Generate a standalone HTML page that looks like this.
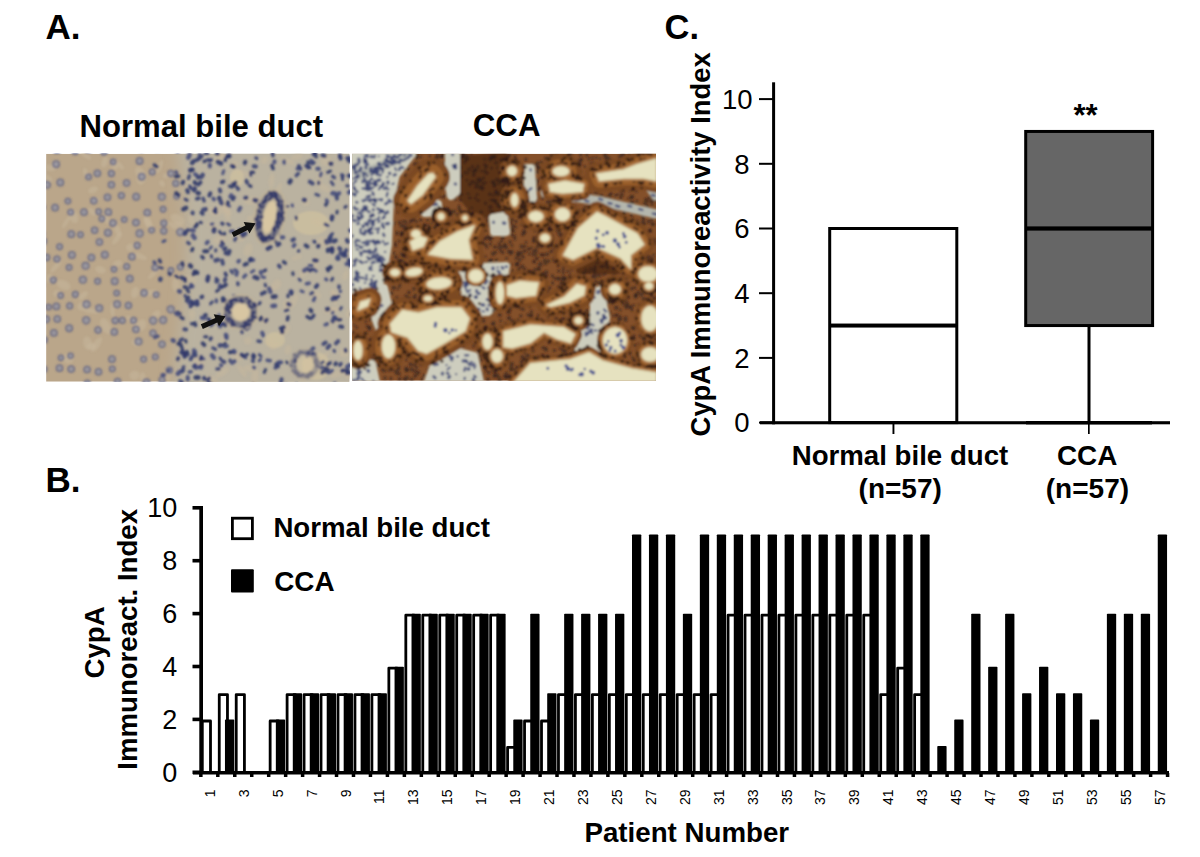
<!DOCTYPE html>
<html><head><meta charset="utf-8"><style>
html,body{margin:0;padding:0;background:#fff;}
body{width:1200px;height:857px;overflow:hidden;}
svg{display:block;}
text{font-family:"Liberation Sans",sans-serif;}
</style></head><body>
<svg width="1200" height="857" viewBox="0 0 1200 857">
<defs>
<filter id="blur2" x="-5%" y="-5%" width="110%" height="110%"><feGaussianBlur stdDeviation="1.2"/></filter>
<filter id="blur3" x="-5%" y="-5%" width="110%" height="110%"><feGaussianBlur stdDeviation="0.8"/></filter>
<filter id="blur6" x="-20%" y="-20%" width="140%" height="140%"><feGaussianBlur stdDeviation="7"/></filter>
<filter id="blur1" x="-5%" y="-5%" width="110%" height="110%"><feGaussianBlur stdDeviation="0.7"/></filter>
<linearGradient id="ngrad" x1="0" y1="0" x2="1" y2="0">
<stop offset="0" stop-color="#c8b090" stop-opacity="0.5"/>
<stop offset="0.5" stop-color="#c4ae8e" stop-opacity="0.3"/>
<stop offset="1" stop-color="#a8a8a8" stop-opacity="0.4"/>
</linearGradient>
</defs>
<text x="45.60" y="39.00" font-size="35" font-weight="bold" text-anchor="start" fill="#000">A.</text>
<text x="79.50" y="136.70" font-size="31.1" font-weight="bold" text-anchor="start" fill="#000">Normal bile duct</text>
<text x="472.75" y="136.00" font-size="31.25" font-weight="bold" text-anchor="start" fill="#000">CCA</text>
<clipPath id="cpn"><rect x="46.1" y="153.8" width="303.29999999999995" height="227.89999999999998"/></clipPath>
<g clip-path="url(#cpn)">
<rect x="46.1" y="153.8" width="303.29999999999995" height="227.89999999999998" fill="#baa68a"/>
<g filter="url(#blur6)">
<polygon points="173.8,120.0 175.0,130.0 176.3,140.0 177.6,150.0 178.9,160.0 180.2,170.0 181.5,180.0 182.6,190.0 183.6,200.0 184.5,210.0 185.2,220.0 185.7,230.0 185.9,240.0 186.0,250.0 185.8,260.0 185.4,270.0 184.8,280.0 184.1,290.0 183.1,300.0 182.0,310.0 180.8,320.0 179.5,330.0 178.2,340.0 176.9,350.0 175.6,360.0 174.3,370.0 173.2,380.0 172.2,390.0 171.4,400.0 170.7,410.0 380.0,420.0 380.0,120.0" fill="#bab2a0"/>
</g>
<g filter="url(#blur3)">
<ellipse cx="235.0" cy="322.9" rx="7.8" ry="4.8" transform="rotate(133 235.0 322.9)" fill="#c8b89e" opacity="0.5"/>
<ellipse cx="325.8" cy="160.4" rx="5.8" ry="4.8" transform="rotate(117 325.8 160.4)" fill="#c8b89e" opacity="0.5"/>
<ellipse cx="319.3" cy="179.6" rx="5.8" ry="2.7" transform="rotate(98 319.3 179.6)" fill="#c8b89e" opacity="0.5"/>
<ellipse cx="220.2" cy="156.8" rx="4.3" ry="2.8" transform="rotate(165 220.2 156.8)" fill="#c8b89e" opacity="0.5"/>
<ellipse cx="278.3" cy="190.2" rx="7.8" ry="2.4" transform="rotate(111 278.3 190.2)" fill="#c8b89e" opacity="0.5"/>
<ellipse cx="84.5" cy="154.2" rx="8.2" ry="2.6" transform="rotate(39 84.5 154.2)" fill="#c8b89e" opacity="0.5"/>
<ellipse cx="344.1" cy="352.6" rx="4.7" ry="4.9" transform="rotate(97 344.1 352.6)" fill="#c8b89e" opacity="0.5"/>
<ellipse cx="251.7" cy="200.5" rx="8.6" ry="4.1" transform="rotate(174 251.7 200.5)" fill="#c8b89e" opacity="0.5"/>
<ellipse cx="317.2" cy="221.9" rx="5.2" ry="2.5" transform="rotate(26 317.2 221.9)" fill="#c8b89e" opacity="0.5"/>
<ellipse cx="65.9" cy="222.5" rx="6.6" ry="2.0" transform="rotate(122 65.9 222.5)" fill="#c8b89e" opacity="0.5"/>
<ellipse cx="148.6" cy="224.4" rx="7.9" ry="3.4" transform="rotate(57 148.6 224.4)" fill="#c8b89e" opacity="0.5"/>
<ellipse cx="192.1" cy="314.4" rx="3.3" ry="4.9" transform="rotate(4 192.1 314.4)" fill="#c8b89e" opacity="0.5"/>
<ellipse cx="273.5" cy="346.3" rx="3.1" ry="4.4" transform="rotate(66 273.5 346.3)" fill="#c8b89e" opacity="0.5"/>
<ellipse cx="221.6" cy="155.9" rx="3.3" ry="2.5" transform="rotate(172 221.6 155.9)" fill="#c8b89e" opacity="0.5"/>
<ellipse cx="105.7" cy="326.0" rx="8.6" ry="4.8" transform="rotate(62 105.7 326.0)" fill="#c8b89e" opacity="0.5"/>
<ellipse cx="153.7" cy="273.4" rx="7.7" ry="2.3" transform="rotate(135 153.7 273.4)" fill="#c8b89e" opacity="0.5"/>
<ellipse cx="287.9" cy="349.7" rx="3.2" ry="4.8" transform="rotate(16 287.9 349.7)" fill="#c8b89e" opacity="0.5"/>
<ellipse cx="149.4" cy="293.0" rx="8.5" ry="3.0" transform="rotate(166 149.4 293.0)" fill="#c8b89e" opacity="0.5"/>
<ellipse cx="211.4" cy="225.0" rx="4.9" ry="2.5" transform="rotate(14 211.4 225.0)" fill="#c8b89e" opacity="0.5"/>
<ellipse cx="91.3" cy="310.9" rx="9.0" ry="2.5" transform="rotate(9 91.3 310.9)" fill="#c8b89e" opacity="0.5"/>
<ellipse cx="345.4" cy="275.4" rx="5.4" ry="2.7" transform="rotate(107 345.4 275.4)" fill="#c8b89e" opacity="0.5"/>
<ellipse cx="296.7" cy="257.6" rx="5.5" ry="2.2" transform="rotate(165 296.7 257.6)" fill="#c8b89e" opacity="0.5"/>
<ellipse cx="56.0" cy="266.3" rx="8.0" ry="2.4" transform="rotate(132 56.0 266.3)" fill="#c8b89e" opacity="0.5"/>
<ellipse cx="334.2" cy="297.5" rx="7.7" ry="2.3" transform="rotate(78 334.2 297.5)" fill="#c8b89e" opacity="0.5"/>
<ellipse cx="91.4" cy="346.3" rx="4.8" ry="3.4" transform="rotate(180 91.4 346.3)" fill="#c8b89e" opacity="0.5"/>
<ellipse cx="304.6" cy="376.2" rx="5.7" ry="3.5" transform="rotate(131 304.6 376.2)" fill="#c8b89e" opacity="0.5"/>
<ellipse cx="191.4" cy="220.1" rx="5.4" ry="2.4" transform="rotate(68 191.4 220.1)" fill="#c8b89e" opacity="0.5"/>
<ellipse cx="345.9" cy="372.5" rx="6.8" ry="3.5" transform="rotate(61 345.9 372.5)" fill="#c8b89e" opacity="0.5"/>
<ellipse cx="73.1" cy="215.9" rx="7.7" ry="4.6" transform="rotate(65 73.1 215.9)" fill="#c8b89e" opacity="0.5"/>
<ellipse cx="284.5" cy="330.4" rx="7.2" ry="4.0" transform="rotate(137 284.5 330.4)" fill="#c8b89e" opacity="0.5"/>
<ellipse cx="156.3" cy="314.3" rx="4.7" ry="3.5" transform="rotate(139 156.3 314.3)" fill="#c8b89e" opacity="0.5"/>
<ellipse cx="255.6" cy="220.8" rx="8.7" ry="3.9" transform="rotate(105 255.6 220.8)" fill="#c8b89e" opacity="0.5"/>
<ellipse cx="49.6" cy="278.5" rx="4.5" ry="4.0" transform="rotate(83 49.6 278.5)" fill="#c8b89e" opacity="0.5"/>
<ellipse cx="293.8" cy="301.4" rx="7.8" ry="3.0" transform="rotate(116 293.8 301.4)" fill="#c8b89e" opacity="0.5"/>
<ellipse cx="269.9" cy="342.5" rx="5.1" ry="4.5" transform="rotate(157 269.9 342.5)" fill="#c8b89e" opacity="0.5"/>
<ellipse cx="254.9" cy="376.3" rx="8.7" ry="3.6" transform="rotate(95 254.9 376.3)" fill="#c8b89e" opacity="0.5"/>
<ellipse cx="96.5" cy="344.5" rx="8.6" ry="3.4" transform="rotate(124 96.5 344.5)" fill="#c8b89e" opacity="0.5"/>
<ellipse cx="264.4" cy="320.2" rx="4.0" ry="4.3" transform="rotate(105 264.4 320.2)" fill="#c8b89e" opacity="0.5"/>
<ellipse cx="248.0" cy="249.7" rx="6.7" ry="4.3" transform="rotate(115 248.0 249.7)" fill="#c8b89e" opacity="0.5"/>
<ellipse cx="264.6" cy="160.1" rx="4.0" ry="3.3" transform="rotate(117 264.6 160.1)" fill="#c8b89e" opacity="0.5"/>
<ellipse cx="112.5" cy="310.1" rx="6.8" ry="2.1" transform="rotate(85 112.5 310.1)" fill="#c8b89e" opacity="0.5"/>
<ellipse cx="114.7" cy="166.1" rx="3.8" ry="3.0" transform="rotate(33 114.7 166.1)" fill="#c8b89e" opacity="0.5"/>
<ellipse cx="104.7" cy="161.9" rx="5.8" ry="3.1" transform="rotate(110 104.7 161.9)" fill="#c8b89e" opacity="0.5"/>
<ellipse cx="225.1" cy="208.0" rx="8.4" ry="2.0" transform="rotate(73 225.1 208.0)" fill="#c8b89e" opacity="0.5"/>
<ellipse cx="130.6" cy="247.2" rx="3.7" ry="4.5" transform="rotate(67 130.6 247.2)" fill="#c8b89e" opacity="0.5"/>
<ellipse cx="57.0" cy="293.6" rx="3.6" ry="3.6" transform="rotate(61 57.0 293.6)" fill="#c8b89e" opacity="0.5"/>
<ellipse cx="222.3" cy="372.2" rx="7.9" ry="3.3" transform="rotate(146 222.3 372.2)" fill="#c8b89e" opacity="0.5"/>
<ellipse cx="240.9" cy="238.0" rx="3.9" ry="3.8" transform="rotate(101 240.9 238.0)" fill="#c8b89e" opacity="0.5"/>
<ellipse cx="336.4" cy="374.4" rx="6.7" ry="3.1" transform="rotate(161 336.4 374.4)" fill="#c8b89e" opacity="0.5"/>
<ellipse cx="46.4" cy="178.4" rx="6.4" ry="3.8" transform="rotate(25 46.4 178.4)" fill="#c8b89e" opacity="0.5"/>
<ellipse cx="237.0" cy="356.9" rx="5.3" ry="3.3" transform="rotate(41 237.0 356.9)" fill="#c8b89e" opacity="0.5"/>
<ellipse cx="134.5" cy="375.4" rx="5.3" ry="4.9" transform="rotate(164 134.5 375.4)" fill="#c8b89e" opacity="0.5"/>
<ellipse cx="226.8" cy="213.0" rx="8.9" ry="3.5" transform="rotate(75 226.8 213.0)" fill="#c8b89e" opacity="0.5"/>
<ellipse cx="142.9" cy="378.1" rx="6.0" ry="2.9" transform="rotate(86 142.9 378.1)" fill="#c8b89e" opacity="0.5"/>
<ellipse cx="83.1" cy="295.5" rx="5.7" ry="2.9" transform="rotate(141 83.1 295.5)" fill="#c8b89e" opacity="0.5"/>
<ellipse cx="296.9" cy="156.8" rx="6.2" ry="2.8" transform="rotate(168 296.9 156.8)" fill="#c8b89e" opacity="0.5"/>
<ellipse cx="283.3" cy="209.8" rx="4.6" ry="2.5" transform="rotate(178 283.3 209.8)" fill="#c8b89e" opacity="0.5"/>
<ellipse cx="135.0" cy="292.4" rx="5.8" ry="3.9" transform="rotate(109 135.0 292.4)" fill="#c8b89e" opacity="0.5"/>
<ellipse cx="271.6" cy="180.7" rx="7.6" ry="2.9" transform="rotate(96 271.6 180.7)" fill="#c8b89e" opacity="0.5"/>
<ellipse cx="148.0" cy="221.4" rx="6.2" ry="3.4" transform="rotate(65 148.0 221.4)" fill="#c8b89e" opacity="0.5"/>
<ellipse cx="272.1" cy="288.4" rx="3.2" ry="2.8" transform="rotate(82 272.1 288.4)" fill="#c8b89e" opacity="0.5"/>
<ellipse cx="324.1" cy="356.2" rx="6.3" ry="2.0" transform="rotate(140 324.1 356.2)" fill="#c8b89e" opacity="0.5"/>
<ellipse cx="175.8" cy="285.0" rx="7.2" ry="3.9" transform="rotate(87 175.8 285.0)" fill="#c8b89e" opacity="0.5"/>
<ellipse cx="322.6" cy="241.6" rx="5.4" ry="4.6" transform="rotate(35 322.6 241.6)" fill="#c8b89e" opacity="0.5"/>
<ellipse cx="136.0" cy="343.0" rx="3.4" ry="4.5" transform="rotate(125 136.0 343.0)" fill="#c8b89e" opacity="0.5"/>
<ellipse cx="177.4" cy="219.1" rx="7.7" ry="4.7" transform="rotate(26 177.4 219.1)" fill="#c8b89e" opacity="0.5"/>
<ellipse cx="191.2" cy="278.9" rx="6.0" ry="3.0" transform="rotate(28 191.2 278.9)" fill="#c8b89e" opacity="0.5"/>
<ellipse cx="223.8" cy="338.8" rx="3.4" ry="2.7" transform="rotate(148 223.8 338.8)" fill="#c8b89e" opacity="0.5"/>
<ellipse cx="286.2" cy="305.0" rx="3.2" ry="4.2" transform="rotate(176 286.2 305.0)" fill="#c8b89e" opacity="0.5"/>
<ellipse cx="348.9" cy="313.6" rx="3.3" ry="4.5" transform="rotate(39 348.9 313.6)" fill="#c8b89e" opacity="0.5"/>
<ellipse cx="242.0" cy="370.8" rx="7.3" ry="2.4" transform="rotate(53 242.0 370.8)" fill="#c8b89e" opacity="0.5"/>
<ellipse cx="324.5" cy="187.9" rx="6.7" ry="3.2" transform="rotate(29 324.5 187.9)" fill="#c8b89e" opacity="0.5"/>
<ellipse cx="234.9" cy="163.7" rx="3.6" ry="3.1" transform="rotate(13 234.9 163.7)" fill="#c8b89e" opacity="0.5"/>
<ellipse cx="63.6" cy="284.9" rx="7.5" ry="4.6" transform="rotate(24 63.6 284.9)" fill="#c8b89e" opacity="0.5"/>
<ellipse cx="177.0" cy="225.5" rx="6.6" ry="3.5" transform="rotate(169 177.0 225.5)" fill="#c8b89e" opacity="0.5"/>
<ellipse cx="159.6" cy="166.5" rx="7.2" ry="2.5" transform="rotate(114 159.6 166.5)" fill="#c8b89e" opacity="0.5"/>
<ellipse cx="199.5" cy="361.3" rx="6.3" ry="3.9" transform="rotate(47 199.5 361.3)" fill="#c8b89e" opacity="0.5"/>
<ellipse cx="213.4" cy="211.7" rx="7.5" ry="3.6" transform="rotate(24 213.4 211.7)" fill="#c8b89e" opacity="0.5"/>
<ellipse cx="117.2" cy="238.4" rx="7.4" ry="2.5" transform="rotate(128 117.2 238.4)" fill="#c8b89e" opacity="0.5"/>
<ellipse cx="244.8" cy="173.2" rx="7.0" ry="2.3" transform="rotate(22 244.8 173.2)" fill="#c8b89e" opacity="0.5"/>
<ellipse cx="226.3" cy="208.2" rx="8.3" ry="3.4" transform="rotate(58 226.3 208.2)" fill="#c8b89e" opacity="0.5"/>
<ellipse cx="287.7" cy="160.5" rx="7.4" ry="2.2" transform="rotate(27 287.7 160.5)" fill="#c8b89e" opacity="0.5"/>
<ellipse cx="334.9" cy="309.0" rx="4.3" ry="2.3" transform="rotate(175 334.9 309.0)" fill="#c8b89e" opacity="0.5"/>
<ellipse cx="247.8" cy="340.8" rx="3.8" ry="3.9" transform="rotate(64 247.8 340.8)" fill="#c8b89e" opacity="0.5"/>
<ellipse cx="117.4" cy="229.8" rx="6.7" ry="3.0" transform="rotate(69 117.4 229.8)" fill="#c8b89e" opacity="0.5"/>
<ellipse cx="87.5" cy="343.2" rx="6.9" ry="4.4" transform="rotate(78 87.5 343.2)" fill="#c8b89e" opacity="0.5"/>
<ellipse cx="304.4" cy="271.7" rx="6.6" ry="3.7" transform="rotate(133 304.4 271.7)" fill="#c8b89e" opacity="0.5"/>
<ellipse cx="166.1" cy="175.9" rx="3.2" ry="2.6" transform="rotate(7 166.1 175.9)" fill="#c8b89e" opacity="0.5"/>
<ellipse cx="315.8" cy="263.4" rx="7.6" ry="2.0" transform="rotate(85 315.8 263.4)" fill="#c8b89e" opacity="0.5"/>
<ellipse cx="316.0" cy="295.0" rx="5.6" ry="3.4" transform="rotate(18 316.0 295.0)" fill="#c8b89e" opacity="0.5"/>
<ellipse cx="93.0" cy="190.0" rx="5.2" ry="3.2" transform="rotate(158 93.0 190.0)" fill="#c8b89e" opacity="0.5"/>
<ellipse cx="92.2" cy="211.7" rx="4.7" ry="2.5" transform="rotate(52 92.2 211.7)" fill="#c8b89e" opacity="0.5"/>
<ellipse cx="117.4" cy="263.7" rx="3.2" ry="4.8" transform="rotate(66 117.4 263.7)" fill="#c8b89e" opacity="0.5"/>
<ellipse cx="330.6" cy="310.5" rx="7.0" ry="3.4" transform="rotate(170 330.6 310.5)" fill="#c8b89e" opacity="0.5"/>
<ellipse cx="81.9" cy="306.2" rx="4.7" ry="4.0" transform="rotate(131 81.9 306.2)" fill="#c8b89e" opacity="0.5"/>
<ellipse cx="95.6" cy="199.6" rx="3.1" ry="2.7" transform="rotate(14 95.6 199.6)" fill="#c8b89e" opacity="0.5"/>
<ellipse cx="167.7" cy="375.7" rx="5.2" ry="2.9" transform="rotate(84 167.7 375.7)" fill="#c8b89e" opacity="0.5"/>
<ellipse cx="132.0" cy="320.7" rx="7.3" ry="2.5" transform="rotate(43 132.0 320.7)" fill="#c8b89e" opacity="0.5"/>
<ellipse cx="250.0" cy="368.1" rx="6.9" ry="3.3" transform="rotate(176 250.0 368.1)" fill="#c8b89e" opacity="0.5"/>
<ellipse cx="48.0" cy="167.7" rx="7.7" ry="3.2" transform="rotate(8 48.0 167.7)" fill="#c8b89e" opacity="0.5"/>
<ellipse cx="212.4" cy="379.3" rx="6.1" ry="3.1" transform="rotate(17 212.4 379.3)" fill="#c8b89e" opacity="0.5"/>
<ellipse cx="67.7" cy="358.6" rx="5.9" ry="4.8" transform="rotate(10 67.7 358.6)" fill="#c8b89e" opacity="0.5"/>
<ellipse cx="119.9" cy="165.3" rx="5.4" ry="2.2" transform="rotate(46 119.9 165.3)" fill="#c8b89e" opacity="0.5"/>
<ellipse cx="169.7" cy="223.5" rx="3.3" ry="2.1" transform="rotate(175 169.7 223.5)" fill="#c8b89e" opacity="0.5"/>
<ellipse cx="100.5" cy="269.7" rx="5.4" ry="3.6" transform="rotate(15 100.5 269.7)" fill="#c8b89e" opacity="0.5"/>
<ellipse cx="141.3" cy="178.4" rx="6.3" ry="4.8" transform="rotate(108 141.3 178.4)" fill="#c8b89e" opacity="0.5"/>
<ellipse cx="306.0" cy="202.7" rx="3.1" ry="3.6" transform="rotate(88 306.0 202.7)" fill="#c8b89e" opacity="0.5"/>
<ellipse cx="219.4" cy="239.6" rx="6.8" ry="4.2" transform="rotate(164 219.4 239.6)" fill="#c8b89e" opacity="0.5"/>
<ellipse cx="139.4" cy="256.1" rx="8.0" ry="2.7" transform="rotate(21 139.4 256.1)" fill="#c8b89e" opacity="0.5"/>
<ellipse cx="140.6" cy="173.8" rx="7.6" ry="4.5" transform="rotate(56 140.6 173.8)" fill="#c8b89e" opacity="0.5"/>
<ellipse cx="85.5" cy="172.5" rx="4.5" ry="2.3" transform="rotate(77 85.5 172.5)" fill="#c8b89e" opacity="0.5"/>
<ellipse cx="221.1" cy="209.7" rx="3.4" ry="4.1" transform="rotate(9 221.1 209.7)" fill="#c8b89e" opacity="0.5"/>
<ellipse cx="106.7" cy="219.0" rx="5.2" ry="2.3" transform="rotate(76 106.7 219.0)" fill="#c8b89e" opacity="0.5"/>
<ellipse cx="141.3" cy="325.3" rx="6.3" ry="4.7" transform="rotate(118 141.3 325.3)" fill="#c8b89e" opacity="0.5"/>
<ellipse cx="276.5" cy="284.8" rx="5.7" ry="4.5" transform="rotate(118 276.5 284.8)" fill="#c8b89e" opacity="0.5"/>
<ellipse cx="335.7" cy="319.7" rx="7.2" ry="2.8" transform="rotate(146 335.7 319.7)" fill="#c8b89e" opacity="0.5"/>
<ellipse cx="162.1" cy="183.5" rx="3.4" ry="2.5" transform="rotate(47 162.1 183.5)" fill="#c8b89e" opacity="0.5"/>
<ellipse cx="251.1" cy="218.9" rx="3.4" ry="4.3" transform="rotate(100 251.1 218.9)" fill="#c8b89e" opacity="0.5"/>
<ellipse cx="54.4" cy="165.3" rx="3.8" ry="3.1" transform="rotate(155 54.4 165.3)" fill="#c8b89e" opacity="0.5"/>
<ellipse cx="334.0" cy="293.3" rx="4.4" ry="3.3" transform="rotate(65 334.0 293.3)" fill="#c8b89e" opacity="0.5"/>
<ellipse cx="237" cy="178" rx="7" ry="9" fill="#cdbf9f" opacity="0.8"/>
<ellipse cx="311" cy="223" rx="18" ry="12" fill="#cdbf9f" opacity="0.8"/>
<ellipse cx="316" cy="366" rx="14" ry="14" fill="#cdbf9f" opacity="0.8"/>
<ellipse cx="275" cy="340" rx="10" ry="8" fill="#cdbf9f" opacity="0.8"/>
<circle cx="56.9" cy="150.0" r="3.2" fill="#8e92a6" stroke="#4c5482" stroke-width="1.5" opacity="0.7"/>
<circle cx="75.2" cy="151.6" r="2.9" fill="#8e92a6" stroke="#4c5482" stroke-width="1.5" opacity="0.7"/>
<circle cx="87.9" cy="149.4" r="3.2" fill="#8e92a6" stroke="#4c5482" stroke-width="1.5" opacity="0.7"/>
<circle cx="104.1" cy="152.6" r="2.7" fill="#8e92a6" stroke="#4c5482" stroke-width="1.5" opacity="0.7"/>
<circle cx="141.4" cy="148.5" r="3.0" fill="#8e92a6" stroke="#4c5482" stroke-width="1.5" opacity="0.7"/>
<circle cx="157.4" cy="148.2" r="2.8" fill="#8e92a6" stroke="#4c5482" stroke-width="1.5" opacity="0.7"/>
<circle cx="40.2" cy="160.8" r="3.2" fill="#8e92a6" stroke="#4c5482" stroke-width="1.5" opacity="0.7"/>
<circle cx="56.1" cy="164.2" r="3.2" fill="#8e92a6" stroke="#4c5482" stroke-width="1.5" opacity="0.7"/>
<circle cx="113.2" cy="161.9" r="2.6" fill="#8e92a6" stroke="#4c5482" stroke-width="1.5" opacity="0.7"/>
<circle cx="139.6" cy="161.0" r="3.2" fill="#8e92a6" stroke="#4c5482" stroke-width="1.5" opacity="0.7"/>
<circle cx="41.1" cy="172.0" r="2.7" fill="#8e92a6" stroke="#4c5482" stroke-width="1.5" opacity="0.7"/>
<circle cx="88.6" cy="176.9" r="2.7" fill="#8e92a6" stroke="#4c5482" stroke-width="1.5" opacity="0.7"/>
<circle cx="97.4" cy="173.3" r="3.1" fill="#8e92a6" stroke="#4c5482" stroke-width="1.5" opacity="0.7"/>
<circle cx="111.4" cy="173.5" r="2.9" fill="#8e92a6" stroke="#4c5482" stroke-width="1.5" opacity="0.7"/>
<circle cx="141.7" cy="176.8" r="3.2" fill="#8e92a6" stroke="#4c5482" stroke-width="1.5" opacity="0.7"/>
<circle cx="152.3" cy="171.8" r="2.9" fill="#8e92a6" stroke="#4c5482" stroke-width="1.5" opacity="0.7"/>
<circle cx="170.8" cy="173.4" r="3.0" fill="#8e92a6" stroke="#4c5482" stroke-width="1.5" opacity="0.7"/>
<circle cx="46.9" cy="184.8" r="3.3" fill="#8e92a6" stroke="#4c5482" stroke-width="1.5" opacity="0.7"/>
<circle cx="60.3" cy="182.5" r="3.2" fill="#8e92a6" stroke="#4c5482" stroke-width="1.5" opacity="0.7"/>
<circle cx="111.4" cy="184.8" r="3.0" fill="#8e92a6" stroke="#4c5482" stroke-width="1.5" opacity="0.7"/>
<circle cx="126.6" cy="183.0" r="3.0" fill="#8e92a6" stroke="#4c5482" stroke-width="1.5" opacity="0.7"/>
<circle cx="175.8" cy="183.4" r="2.8" fill="#8e92a6" stroke="#4c5482" stroke-width="1.5" opacity="0.7"/>
<circle cx="67.9" cy="201.1" r="2.7" fill="#8e92a6" stroke="#4c5482" stroke-width="1.5" opacity="0.7"/>
<circle cx="93.8" cy="200.8" r="3.0" fill="#8e92a6" stroke="#4c5482" stroke-width="1.5" opacity="0.7"/>
<circle cx="107.5" cy="197.3" r="3.1" fill="#8e92a6" stroke="#4c5482" stroke-width="1.5" opacity="0.7"/>
<circle cx="121.4" cy="195.6" r="2.9" fill="#8e92a6" stroke="#4c5482" stroke-width="1.5" opacity="0.7"/>
<circle cx="136.2" cy="196.8" r="3.2" fill="#8e92a6" stroke="#4c5482" stroke-width="1.5" opacity="0.7"/>
<circle cx="161.8" cy="196.7" r="3.3" fill="#8e92a6" stroke="#4c5482" stroke-width="1.5" opacity="0.7"/>
<circle cx="176.6" cy="196.3" r="2.6" fill="#8e92a6" stroke="#4c5482" stroke-width="1.5" opacity="0.7"/>
<circle cx="41.9" cy="207.3" r="3.1" fill="#8e92a6" stroke="#4c5482" stroke-width="1.5" opacity="0.7"/>
<circle cx="55.1" cy="207.7" r="3.1" fill="#8e92a6" stroke="#4c5482" stroke-width="1.5" opacity="0.7"/>
<circle cx="70.7" cy="212.3" r="2.8" fill="#8e92a6" stroke="#4c5482" stroke-width="1.5" opacity="0.7"/>
<circle cx="84.0" cy="212.2" r="3.1" fill="#8e92a6" stroke="#4c5482" stroke-width="1.5" opacity="0.7"/>
<circle cx="98.6" cy="211.8" r="2.7" fill="#8e92a6" stroke="#4c5482" stroke-width="1.5" opacity="0.7"/>
<circle cx="108.3" cy="212.2" r="3.1" fill="#8e92a6" stroke="#4c5482" stroke-width="1.5" opacity="0.7"/>
<circle cx="147.3" cy="212.7" r="3.1" fill="#8e92a6" stroke="#4c5482" stroke-width="1.5" opacity="0.7"/>
<circle cx="163.1" cy="209.3" r="2.7" fill="#8e92a6" stroke="#4c5482" stroke-width="1.5" opacity="0.7"/>
<circle cx="101.9" cy="218.8" r="2.7" fill="#8e92a6" stroke="#4c5482" stroke-width="1.5" opacity="0.7"/>
<circle cx="112.9" cy="223.1" r="3.2" fill="#8e92a6" stroke="#4c5482" stroke-width="1.5" opacity="0.7"/>
<circle cx="124.2" cy="219.5" r="2.6" fill="#8e92a6" stroke="#4c5482" stroke-width="1.5" opacity="0.7"/>
<circle cx="136.0" cy="222.6" r="3.1" fill="#8e92a6" stroke="#4c5482" stroke-width="1.5" opacity="0.7"/>
<circle cx="163.9" cy="223.2" r="2.9" fill="#8e92a6" stroke="#4c5482" stroke-width="1.5" opacity="0.7"/>
<circle cx="41.4" cy="233.6" r="3.2" fill="#8e92a6" stroke="#4c5482" stroke-width="1.5" opacity="0.7"/>
<circle cx="71.3" cy="234.2" r="3.1" fill="#8e92a6" stroke="#4c5482" stroke-width="1.5" opacity="0.7"/>
<circle cx="80.5" cy="234.7" r="2.6" fill="#8e92a6" stroke="#4c5482" stroke-width="1.5" opacity="0.7"/>
<circle cx="94.6" cy="230.3" r="3.0" fill="#8e92a6" stroke="#4c5482" stroke-width="1.5" opacity="0.7"/>
<circle cx="107.9" cy="232.8" r="3.2" fill="#8e92a6" stroke="#4c5482" stroke-width="1.5" opacity="0.7"/>
<circle cx="139.6" cy="233.4" r="3.3" fill="#8e92a6" stroke="#4c5482" stroke-width="1.5" opacity="0.7"/>
<circle cx="151.6" cy="230.1" r="2.7" fill="#8e92a6" stroke="#4c5482" stroke-width="1.5" opacity="0.7"/>
<circle cx="163.8" cy="231.0" r="2.9" fill="#8e92a6" stroke="#4c5482" stroke-width="1.5" opacity="0.7"/>
<circle cx="180.2" cy="232.0" r="3.4" fill="#8e92a6" stroke="#4c5482" stroke-width="1.5" opacity="0.7"/>
<circle cx="43.1" cy="241.2" r="3.4" fill="#8e92a6" stroke="#4c5482" stroke-width="1.5" opacity="0.7"/>
<circle cx="59.6" cy="246.7" r="2.7" fill="#8e92a6" stroke="#4c5482" stroke-width="1.5" opacity="0.7"/>
<circle cx="99.4" cy="242.1" r="3.0" fill="#8e92a6" stroke="#4c5482" stroke-width="1.5" opacity="0.7"/>
<circle cx="137.1" cy="245.5" r="2.9" fill="#8e92a6" stroke="#4c5482" stroke-width="1.5" opacity="0.7"/>
<circle cx="46.7" cy="257.5" r="2.9" fill="#8e92a6" stroke="#4c5482" stroke-width="1.5" opacity="0.7"/>
<circle cx="57.0" cy="259.1" r="2.9" fill="#8e92a6" stroke="#4c5482" stroke-width="1.5" opacity="0.7"/>
<circle cx="71.9" cy="254.9" r="3.2" fill="#8e92a6" stroke="#4c5482" stroke-width="1.5" opacity="0.7"/>
<circle cx="91.4" cy="257.6" r="3.1" fill="#8e92a6" stroke="#4c5482" stroke-width="1.5" opacity="0.7"/>
<circle cx="104.8" cy="254.8" r="3.2" fill="#8e92a6" stroke="#4c5482" stroke-width="1.5" opacity="0.7"/>
<circle cx="132.0" cy="256.7" r="3.1" fill="#8e92a6" stroke="#4c5482" stroke-width="1.5" opacity="0.7"/>
<circle cx="69.1" cy="267.4" r="2.7" fill="#8e92a6" stroke="#4c5482" stroke-width="1.5" opacity="0.7"/>
<circle cx="85.6" cy="265.8" r="3.3" fill="#8e92a6" stroke="#4c5482" stroke-width="1.5" opacity="0.7"/>
<circle cx="114.0" cy="269.2" r="2.6" fill="#8e92a6" stroke="#4c5482" stroke-width="1.5" opacity="0.7"/>
<circle cx="126.7" cy="266.5" r="2.8" fill="#8e92a6" stroke="#4c5482" stroke-width="1.5" opacity="0.7"/>
<circle cx="155.1" cy="267.7" r="2.9" fill="#8e92a6" stroke="#4c5482" stroke-width="1.5" opacity="0.7"/>
<circle cx="170.9" cy="270.5" r="2.7" fill="#8e92a6" stroke="#4c5482" stroke-width="1.5" opacity="0.7"/>
<circle cx="180.3" cy="267.1" r="2.8" fill="#8e92a6" stroke="#4c5482" stroke-width="1.5" opacity="0.7"/>
<circle cx="41.3" cy="284.0" r="3.0" fill="#8e92a6" stroke="#4c5482" stroke-width="1.5" opacity="0.7"/>
<circle cx="53.3" cy="280.1" r="2.9" fill="#8e92a6" stroke="#4c5482" stroke-width="1.5" opacity="0.7"/>
<circle cx="82.9" cy="279.8" r="3.3" fill="#8e92a6" stroke="#4c5482" stroke-width="1.5" opacity="0.7"/>
<circle cx="97.6" cy="281.3" r="2.7" fill="#8e92a6" stroke="#4c5482" stroke-width="1.5" opacity="0.7"/>
<circle cx="114.7" cy="281.3" r="3.2" fill="#8e92a6" stroke="#4c5482" stroke-width="1.5" opacity="0.7"/>
<circle cx="129.8" cy="278.7" r="3.1" fill="#8e92a6" stroke="#4c5482" stroke-width="1.5" opacity="0.7"/>
<circle cx="60.6" cy="295.4" r="2.6" fill="#8e92a6" stroke="#4c5482" stroke-width="1.5" opacity="0.7"/>
<circle cx="75.4" cy="294.4" r="2.8" fill="#8e92a6" stroke="#4c5482" stroke-width="1.5" opacity="0.7"/>
<circle cx="116.7" cy="293.0" r="2.6" fill="#8e92a6" stroke="#4c5482" stroke-width="1.5" opacity="0.7"/>
<circle cx="144.1" cy="292.9" r="3.1" fill="#8e92a6" stroke="#4c5482" stroke-width="1.5" opacity="0.7"/>
<circle cx="156.1" cy="294.6" r="2.7" fill="#8e92a6" stroke="#4c5482" stroke-width="1.5" opacity="0.7"/>
<circle cx="48.5" cy="307.1" r="2.7" fill="#8e92a6" stroke="#4c5482" stroke-width="1.5" opacity="0.7"/>
<circle cx="56.4" cy="306.4" r="3.1" fill="#8e92a6" stroke="#4c5482" stroke-width="1.5" opacity="0.7"/>
<circle cx="69.7" cy="305.9" r="2.8" fill="#8e92a6" stroke="#4c5482" stroke-width="1.5" opacity="0.7"/>
<circle cx="86.5" cy="304.4" r="3.3" fill="#8e92a6" stroke="#4c5482" stroke-width="1.5" opacity="0.7"/>
<circle cx="99.2" cy="308.3" r="3.3" fill="#8e92a6" stroke="#4c5482" stroke-width="1.5" opacity="0.7"/>
<circle cx="117.1" cy="304.3" r="3.3" fill="#8e92a6" stroke="#4c5482" stroke-width="1.5" opacity="0.7"/>
<circle cx="128.4" cy="305.4" r="3.0" fill="#8e92a6" stroke="#4c5482" stroke-width="1.5" opacity="0.7"/>
<circle cx="170.7" cy="309.3" r="3.4" fill="#8e92a6" stroke="#4c5482" stroke-width="1.5" opacity="0.7"/>
<circle cx="46.0" cy="319.2" r="3.3" fill="#8e92a6" stroke="#4c5482" stroke-width="1.5" opacity="0.7"/>
<circle cx="57.3" cy="319.0" r="3.1" fill="#8e92a6" stroke="#4c5482" stroke-width="1.5" opacity="0.7"/>
<circle cx="86.2" cy="320.3" r="3.4" fill="#8e92a6" stroke="#4c5482" stroke-width="1.5" opacity="0.7"/>
<circle cx="115.2" cy="320.5" r="2.9" fill="#8e92a6" stroke="#4c5482" stroke-width="1.5" opacity="0.7"/>
<circle cx="122.3" cy="320.4" r="2.8" fill="#8e92a6" stroke="#4c5482" stroke-width="1.5" opacity="0.7"/>
<circle cx="133.5" cy="320.3" r="2.9" fill="#8e92a6" stroke="#4c5482" stroke-width="1.5" opacity="0.7"/>
<circle cx="153.2" cy="320.5" r="3.4" fill="#8e92a6" stroke="#4c5482" stroke-width="1.5" opacity="0.7"/>
<circle cx="163.1" cy="320.1" r="3.3" fill="#8e92a6" stroke="#4c5482" stroke-width="1.5" opacity="0.7"/>
<circle cx="53.9" cy="332.9" r="3.1" fill="#8e92a6" stroke="#4c5482" stroke-width="1.5" opacity="0.7"/>
<circle cx="69.2" cy="328.3" r="3.2" fill="#8e92a6" stroke="#4c5482" stroke-width="1.5" opacity="0.7"/>
<circle cx="98.1" cy="330.1" r="3.0" fill="#8e92a6" stroke="#4c5482" stroke-width="1.5" opacity="0.7"/>
<circle cx="114.2" cy="331.9" r="3.1" fill="#8e92a6" stroke="#4c5482" stroke-width="1.5" opacity="0.7"/>
<circle cx="136.0" cy="329.3" r="3.1" fill="#8e92a6" stroke="#4c5482" stroke-width="1.5" opacity="0.7"/>
<circle cx="153.0" cy="333.2" r="2.9" fill="#8e92a6" stroke="#4c5482" stroke-width="1.5" opacity="0.7"/>
<circle cx="44.4" cy="339.9" r="2.8" fill="#8e92a6" stroke="#4c5482" stroke-width="1.5" opacity="0.7"/>
<circle cx="138.5" cy="341.5" r="3.3" fill="#8e92a6" stroke="#4c5482" stroke-width="1.5" opacity="0.7"/>
<circle cx="162.0" cy="344.3" r="3.0" fill="#8e92a6" stroke="#4c5482" stroke-width="1.5" opacity="0.7"/>
<circle cx="61.0" cy="357.8" r="2.6" fill="#8e92a6" stroke="#4c5482" stroke-width="1.5" opacity="0.7"/>
<circle cx="70.5" cy="355.8" r="2.6" fill="#8e92a6" stroke="#4c5482" stroke-width="1.5" opacity="0.7"/>
<circle cx="112.0" cy="359.2" r="3.1" fill="#8e92a6" stroke="#4c5482" stroke-width="1.5" opacity="0.7"/>
<circle cx="143.6" cy="359.3" r="2.7" fill="#8e92a6" stroke="#4c5482" stroke-width="1.5" opacity="0.7"/>
<circle cx="155.3" cy="356.9" r="2.7" fill="#8e92a6" stroke="#4c5482" stroke-width="1.5" opacity="0.7"/>
<circle cx="43.8" cy="369.2" r="3.0" fill="#8e92a6" stroke="#4c5482" stroke-width="1.5" opacity="0.7"/>
<circle cx="59.5" cy="368.2" r="3.1" fill="#8e92a6" stroke="#4c5482" stroke-width="1.5" opacity="0.7"/>
<circle cx="71.2" cy="369.1" r="3.1" fill="#8e92a6" stroke="#4c5482" stroke-width="1.5" opacity="0.7"/>
<circle cx="87.1" cy="369.5" r="3.1" fill="#8e92a6" stroke="#4c5482" stroke-width="1.5" opacity="0.7"/>
<circle cx="98.5" cy="371.8" r="3.1" fill="#8e92a6" stroke="#4c5482" stroke-width="1.5" opacity="0.7"/>
<circle cx="112.3" cy="368.9" r="2.7" fill="#8e92a6" stroke="#4c5482" stroke-width="1.5" opacity="0.7"/>
<circle cx="169.4" cy="370.2" r="3.0" fill="#8e92a6" stroke="#4c5482" stroke-width="1.5" opacity="0.7"/>
<circle cx="87.3" cy="383.1" r="2.8" fill="#8e92a6" stroke="#4c5482" stroke-width="1.5" opacity="0.7"/>
<circle cx="117.6" cy="381.5" r="3.0" fill="#8e92a6" stroke="#4c5482" stroke-width="1.5" opacity="0.7"/>
<circle cx="146.4" cy="382.3" r="3.2" fill="#8e92a6" stroke="#4c5482" stroke-width="1.5" opacity="0.7"/>
<circle cx="162.1" cy="380.0" r="2.9" fill="#8e92a6" stroke="#4c5482" stroke-width="1.5" opacity="0.7"/>
<path d="M298.3 173.6l-2.0 2.0M212.9 348.0l2.5 1.3M339.0 286.1l0.1 1.7M181.1 352.1l-0.0 1.0M258.0 341.1l2.4 0.3M312.7 292.8l-1.7 0.9M179.9 380.9l2.3 1.0M332.7 176.4l1.7 1.2M189.4 175.8l-0.9 2.6M325.3 224.3l2.2 1.2M214.1 210.8l1.9 1.6M341.8 174.8l1.3 0.9M223.3 323.5l-1.9 0.2M285.6 384.6l-1.4 1.4M236.1 238.1l-1.3 1.9M203.1 198.3l1.0 2.6M266.4 228.0l-2.1 0.9M187.8 242.7l1.4 1.0M278.3 366.4l-3.1 1.4M252.6 360.8l0.7 0.6M217.0 369.1l2.2 0.0M237.8 283.1l0.2 1.5M188.1 354.7l-2.9 0.2M243.0 355.4l2.6 2.1" stroke="#3a4272" stroke-width="3.5" stroke-linecap="round" fill="none" stroke-opacity="0.9"/>
<path d="M179.4 343.2l-1.0 0.6M318.8 245.5l-0.8 1.0M305.6 245.4l1.9 1.3M196.9 224.4l-1.6 2.0M330.1 163.5l1.2 0.3M202.7 343.4l1.7 1.6M205.8 315.0l-0.9 0.4M219.5 197.6l-0.6 0.6M352.0 314.2l1.5 0.0M204.2 251.2l3.1 0.1M194.6 182.2l0.8 1.1M246.8 263.9l-2.2 0.8M283.8 327.4l-3.0 1.0M227.9 202.4l-0.4 2.3M225.9 284.8l-2.2 1.3M335.9 363.4l-0.5 0.8M343.3 370.3l-1.1 0.7M323.4 371.3l-1.2 1.4M310.4 309.9l1.0 1.2M327.9 249.5l-0.1 1.6M232.9 352.0l-3.0 0.2M245.3 161.7l-0.5 1.4M176.2 193.2l2.1 1.8" stroke="#2e3666" stroke-width="4.0" stroke-linecap="round" fill="none" stroke-opacity="0.9"/>
<path d="M220.0 284.6l-1.1 2.4M314.0 353.3l-1.7 0.8M201.5 318.1l0.8 0.3M231.0 319.9l1.3 1.0M261.9 276.7l2.7 0.8M201.9 358.7l1.9 0.3M260.5 359.4l-1.3 1.4M292.1 204.9l0.4 1.1M169.5 370.1l-1.8 0.8M212.9 223.9l-1.8 0.3M340.7 291.3l-0.8 0.2M301.0 290.8l2.2 1.0M309.3 265.4l3.0 0.1M175.9 171.7l1.0 1.5M234.2 270.0l1.8 0.1M333.2 312.2l-1.0 0.8M228.2 205.4l1.4 1.0M207.3 280.1l0.3 1.4M253.9 270.5l-2.6 1.7M211.4 246.9l-1.3 1.6M321.2 173.2l-0.9 2.9M221.7 286.9l-1.0 0.3M219.4 314.9l-1.0 0.6M195.5 364.7l-1.3 1.1M165.1 240.6l-2.2 1.0M339.5 155.5l0.2 1.6M223.8 170.7l-1.1 3.1M190.6 186.7l-0.1 1.4" stroke="#464e7c" stroke-width="3.0" stroke-linecap="round" fill="none" stroke-opacity="0.9"/>
<path d="M186.9 289.7l1.9 2.2M265.6 369.5l-1.3 2.9M288.0 295.0l0.0 1.8M330.4 171.1l-2.7 1.2M327.0 268.8l1.2 2.1M185.6 340.2l0.5 1.9M230.1 156.3l-1.5 0.9M277.8 231.4l1.4 2.9M346.2 206.4l-1.3 1.0M218.8 289.8l-2.2 1.5M292.8 272.7l0.3 1.9M211.4 159.8l-2.5 0.8M225.1 344.8l-1.1 0.1M286.7 362.0l0.7 0.8M260.4 207.3l-2.4 1.8M247.5 354.2l-1.3 0.7M337.2 211.3l-0.3 1.8M225.0 343.0l0.1 1.1M204.7 336.8l2.0 0.0M252.4 172.0l1.2 0.5M224.6 233.2l-0.2 1.3M177.7 312.2l2.4 1.6M348.1 369.7l-2.4 1.2M200.3 222.3l1.0 0.4M296.6 384.2l0.4 2.2M292.1 292.3l-0.3 1.9M249.2 185.4l1.8 1.0M175.8 276.1l2.0 1.5" stroke="#2e3666" stroke-width="3.0" stroke-linecap="round" fill="none" stroke-opacity="0.9"/>
<path d="M190.0 265.5l1.0 0.9M275.5 296.5l-2.8 0.2M337.4 258.3l0.9 0.2M194.6 271.7l2.6 1.0M290.6 180.7l-1.0 1.6M195.7 377.5l2.7 0.0M331.9 248.6l0.2 3.1M282.1 331.0l0.0 0.9M223.1 298.4l-0.1 0.9M261.1 318.0l-0.6 1.2M225.6 323.9l-0.4 1.0M197.7 193.1l1.1 0.1M325.6 368.6l2.2 0.9M188.0 297.7l-0.9 2.8M328.2 309.1l-1.1 0.2M187.0 352.3l-2.5 1.4M343.2 254.5l0.4 1.0M231.2 312.2l0.2 2.0M186.0 207.9l-2.6 1.3M348.9 372.8l-1.8 0.1M330.4 267.4l-1.8 1.3M230.5 316.3l-0.2 2.2" stroke="#2e3666" stroke-width="4.5" stroke-linecap="round" fill="none" stroke-opacity="0.9"/>
<path d="M178.8 291.0l1.2 0.6M332.4 193.2l2.6 0.3M180.0 371.8l-2.2 1.9M172.7 340.3l1.0 0.5M239.9 230.1l0.7 2.3M334.3 317.4l1.3 0.4M269.2 288.7l1.3 3.1M192.8 235.3l1.8 2.7M189.6 154.8l-1.3 2.9M201.3 366.0l-0.4 1.5M350.1 191.5l-1.1 1.0M225.8 334.9l0.6 0.7M307.0 268.8l-2.9 1.8M212.0 355.3l1.8 2.4M180.8 384.7l-1.7 0.6M194.0 350.5l1.0 1.9M275.0 305.8l-2.6 0.1M233.9 351.0l0.6 1.2M337.9 256.6l0.3 1.7M349.3 365.4l-2.3 1.7" stroke="#464e7c" stroke-width="4.5" stroke-linecap="round" fill="none" stroke-opacity="0.9"/>
<path d="M272.5 153.1l0.5 2.6M330.8 249.0l1.9 0.3M213.2 323.1l-2.2 2.3M198.9 198.3l-2.2 0.5M190.2 169.5l2.8 0.1M294.9 359.6l-0.0 2.4M178.3 358.1l-0.7 1.2M345.3 349.8l0.5 1.4M225.4 158.7l-0.2 1.8M201.2 212.7l1.7 1.3M182.6 349.8l-0.2 1.7M209.4 378.4l-1.8 1.3M334.8 383.7l-0.8 0.6M222.0 223.3l0.9 0.7M169.2 273.3l0.9 1.1M188.4 230.1l-0.9 0.1M176.7 150.9l1.1 0.4M154.3 165.0l2.8 1.7M314.1 241.5l0.8 0.4M191.3 305.3l-0.8 1.4M254.2 356.2l-0.8 0.4M349.5 157.8l-2.4 0.2M221.8 241.9l1.4 2.2M313.9 315.3l-1.8 2.5M211.0 338.1l-0.7 1.3M225.3 273.4l0.9 1.8M265.5 270.2l-1.6 0.8M159.4 260.2l1.1 1.7" stroke="#323a6c" stroke-width="3.5" stroke-linecap="round" fill="none" stroke-opacity="0.9"/>
<path d="M209.4 319.8l0.2 2.2M201.9 256.6l1.3 1.4M340.5 319.6l-2.7 0.1M194.1 323.8l-2.3 0.0M185.3 232.8l0.3 0.8M283.6 261.9l1.7 1.3M271.9 165.6l1.2 3.1M192.7 248.7l-0.8 1.8M315.3 154.0l0.8 2.8M274.2 239.3l1.3 2.1M185.3 278.8l-0.1 2.1M181.0 317.3l2.0 1.3M182.2 262.9l0.6 2.0M197.3 304.4l-0.8 0.3M326.7 203.4l-0.9 1.5M184.3 287.1l1.8 0.1M229.3 155.2l-2.6 1.2M307.1 316.6l2.8 1.8M180.9 344.9l0.8 2.4M195.2 273.0l-2.1 1.7M205.2 161.1l-1.0 0.3M178.6 176.3l-2.8 0.3M229.8 186.3l2.5 0.4M194.8 323.1l0.8 2.2M308.0 162.1l0.4 1.1M288.0 317.0l-0.6 2.7" stroke="#2e3666" stroke-width="3.5" stroke-linecap="round" fill="none" stroke-opacity="0.9"/>
<path d="M193.6 161.4l-1.5 1.5M208.2 276.8l-0.7 3.1M349.0 175.8l2.5 0.2M192.2 169.8l-1.9 0.7M304.0 200.0l0.9 0.2M214.2 228.9l-0.3 2.3M184.0 353.6l0.7 2.9M270.4 247.0l-2.6 1.7M335.5 240.5l-1.5 0.7M254.6 200.1l2.4 0.8M279.1 243.9l-1.4 0.8M315.2 152.4l-1.3 1.8M245.2 233.6l-2.6 2.1M194.8 188.5l-0.8 1.7M218.0 161.8l2.9 1.7M314.5 260.2l1.9 0.4M279.0 362.7l-2.6 1.9M254.5 277.2l2.9 1.0M349.0 260.4l0.5 0.7M332.3 216.6l-0.6 2.6M229.3 251.2l-0.8 2.1M225.8 253.0l2.6 0.5" stroke="#323a6c" stroke-width="4.5" stroke-linecap="round" fill="none" stroke-opacity="0.9"/>
<path d="M314.1 269.4l2.0 1.6M245.7 275.0l-2.0 2.1M157.9 336.2l-3.1 1.3M314.9 297.5l-1.4 3.0M216.3 300.1l0.1 1.6M309.2 283.2l-2.8 0.5M332.2 370.7l-1.7 1.6M267.1 360.2l3.2 0.6M327.3 323.9l-2.2 0.9M154.0 262.1l1.0 0.6M191.2 371.8l-1.9 0.2M322.4 367.1l-1.6 0.9M325.8 279.2l0.9 0.5M298.7 168.5l-1.4 0.2M326.6 200.1l0.8 1.4M210.2 383.6l1.9 1.0M278.0 230.8l-0.6 0.7M220.6 365.0l1.0 0.6M234.9 312.1l-0.4 3.2M253.5 367.3l1.0 0.6M233.5 231.2l-2.8 0.1M201.7 317.5l2.9 0.9M281.5 362.3l-2.5 0.6M220.6 245.2l1.1 1.2M284.2 161.1l0.0 2.0M310.9 160.5l0.9 0.4" stroke="#464e7c" stroke-width="3.5" stroke-linecap="round" fill="none" stroke-opacity="0.9"/>
<path d="M189.0 300.3l0.3 3.1M283.3 237.3l-1.5 0.1M242.9 327.9l3.2 0.7M237.0 272.0l-0.6 2.7M339.2 193.2l-1.1 1.0M234.7 361.0l-2.6 1.8M317.2 168.7l1.6 0.1M187.7 377.1l0.0 2.5M195.0 174.2l1.6 1.2M260.7 271.9l0.3 1.3M240.3 207.8l-1.4 2.5M307.8 352.8l-0.8 3.3M197.2 301.2l-2.8 1.4M239.0 260.8l-0.7 0.8M262.2 332.7l1.1 2.8M199.2 366.8l-3.3 1.0M349.6 263.7l-3.1 0.2M252.3 320.8l-1.0 0.0M213.4 198.6l0.6 0.8M164.3 374.9l-1.9 0.2M233.8 296.1l1.2 0.3M226.9 346.1l-1.8 0.3M335.6 297.5l0.3 1.5M209.8 164.8l-0.0 1.7M207.8 241.9l-1.2 1.2M294.6 244.8l-1.0 1.2M249.2 326.9l-1.7 1.3M219.3 324.3l0.9 2.2M253.2 260.0l-2.8 0.1M313.4 348.4l-1.3 0.6M191.6 230.3l2.1 0.3M191.2 284.7l1.3 1.8M175.8 313.4l2.0 1.2M274.5 161.3l-0.2 1.2M231.3 195.1l-1.0 1.7M225.7 337.3l1.0 0.8" stroke="#464e7c" stroke-width="4.0" stroke-linecap="round" fill="none" stroke-opacity="0.9"/>
<path d="M189.6 186.1l1.6 2.4M219.9 358.0l1.1 1.5M331.2 181.9l2.0 2.7M341.3 307.6l-1.2 1.7M326.3 372.3l2.1 0.5M230.8 270.6l1.7 2.4M332.6 233.7l-1.3 0.9M227.7 223.7l1.8 1.4M323.3 361.8l-2.2 1.5M160.0 267.6l2.2 0.5M259.3 354.6l1.7 1.7M315.9 194.3l2.8 1.1M349.1 263.9l1.6 2.6M207.7 159.6l3.1 0.6M215.8 249.7l-0.1 1.4M299.1 279.0l1.3 1.4M211.2 255.6l0.6 1.6M241.4 330.1l0.8 2.6M212.3 301.9l-1.8 1.9M271.4 197.3l-1.9 0.3M230.2 359.9l-0.3 1.3M184.0 366.6l-0.8 0.4M253.0 384.1l-1.2 2.2M190.7 286.6l-1.4 1.2M185.0 295.4l0.4 1.3M230.8 308.1l-1.0 0.9M334.0 350.4l0.6 1.0M216.2 278.3l0.4 1.6" stroke="#3a4272" stroke-width="3.0" stroke-linecap="round" fill="none" stroke-opacity="0.9"/>
<path d="M336.5 196.3l0.5 2.3M237.1 187.2l1.1 1.9M222.1 260.5l0.8 3.2M325.7 342.6l-2.3 1.3M192.0 357.2l-1.4 2.0M294.0 239.4l-1.6 0.7M281.6 379.1l-0.7 3.0M219.8 189.5l0.5 1.9M346.3 250.1l-1.5 2.8M197.2 301.8l0.5 2.7M198.1 176.8l-0.1 0.9M182.3 339.3l-1.8 0.9M329.5 345.7l-2.0 2.2M222.8 361.3l1.5 0.7M194.7 365.9l-0.6 0.6M193.7 353.8l2.1 1.9M192.7 212.5l-0.1 1.1M199.5 155.4l2.1 1.0M278.9 265.6l0.9 1.2M340.8 363.9l-0.8 1.0M225.3 279.1l-0.6 1.8M246.1 180.8l1.0 1.8M253.7 166.3l2.2 0.3M309.8 181.7l2.9 1.8M184.4 329.2l1.7 0.2M313.7 162.8l-1.7 0.4M349.9 230.3l0.9 0.8M338.2 341.2l-2.2 2.2M326.0 241.0l0.5 1.8M298.8 166.0l1.5 2.7M208.8 382.6l0.7 0.5" stroke="#3a4272" stroke-width="4.0" stroke-linecap="round" fill="none" stroke-opacity="0.9"/>
<path d="M306.3 165.9l2.1 0.8M201.3 357.1l-0.7 2.1M246.5 197.7l-1.2 0.3M202.3 296.6l-0.8 0.6M339.9 155.6l0.8 3.0M288.1 304.1l1.6 0.5M223.4 181.6l-1.5 0.5M235.4 182.5l-1.2 2.5M276.1 211.4l0.7 0.8M266.5 319.8l-0.9 1.4M329.2 238.6l0.7 3.0M181.4 277.6l2.9 1.3M348.5 160.4l2.3 1.1M241.4 354.8l1.4 0.9M215.6 209.1l-0.8 2.3M232.1 165.8l1.4 0.6M191.7 301.8l1.4 2.2M216.9 153.7l1.0 0.2M250.8 258.9l-0.7 1.5M225.5 248.4l-1.2 0.6M340.1 326.5l2.2 0.4M346.9 240.1l0.9 1.6M253.3 355.0l0.2 2.8M233.9 197.4l-1.1 1.7M199.3 158.5l-2.6 1.4M329.8 362.8l-1.9 1.7M264.9 292.3l-3.0 1.5M187.1 190.2l0.9 1.9M204.0 377.9l0.5 0.8M225.0 300.9l1.2 0.7M183.2 181.9l-0.6 1.2M322.5 155.4l2.2 0.6M200.5 182.4l-2.2 2.1M236.4 299.2l3.2 0.7M317.3 285.2l-1.5 1.8M311.5 269.7l-1.8 0.7M210.3 193.3l-1.0 2.2" stroke="#323a6c" stroke-width="4.0" stroke-linecap="round" fill="none" stroke-opacity="0.9"/>
<path d="M232.5 166.9l1.7 0.4M263.9 242.4l-1.1 0.2M332.7 278.4l-1.1 1.8M346.9 185.8l1.3 0.1M268.7 235.5l0.2 1.0M225.7 300.2l-3.1 0.9M255.8 157.8l1.1 0.7M191.6 384.4l1.1 0.0M298.9 250.6l-0.5 0.6M185.1 199.2l2.1 1.1M309.9 167.8l-2.1 0.0M234.9 314.2l-1.3 1.1M250.5 172.4l0.2 2.8M296.3 216.9l-0.0 2.0M318.7 182.0l0.1 1.7M287.9 309.8l-2.6 0.8M285.6 206.3l1.8 0.3M247.3 326.1l-0.5 2.9M232.7 183.3l1.2 0.9M219.5 231.5l2.0 2.6M221.4 286.6l-0.2 1.1M342.2 177.1l0.5 2.5M260.2 302.6l-1.5 1.7M338.8 296.3l-2.8 0.9M221.6 324.5l-2.2 0.1M207.9 153.5l-2.9 0.0M344.7 253.2l1.4 2.9M265.1 284.4l0.5 1.5M207.8 318.5l2.2 2.1" stroke="#323a6c" stroke-width="3.0" stroke-linecap="round" fill="none" stroke-opacity="0.9"/>
<path d="M183.0 369.8l-0.5 1.2M217.8 259.8l-2.2 0.6M185.7 232.1l-1.2 1.4M217.3 280.4l-0.7 1.0M340.6 253.1l3.1 1.3M205.9 209.2l-2.7 0.7M160.5 278.8l-0.3 0.8M334.2 318.7l-1.5 2.5M220.4 200.6l1.3 2.8M202.7 174.9l-1.5 2.2M334.0 297.4l-1.2 1.7M339.4 248.4l0.8 0.7M291.0 291.5l-0.3 1.0M221.2 345.2l-1.5 0.2M330.6 236.6l-0.4 2.3" stroke="#3a4272" stroke-width="4.5" stroke-linecap="round" fill="none" stroke-opacity="0.9"/>
<ellipse cx="269.5" cy="217" rx="16.5" ry="29" transform="rotate(12 269.5 217)" fill="#bfb198" opacity="0.9"/>
<ellipse cx="269.5" cy="217" rx="10.5" ry="23" transform="rotate(12 269.5 217)" fill="none" stroke="#7c7a84" stroke-width="6.5"/>
<path d="M275.0 197.3h0M257.1 228.8h0M281.9 207.6h0M278.8 223.2h0M283.1 212.8h0M260.8 225.1h0M274.6 229.2h0M283.0 218.1h0M265.9 240.0h0M261.4 232.9h0M275.4 194.8h0M259.4 211.6h0M260.8 234.7h0M263.3 238.9h0M281.5 213.2h0M279.1 206.2h0M281.4 214.6h0M281.9 215.9h0M272.1 193.2h0M274.8 230.6h0M271.2 198.0h0M257.3 223.8h0M261.2 207.1h0M259.5 233.3h0M265.7 201.0h0M255.6 219.3h0M258.1 217.5h0M278.9 204.9h0M282.7 220.2h0M259.4 204.7h0M278.1 225.9h0M269.6 192.4h0M262.7 236.3h0M263.7 240.8h0M257.2 224.7h0M264.1 201.7h0M271.0 194.5h0M278.7 200.9h0M277.6 214.8h0" stroke="#343a68" stroke-width="3.5" stroke-linecap="round" fill="none" stroke-opacity="0.85"/>
<path d="M277.9 227.6h0M273.2 228.8h0M263.3 236.5h0M274.7 227.1h0M277.7 204.4h0M265.9 237.1h0M278.8 203.8h0M270.4 238.0h0M270.5 238.6h0M265.8 198.2h0M276.1 223.9h0M281.1 209.4h0M269.2 199.7h0M262.5 240.7h0M261.3 222.4h0M281.8 209.5h0M262.3 237.6h0M275.6 196.5h0M278.3 212.5h0M266.6 239.0h0M263.3 202.4h0M267.2 195.5h0M263.4 239.6h0M273.7 192.1h0M276.3 193.7h0M258.3 235.2h0M278.3 203.6h0M281.2 214.4h0M279.8 221.8h0M277.9 200.2h0M276.5 196.0h0M276.0 221.6h0M282.2 201.3h0M257.8 215.7h0M274.4 231.2h0M265.4 199.9h0M261.0 239.3h0M272.6 195.7h0M269.5 235.6h0M279.0 220.0h0M262.5 239.5h0M276.8 199.6h0M268.5 236.6h0M282.0 205.0h0M257.2 220.5h0" stroke="#343a68" stroke-width="3.0" stroke-linecap="round" fill="none" stroke-opacity="0.85"/>
<path d="M262.6 203.3h0M264.7 237.4h0M263.5 237.8h0M271.7 195.4h0M260.7 212.6h0M281.2 216.5h0M279.2 213.3h0M277.3 198.7h0M278.1 200.9h0M281.1 223.4h0M277.7 214.4h0M264.6 240.1h0M266.1 237.4h0M265.7 196.7h0M276.7 199.2h0M256.5 218.4h0M269.6 199.0h0M279.1 201.7h0M274.0 234.6h0M278.2 213.2h0M267.6 238.0h0M258.1 227.3h0M260.8 227.6h0M262.5 241.2h0M273.1 230.1h0M269.6 237.8h0M263.7 206.8h0M262.6 234.6h0M270.2 194.8h0M275.5 195.3h0M262.2 239.7h0M255.8 224.8h0M262.7 203.4h0M258.2 226.5h0M260.1 238.1h0M278.0 221.7h0M275.7 192.6h0M264.2 201.2h0M259.5 227.0h0M257.7 210.7h0M276.8 196.1h0" stroke="#343a68" stroke-width="2.5" stroke-linecap="round" fill="none" stroke-opacity="0.85"/>
<path d="M272.9 238.2h0M259.4 222.3h0M277.7 218.1h0M279.0 217.1h0M261.9 217.0h0" stroke="#343a68" stroke-width="4.0" stroke-linecap="round" fill="none" stroke-opacity="0.85"/>
<ellipse cx="269.5" cy="217" rx="6" ry="16" transform="rotate(12 269.5 217)" fill="#d8c6a2"/>
<ellipse cx="240.5" cy="312" rx="18.5" ry="18" transform="rotate(0 240.5 312)" fill="#bfb198" opacity="0.9"/>
<ellipse cx="240.5" cy="312" rx="13.5" ry="13" transform="rotate(0 240.5 312)" fill="none" stroke="#7c7a84" stroke-width="6"/>
<path d="M249.9 324.8h0M231.2 307.1h0M235.9 299.7h0M249.4 306.1h0M254.7 304.6h0M231.9 324.2h0M231.3 322.9h0M244.7 322.3h0M248.4 320.2h0M243.7 325.9h0M233.3 323.1h0M230.0 312.6h0M231.2 300.5h0M225.1 315.7h0M244.1 327.5h0M226.8 305.8h0M229.4 306.8h0M228.4 309.5h0M249.6 306.5h0M252.3 314.8h0M245.2 322.5h0M247.3 323.6h0M231.3 304.1h0M247.2 325.6h0M233.9 299.4h0M229.2 307.1h0M232.2 325.3h0M251.9 307.5h0M242.3 301.9h0" stroke="#343a68" stroke-width="3.5" stroke-linecap="round" fill="none" stroke-opacity="0.85"/>
<path d="M252.7 312.1h0M232.0 300.6h0M227.5 309.4h0M225.8 319.2h0M227.4 309.4h0M235.6 300.2h0M232.6 304.7h0M227.7 306.6h0M229.0 318.1h0M229.8 307.6h0M241.1 326.8h0M243.1 301.4h0M237.3 300.7h0M227.9 321.7h0M227.0 303.7h0M250.4 321.0h0M245.1 327.1h0M228.4 309.9h0" stroke="#343a68" stroke-width="2.5" stroke-linecap="round" fill="none" stroke-opacity="0.85"/>
<path d="M252.2 320.1h0M255.8 306.1h0M230.6 303.6h0M254.4 306.1h0M225.3 307.9h0M240.3 301.2h0M227.8 319.2h0M252.4 318.2h0M229.5 312.5h0M253.4 316.7h0M254.8 317.0h0M252.2 316.5h0M229.7 300.9h0M226.5 309.8h0M255.7 317.6h0M231.9 300.7h0M226.5 310.3h0M245.3 324.6h0M232.5 320.6h0M241.0 298.9h0M252.2 312.2h0M246.9 297.8h0M234.7 325.1h0M254.5 312.2h0M230.5 319.2h0M248.5 303.5h0M231.2 302.2h0" stroke="#343a68" stroke-width="3.0" stroke-linecap="round" fill="none" stroke-opacity="0.85"/>
<path d="M254.1 304.0h0M249.5 301.0h0" stroke="#343a68" stroke-width="4.0" stroke-linecap="round" fill="none" stroke-opacity="0.85"/>
<ellipse cx="240.5" cy="312" rx="8.5" ry="8.5" transform="rotate(0 240.5 312)" fill="#d8c6a2"/>
<g opacity="0.55">
<ellipse cx="305" cy="364" rx="16" ry="16" transform="rotate(0 305 364)" fill="#bfb198" opacity="0.9"/>
<ellipse cx="305" cy="364" rx="12" ry="12" transform="rotate(0 305 364)" fill="none" stroke="#7c7a84" stroke-width="5"/>
<path d="M292.0 362.3h0M313.2 373.1h0M295.9 357.3h0M300.6 352.6h0M308.2 374.9h0M315.7 363.7h0M318.6 366.2h0M308.5 376.9h0M295.0 354.1h0M312.1 373.2h0M314.7 362.7h0M302.9 353.1h0M316.6 359.2h0M297.0 355.2h0M309.3 374.0h0M298.5 376.4h0M305.5 376.8h0M313.5 353.6h0M296.0 373.5h0M291.4 361.0h0M316.9 363.6h0" stroke="#343a68" stroke-width="2.5" stroke-linecap="round" fill="none" stroke-opacity="0.85"/>
<path d="M308.2 353.6h0M310.9 353.0h0M297.8 372.8h0M311.5 375.3h0M304.2 353.1h0M298.0 375.6h0M303.3 374.4h0M297.8 357.2h0M315.5 354.1h0M311.9 353.5h0M299.0 354.1h0M295.2 366.3h0M312.0 351.4h0M307.3 376.8h0M295.7 361.0h0M291.2 365.9h0M294.1 355.0h0M313.2 353.9h0M294.6 372.7h0M301.6 352.1h0M318.7 366.1h0M317.1 366.5h0M301.3 375.7h0M307.6 374.8h0M307.9 377.2h0M310.6 372.8h0M295.8 370.1h0M296.6 372.9h0M296.4 374.1h0M315.7 360.1h0M295.9 371.3h0M310.1 354.2h0" stroke="#343a68" stroke-width="3.5" stroke-linecap="round" fill="none" stroke-opacity="0.85"/>
<path d="M300.3 376.3h0M300.2 351.0h0M309.5 350.5h0M310.4 354.8h0M316.6 365.6h0M298.4 373.8h0M290.6 364.7h0M315.3 355.9h0M309.5 353.2h0M318.1 361.7h0M310.2 374.3h0M312.1 354.0h0M299.2 351.7h0M314.7 360.9h0M292.5 370.7h0" stroke="#343a68" stroke-width="3.0" stroke-linecap="round" fill="none" stroke-opacity="0.85"/>
<ellipse cx="305" cy="364" rx="8" ry="8.5" transform="rotate(0 305 364)" fill="#d8c6a2"/>
</g>
</g>
<polygon points="233.8,236.9 247.7,229.9 249.5,233.5 255.5,223.2 243.6,221.9 245.4,225.5 231.6,232.5" fill="#111"/>
<polygon points="202.8,328.9 217.3,322.5 219.0,326.2 225.5,316.2 213.7,314.3 215.3,317.9 200.8,324.3" fill="#111"/>
</g>
<clipPath id="cpc"><rect x="352.1" y="153.7" width="303.9" height="227.10000000000002"/></clipPath>
<g clip-path="url(#cpc)">
<rect x="352.1" y="153.7" width="303.9" height="227.10000000000002" fill="#84502a"/>
<g filter="url(#blur2)">
<polygon points="461.0,160.0 504.0,156.0 504.0,210.0 488.0,214.0 470.0,206.0 462.0,196.0" fill="#5a3218" stroke="#5a3218" stroke-width="8" stroke-linejoin="round"/>
<polygon points="578.0,252.0 626.0,254.0 630.0,270.0 580.0,270.0" fill="#5a3218" stroke="#5a3218" stroke-width="8" stroke-linejoin="round"/>
<path d="M489.6 280.8h0M364.8 376.8h0M493.1 253.7h0M655.3 379.8h0M378.6 229.2h0M416.8 215.0h0M596.3 222.8h0M416.1 243.2h0M547.2 176.5h0M409.8 321.6h0M411.8 369.5h0M362.8 157.8h0M518.1 321.1h0M503.2 293.3h0M503.0 343.8h0M502.2 225.3h0M490.3 159.3h0M551.2 337.1h0M489.9 295.8h0M466.6 282.9h0M416.9 358.1h0M449.5 360.4h0M509.1 318.0h0M546.3 272.4h0M477.8 371.0h0M483.9 338.9h0M610.8 292.6h0M632.5 203.2h0M408.2 200.0h0M356.1 312.9h0M507.9 157.2h0M595.7 313.7h0M565.2 326.7h0M537.8 167.0h0M367.3 378.2h0M513.4 380.3h0M649.8 361.7h0M456.6 322.9h0M464.2 302.1h0M631.2 367.2h0M448.6 244.4h0M594.3 276.5h0M603.2 305.1h0M597.0 343.1h0M431.3 355.2h0M456.1 278.0h0M352.5 340.2h0M511.9 189.5h0M471.9 258.6h0M475.7 170.2h0M473.9 312.6h0M506.9 332.8h0M606.0 198.5h0M492.8 181.9h0M406.8 377.8h0M499.7 379.6h0M511.6 251.9h0M372.9 360.7h0M503.6 365.8h0M404.3 353.5h0M572.7 224.8h0M465.3 304.0h0M546.6 174.1h0M569.3 283.7h0M500.9 326.6h0M364.0 208.3h0M425.5 258.5h0M462.7 230.2h0M431.8 242.9h0M584.8 318.0h0M475.3 241.5h0M554.7 370.6h0M494.7 293.4h0M462.3 284.5h0M401.5 350.4h0M453.6 326.1h0M566.9 295.2h0M356.3 286.7h0M439.0 319.8h0M446.1 335.5h0M655.1 199.6h0M637.4 350.0h0M355.3 201.4h0M651.7 176.6h0M407.8 234.8h0M615.7 182.5h0M501.3 206.9h0M549.4 366.7h0M594.5 269.9h0M425.6 335.4h0M586.3 278.4h0M407.3 242.0h0M490.9 268.7h0M528.1 218.4h0M477.2 183.7h0M518.0 176.3h0M536.1 374.1h0M653.8 243.4h0M549.6 312.9h0M551.5 203.2h0M494.5 157.3h0M610.6 177.4h0M475.6 292.7h0M645.7 299.7h0M431.4 179.1h0M558.7 173.1h0M541.9 279.1h0M546.2 158.8h0M373.8 180.0h0M388.1 224.1h0M478.2 275.5h0M522.1 375.3h0M529.1 357.9h0M561.6 236.4h0M570.5 219.8h0M436.5 269.3h0M400.8 348.9h0M514.6 303.6h0M640.8 178.7h0M551.8 170.0h0M652.6 223.9h0M361.1 283.4h0M500.1 280.3h0M454.1 313.1h0M648.7 369.4h0M538.3 292.9h0M378.4 271.6h0M361.8 179.1h0M490.3 206.9h0M511.0 211.6h0M460.4 360.6h0M414.6 353.1h0M635.2 231.3h0M395.2 316.0h0M620.3 318.7h0M583.8 273.3h0M446.1 326.5h0M629.8 206.7h0M529.5 189.5h0M481.6 279.8h0M411.8 202.6h0M596.3 376.0h0M572.9 167.0h0M585.7 332.1h0M641.4 294.4h0M520.8 299.3h0M384.2 370.3h0M476.8 244.3h0M490.4 261.2h0M490.3 239.1h0M450.8 318.7h0M653.3 283.0h0M446.6 351.9h0M360.6 339.7h0M540.4 187.8h0M417.8 354.2h0M433.7 179.4h0M410.2 351.0h0M619.7 378.8h0M653.1 170.9h0M401.8 261.3h0M449.7 212.6h0M608.8 312.8h0M366.9 160.0h0M572.3 171.4h0M363.5 160.1h0M609.3 290.3h0M590.5 312.5h0M408.5 243.0h0M584.7 179.3h0M536.1 371.4h0M527.5 355.8h0M607.1 302.6h0M571.7 348.3h0M556.1 319.1h0M520.5 285.9h0M596.4 243.3h0M441.8 237.2h0M416.9 156.3h0M536.0 165.3h0M495.1 222.1h0M449.5 318.1h0M394.6 277.8h0M586.1 291.9h0M647.6 235.4h0M366.4 190.1h0M400.4 341.3h0M402.1 206.2h0M393.8 287.8h0M431.6 337.8h0M534.7 371.5h0M414.0 357.6h0M441.0 248.8h0M592.9 343.5h0M574.4 167.5h0M454.9 177.4h0M484.4 289.1h0M635.2 359.8h0M425.8 332.3h0M432.1 177.0h0M643.9 369.5h0M368.5 308.4h0M643.7 338.2h0M462.5 154.8h0M611.2 329.1h0M535.9 184.2h0M507.2 214.7h0M627.2 378.7h0M593.1 167.5h0M361.1 292.1h0M426.4 189.1h0M367.7 237.5h0M388.8 366.1h0M619.9 242.2h0M403.8 318.6h0M547.7 335.6h0M501.4 160.1h0M629.3 343.3h0M603.5 292.2h0M483.2 345.4h0M521.9 246.6h0M360.8 337.1h0M427.0 293.3h0M616.3 307.8h0M462.5 365.5h0M427.2 299.5h0M463.6 252.3h0M485.7 355.0h0M570.7 195.8h0M650.6 266.2h0M655.0 173.9h0M353.9 375.7h0M534.2 227.1h0M613.5 213.8h0M405.6 266.2h0M646.5 300.9h0M530.2 324.2h0M396.8 308.0h0M522.7 218.2h0M483.8 338.9h0M359.6 359.8h0M619.6 377.6h0M444.4 311.9h0M550.1 225.0h0M437.0 158.1h0M372.9 221.4h0M556.8 340.8h0M519.7 289.8h0M558.5 164.3h0M608.9 209.1h0M607.7 361.2h0M480.6 263.8h0M374.7 366.1h0M363.3 372.1h0M402.6 261.9h0M376.2 303.5h0M363.8 247.6h0M404.5 226.4h0M611.6 374.1h0M595.0 274.2h0M368.0 178.9h0M442.7 155.6h0M548.8 159.3h0M483.4 219.3h0M374.2 257.3h0M378.3 352.8h0M422.5 363.6h0M519.2 275.0h0M385.9 310.3h0M422.6 339.6h0M420.9 263.9h0M571.7 287.0h0M632.8 174.4h0M441.4 223.3h0M542.5 321.7h0M456.3 265.4h0M538.7 361.4h0M460.1 155.5h0M447.3 269.2h0M460.0 375.7h0M517.6 264.2h0M580.1 171.7h0M620.5 183.2h0M653.4 360.4h0M505.9 246.9h0M467.9 374.9h0M382.4 237.7h0M360.9 235.5h0M466.2 217.0h0M389.0 369.4h0M549.3 372.7h0M636.7 358.0h0M480.6 283.8h0M636.9 251.8h0M576.4 378.7h0M510.2 308.0h0M565.1 278.5h0M609.4 226.4h0M466.9 241.5h0M474.3 271.7h0M489.1 262.6h0M529.6 213.8h0M549.1 287.9h0M520.5 214.8h0M402.2 254.3h0M505.5 297.0h0M437.3 282.2h0M414.9 324.7h0M619.8 168.5h0M456.4 183.6h0M641.1 253.4h0M361.0 207.3h0M574.0 347.7h0M625.4 345.5h0M357.9 290.3h0M578.8 259.5h0M534.1 218.1h0M553.9 175.3h0M602.5 320.9h0M632.3 178.1h0M513.1 196.5h0M355.2 359.5h0M570.3 154.2h0M463.1 341.9h0M538.0 167.4h0M418.5 188.2h0M481.0 239.9h0M655.4 174.5h0M605.8 156.7h0M480.0 355.7h0M370.9 235.3h0M452.2 237.3h0M628.2 370.0h0M558.7 180.2h0M595.5 276.3h0M522.4 278.6h0M635.6 296.4h0M364.6 263.8h0M568.2 355.9h0M632.1 196.8h0M405.4 235.7h0M526.7 196.5h0M360.7 308.6h0M559.4 233.6h0M430.7 379.9h0M523.7 372.4h0M564.0 209.5h0M357.4 219.0h0M496.7 193.8h0M557.3 160.4h0M461.5 156.5h0M458.1 214.8h0M554.6 325.8h0M485.3 287.7h0M566.9 301.1h0M502.7 237.3h0M408.1 303.3h0M490.2 279.1h0M606.6 184.3h0M385.7 169.4h0M368.8 300.7h0M629.0 351.9h0M487.3 220.7h0M599.1 322.9h0M495.8 368.5h0M420.7 364.1h0M623.6 233.2h0M552.9 156.3h0M444.5 260.9h0M551.5 322.3h0M634.6 165.0h0M523.6 211.0h0M401.5 313.6h0M352.7 304.7h0M373.0 281.4h0M440.3 319.1h0M418.1 208.4h0M528.5 334.6h0M552.6 209.9h0M623.3 154.4h0M404.5 337.9h0M526.4 304.9h0M524.2 231.5h0M411.0 221.0h0M577.9 267.6h0M478.9 260.7h0M483.2 320.8h0M468.5 377.1h0M629.3 338.4h0M477.5 311.7h0M549.4 377.0h0M500.0 329.0h0M584.0 300.6h0M545.7 310.8h0M651.7 271.1h0M398.4 211.6h0M611.0 224.2h0M545.3 333.8h0M601.2 195.8h0M359.4 199.8h0M646.9 231.9h0M375.3 237.9h0M536.6 211.6h0M627.1 305.7h0M513.2 226.2h0M536.9 166.1h0M384.1 352.0h0M370.3 292.8h0M376.8 154.3h0M481.2 318.0h0M416.5 270.2h0M364.8 234.0h0M422.0 325.6h0M466.3 297.2h0M376.1 236.8h0M466.3 353.4h0M508.4 361.9h0M355.0 287.8h0M484.3 307.2h0M433.5 270.0h0M423.1 342.4h0M555.1 298.2h0M402.3 233.4h0M582.5 247.8h0M459.6 167.4h0M405.8 378.9h0M396.1 336.4h0M363.5 375.0h0M605.7 246.9h0M642.6 222.8h0M509.6 200.5h0M566.3 233.0h0M375.9 160.5h0M461.6 318.3h0M410.7 364.2h0M457.0 240.8h0M482.3 187.8h0M415.1 313.6h0M591.2 348.6h0M398.2 161.3h0M411.4 191.2h0M566.6 253.1h0M655.6 167.6h0M593.3 375.6h0M466.4 227.1h0M480.3 180.4h0M604.8 364.2h0M506.5 186.2h0M630.3 307.3h0M518.8 341.9h0M583.9 289.7h0M572.4 364.8h0M385.5 303.2h0M406.4 368.7h0M513.4 211.4h0M374.8 249.2h0M438.5 294.9h0M566.8 348.4h0M541.1 290.2h0M508.0 174.8h0" stroke="#2e1e1a" stroke-width="4.5" stroke-linecap="round" fill="none" stroke-opacity="0.6"/>
<path d="M493.6 269.0h0M408.2 270.0h0M379.7 337.6h0M439.9 169.6h0M382.8 167.3h0M416.9 212.4h0M566.2 212.1h0M522.1 347.3h0M622.9 376.4h0M545.4 263.2h0M576.1 313.5h0M630.2 233.6h0M542.0 240.5h0M537.1 171.9h0M654.0 353.5h0M470.1 320.6h0M580.1 160.5h0M498.3 206.0h0M623.1 228.0h0M412.4 251.6h0M417.2 247.7h0M543.3 255.1h0M550.0 200.2h0M600.8 299.4h0M649.1 275.6h0M512.2 219.6h0M422.8 321.9h0M605.0 249.5h0M390.4 245.2h0M357.5 199.3h0M508.7 251.4h0M407.2 256.8h0M543.4 245.6h0M505.4 376.9h0M430.6 360.7h0M624.6 353.5h0M470.5 380.8h0M359.0 293.5h0M654.5 298.6h0M375.3 289.4h0M480.0 273.3h0M463.2 218.6h0M522.5 218.1h0M365.1 189.3h0M470.6 357.5h0M511.1 366.6h0M494.4 376.0h0M535.5 179.8h0M529.0 249.0h0M623.4 331.8h0M461.3 215.4h0M523.8 288.1h0M557.6 278.7h0M374.7 180.9h0M481.1 212.3h0M451.0 278.3h0M560.4 221.6h0M375.2 202.1h0M376.9 222.7h0M523.1 193.8h0M645.8 301.6h0M371.6 277.9h0M377.6 172.2h0M625.3 172.9h0M395.8 323.1h0M426.7 203.8h0M454.8 373.6h0M502.1 275.7h0M479.9 186.9h0M387.0 300.9h0M423.6 316.6h0M594.2 315.7h0M514.6 187.9h0M494.5 370.7h0M612.6 222.6h0M445.0 259.8h0M639.3 281.5h0M394.9 175.1h0M481.9 269.9h0M592.1 303.6h0M537.9 189.7h0M504.2 185.9h0M652.0 270.9h0M426.4 284.6h0M628.4 379.0h0M534.9 181.6h0M552.2 223.6h0M576.3 240.4h0M547.1 162.3h0M396.1 371.6h0M494.9 247.1h0M561.6 325.8h0M449.6 166.1h0M625.7 319.9h0M580.6 222.9h0M596.8 204.1h0M423.7 304.6h0M505.8 345.7h0M589.0 191.2h0M423.6 253.7h0M500.7 203.9h0M503.7 161.7h0M531.0 173.8h0M562.0 342.4h0M396.0 257.1h0M654.8 327.0h0M563.2 350.0h0M608.3 240.3h0M488.0 379.3h0M414.3 217.4h0M543.7 282.2h0M648.6 221.4h0M631.4 202.8h0M496.5 191.6h0M480.4 187.9h0M565.2 279.3h0M586.6 296.2h0M424.8 265.8h0M569.7 311.6h0M464.4 218.6h0M594.1 242.8h0M647.0 184.1h0M438.3 242.7h0M563.0 277.7h0M524.1 186.3h0M499.3 247.8h0M486.8 343.0h0M355.5 273.4h0M596.2 341.7h0M628.5 159.0h0M578.0 277.8h0M619.7 226.6h0M547.8 201.9h0M621.9 348.2h0M508.7 161.0h0M487.9 288.5h0M371.8 351.3h0M652.3 200.7h0M455.3 225.3h0M436.7 290.7h0M407.0 182.8h0M411.7 379.6h0M476.2 186.9h0M439.2 347.8h0M601.5 346.8h0M493.4 225.5h0M402.8 301.1h0M577.6 211.2h0M398.8 339.6h0M452.0 264.8h0M503.3 270.9h0M601.1 332.7h0M576.0 248.7h0M589.6 253.7h0M388.0 226.4h0M561.7 241.8h0M401.9 233.1h0M608.1 235.1h0M569.8 252.0h0M609.6 161.7h0M398.2 369.6h0M597.0 175.9h0M537.4 181.1h0M537.3 277.2h0M636.7 236.1h0M560.3 347.9h0M503.7 198.6h0M500.9 287.8h0M528.4 325.7h0M352.3 169.1h0M586.2 213.3h0M512.0 229.9h0M452.3 318.7h0M469.8 184.5h0M589.8 230.5h0M467.4 218.9h0M577.4 261.8h0M410.7 184.5h0M524.8 220.6h0M647.7 258.1h0M401.6 193.0h0M595.0 267.1h0M438.4 175.7h0M486.6 172.9h0M423.4 342.0h0M560.3 334.8h0M456.4 333.5h0M629.0 365.5h0M408.6 311.4h0M525.1 368.0h0M359.1 190.3h0M421.6 302.1h0M435.0 196.2h0M512.2 369.2h0M483.7 309.4h0M519.6 215.6h0M573.0 226.2h0M373.7 214.9h0M549.5 308.4h0M430.3 333.4h0M489.8 225.4h0M477.0 222.7h0M572.1 369.4h0M555.3 252.5h0M649.9 231.3h0M357.2 248.2h0M629.5 167.3h0M531.5 315.4h0M652.1 184.7h0M502.6 191.6h0M443.4 310.8h0M378.1 334.0h0M432.5 264.8h0M416.3 313.5h0M599.0 283.1h0M603.6 361.6h0M404.2 234.4h0M570.5 164.4h0M459.4 377.3h0M435.0 305.2h0M357.0 224.2h0M621.7 324.9h0M559.9 310.8h0M637.6 252.6h0M493.1 358.2h0M454.4 284.9h0M357.5 203.7h0M417.2 170.2h0M599.6 318.2h0M369.5 161.5h0M408.1 297.9h0M504.1 267.2h0M608.6 294.4h0M496.2 162.7h0M438.6 220.2h0M560.4 188.2h0M645.9 199.8h0M513.6 182.8h0M370.0 183.6h0M559.4 378.7h0M473.5 171.7h0M454.0 186.4h0M385.3 162.1h0M495.0 358.2h0M414.9 164.0h0M632.8 369.2h0M448.6 192.0h0M603.2 266.4h0M565.6 289.5h0M646.8 246.1h0M609.4 335.3h0M608.5 241.4h0M399.6 379.0h0M624.7 370.9h0M548.3 261.1h0M477.8 270.8h0M561.5 283.1h0M523.6 217.2h0M452.9 345.7h0M585.7 287.9h0M492.6 212.1h0M406.2 325.4h0M459.2 208.5h0M490.4 309.3h0M409.5 225.3h0M460.0 260.8h0M486.5 344.3h0M580.6 293.6h0M523.2 186.5h0M575.0 353.3h0M435.7 172.1h0M379.7 201.3h0M434.5 273.0h0M607.7 346.4h0M524.3 170.6h0M557.4 304.7h0M625.6 318.0h0M563.4 361.1h0M358.4 350.7h0M455.2 169.9h0M555.1 291.4h0M491.8 157.0h0M546.1 349.7h0M541.9 377.5h0M472.1 181.9h0M599.9 328.6h0M532.9 350.5h0M368.9 183.3h0M607.4 378.4h0M400.1 282.5h0M469.0 169.6h0M536.6 226.3h0M632.1 211.2h0M512.0 363.9h0M387.5 317.4h0M452.2 328.9h0M352.5 372.5h0M401.7 164.9h0M560.9 342.9h0M597.6 213.3h0M426.3 243.0h0M569.3 369.0h0M377.5 336.2h0M496.9 179.7h0M393.7 184.1h0M615.4 373.7h0M539.5 168.1h0M376.4 248.5h0M486.1 166.2h0M607.2 286.5h0M398.8 157.2h0M579.1 217.3h0M457.2 370.4h0M386.5 162.7h0M425.6 176.4h0M605.7 376.3h0M636.3 295.1h0M518.3 271.3h0M490.1 194.2h0M511.2 192.8h0M561.4 202.6h0M530.0 375.1h0M465.3 251.9h0M357.4 288.0h0M577.6 290.9h0M379.6 307.0h0M495.4 279.2h0M615.7 164.2h0M534.9 215.1h0M496.0 334.4h0M453.9 211.5h0M485.4 244.8h0M531.6 360.4h0M413.0 265.3h0M561.1 205.3h0M565.7 344.1h0M473.5 181.9h0M507.7 187.1h0M533.7 251.5h0M576.6 189.1h0M463.9 156.6h0M553.5 164.0h0M372.6 206.6h0M545.4 281.8h0M427.3 177.0h0M482.5 297.3h0M585.4 337.4h0M626.5 374.6h0M467.2 266.3h0M430.1 167.0h0M494.1 200.4h0M626.3 291.9h0M559.7 194.2h0M473.7 174.9h0M648.3 353.4h0M462.8 228.2h0M544.3 187.2h0M425.9 275.2h0M571.8 266.2h0M465.8 160.0h0M656.0 277.3h0M547.2 254.3h0M537.8 246.6h0M368.8 208.8h0M537.4 320.4h0M434.6 280.1h0M613.8 268.8h0M539.0 342.3h0M364.6 300.3h0M490.8 364.3h0M493.7 323.3h0M445.8 169.5h0M578.3 193.5h0M606.4 345.1h0M362.9 190.2h0M524.1 173.0h0M549.5 342.5h0M487.7 298.4h0M360.8 290.2h0M643.8 280.5h0M582.9 192.0h0M449.5 166.3h0M581.2 343.6h0M360.8 291.4h0M536.6 212.4h0M414.1 288.7h0M405.9 175.2h0M469.8 363.0h0M375.9 173.3h0M458.5 185.6h0M465.1 290.2h0M515.6 202.0h0M563.2 350.9h0M534.5 293.6h0M377.8 166.8h0M396.6 373.1h0M479.5 179.5h0M428.6 266.7h0M533.9 360.1h0M562.6 321.9h0M631.3 288.7h0M446.8 315.9h0M352.7 201.1h0M380.0 293.6h0M599.2 305.3h0M440.6 293.2h0M617.4 329.6h0M370.7 172.4h0M548.2 370.3h0M631.4 182.5h0M463.0 346.1h0M522.4 204.6h0M369.4 329.1h0M488.9 277.4h0M606.3 253.2h0M454.9 198.7h0M407.1 343.2h0M654.3 315.9h0M415.3 371.4h0M636.8 221.4h0M352.8 373.7h0M466.7 280.1h0M517.7 193.0h0M643.5 234.5h0M447.2 339.0h0M623.7 331.0h0M453.2 253.2h0M380.5 317.8h0M492.8 370.1h0M440.9 266.9h0M648.6 320.3h0M454.4 369.0h0M369.0 206.2h0M573.8 234.3h0M383.1 170.6h0M620.1 328.9h0M544.1 302.5h0M574.0 289.8h0M440.6 205.3h0M652.9 331.1h0M608.7 225.8h0M583.7 332.4h0M418.2 303.1h0M439.2 244.8h0M513.3 321.6h0M399.2 303.1h0M607.1 265.8h0M613.1 208.2h0M460.7 327.7h0M491.7 279.8h0M619.3 372.8h0M641.6 267.6h0M524.8 251.0h0M488.8 372.8h0M502.1 246.8h0M583.3 372.7h0M486.1 237.8h0M628.8 347.8h0M520.5 376.6h0M578.4 249.4h0M506.9 217.1h0M546.9 300.5h0M470.9 250.9h0M420.2 183.3h0M457.4 194.4h0M539.5 330.3h0M636.5 177.7h0M407.7 271.4h0M386.5 257.9h0M481.2 268.2h0M509.6 155.3h0M363.5 288.6h0M525.7 274.7h0M445.9 358.5h0M524.3 360.9h0M443.4 376.0h0M435.6 276.3h0M475.4 373.8h0M513.4 330.3h0M467.0 155.7h0M432.3 301.5h0M549.7 233.0h0M535.7 323.3h0M551.2 251.5h0M391.8 307.9h0M654.0 211.2h0M579.7 163.7h0M615.2 246.4h0M563.5 267.6h0M458.8 236.2h0M570.3 311.8h0M474.5 362.2h0M519.8 259.8h0M621.9 194.7h0M446.1 329.7h0M492.7 367.0h0M409.3 298.2h0M572.1 268.9h0M453.2 369.1h0M609.7 195.0h0M628.5 378.3h0M499.6 193.9h0M489.5 339.2h0M422.3 293.4h0M524.4 222.4h0M504.7 266.8h0M644.3 337.7h0M522.9 309.0h0M477.9 179.6h0M431.9 177.8h0M542.5 217.3h0M518.1 183.4h0M522.4 266.4h0M652.5 259.2h0M401.8 235.4h0M430.8 264.8h0M510.5 193.7h0M401.3 225.5h0M373.2 343.6h0M416.6 194.7h0M358.3 202.4h0M643.6 179.9h0M447.4 238.7h0M541.2 187.6h0M587.4 301.1h0M648.8 342.0h0M371.6 163.5h0M504.2 225.3h0M418.8 336.0h0M562.7 235.0h0M475.9 343.4h0M473.7 280.4h0M591.2 163.7h0M400.8 351.0h0M415.2 376.0h0M651.1 156.6h0M532.5 198.6h0M502.5 218.0h0M408.6 343.7h0M517.6 254.4h0M463.8 225.7h0M562.9 319.4h0M655.4 267.2h0M537.9 375.8h0M434.6 205.5h0M646.9 179.2h0M519.2 323.5h0M450.1 285.8h0M650.8 281.0h0M439.2 278.1h0M632.5 327.7h0M574.0 277.9h0M399.5 260.6h0M378.7 320.4h0M622.5 373.2h0M535.0 230.4h0M567.6 343.6h0M375.6 261.2h0M625.5 300.2h0M440.1 176.8h0M466.9 212.3h0M478.4 292.0h0M418.7 199.9h0M556.6 323.2h0M409.0 292.6h0M419.7 322.7h0M356.7 275.8h0M621.8 374.6h0M367.9 164.9h0M606.5 160.6h0M505.1 266.6h0M646.5 160.2h0M386.1 266.7h0M376.0 285.1h0M545.6 276.6h0M576.5 161.2h0M414.4 216.8h0M631.0 259.7h0M374.3 358.8h0M356.9 179.4h0M488.1 270.1h0M583.3 215.5h0M409.3 276.9h0M560.9 309.6h0M648.3 259.7h0M524.7 167.7h0M379.7 305.3h0M357.1 172.7h0M492.4 266.3h0M647.3 206.3h0M461.9 229.1h0M612.3 162.9h0M591.9 334.1h0M384.6 307.4h0M620.1 281.7h0M388.5 210.9h0M555.4 334.4h0M457.9 329.7h0M602.2 249.5h0M531.6 373.4h0M407.6 200.2h0M496.2 260.5h0M562.0 187.6h0M416.3 222.1h0M391.1 215.6h0M403.5 154.3h0M642.9 216.6h0M588.7 224.7h0M495.7 282.3h0M414.7 255.3h0M495.6 275.0h0M437.3 194.0h0M537.7 229.4h0M403.6 325.4h0M618.3 244.9h0M499.7 314.9h0M550.5 334.1h0M589.0 315.0h0M397.0 233.3h0M494.6 184.7h0M377.5 326.9h0M474.1 251.2h0M560.5 364.8h0M452.4 193.8h0M401.5 348.9h0M484.7 171.3h0M359.8 336.6h0M568.5 318.9h0M415.0 365.1h0M354.6 294.0h0M388.6 361.4h0M398.4 260.8h0M441.0 156.6h0M391.3 293.3h0M521.1 252.7h0M461.4 249.2h0M569.0 332.4h0M522.3 356.9h0M533.6 240.7h0M646.9 261.4h0M465.3 323.5h0M559.1 332.5h0M406.8 370.4h0M423.2 166.0h0M483.5 218.1h0M394.6 165.4h0M610.9 164.9h0M461.0 176.0h0" stroke="#2e1e1a" stroke-width="4.0" stroke-linecap="round" fill="none" stroke-opacity="0.6"/>
<path d="M593.1 175.1h0M550.8 293.5h0M553.4 257.6h0M567.2 225.3h0M543.4 330.5h0M582.5 180.5h0M410.0 319.9h0M379.5 286.0h0M615.4 195.2h0M628.2 339.4h0M535.5 249.4h0M363.9 372.3h0M533.4 220.3h0M571.0 169.3h0M437.3 362.0h0M562.2 286.4h0M449.0 380.7h0M486.0 344.1h0M429.8 156.3h0M558.2 199.7h0M529.3 225.6h0M568.2 369.4h0M403.5 256.0h0M567.5 283.3h0M592.6 158.0h0M569.1 194.4h0M592.8 359.5h0M635.5 317.8h0M591.5 185.6h0M640.5 173.2h0M609.0 358.2h0M433.9 261.2h0M496.9 225.7h0M539.9 363.8h0M588.9 158.9h0M421.2 309.7h0M460.1 294.4h0M513.0 190.0h0M626.4 225.4h0M621.8 184.1h0M572.9 212.6h0M629.1 373.6h0M508.6 282.9h0M653.1 364.2h0M475.3 198.0h0M546.2 295.4h0M411.5 239.0h0M365.8 364.9h0M442.1 156.9h0M497.2 374.7h0M555.1 257.2h0M575.2 207.8h0M581.0 196.8h0M364.1 167.5h0M481.3 295.3h0M516.7 170.2h0M465.5 262.4h0M541.7 328.3h0M381.6 352.5h0M563.0 218.0h0M485.2 336.1h0M653.3 239.0h0M414.2 250.2h0M646.8 167.1h0M385.1 195.6h0M420.2 195.7h0M404.5 325.7h0M512.4 270.8h0M653.0 303.0h0M399.9 189.3h0M545.7 379.2h0M601.9 172.4h0M478.8 361.9h0M446.7 224.3h0M461.4 309.7h0M466.7 314.9h0M653.5 335.3h0M471.3 305.1h0M452.9 341.5h0M606.4 288.3h0M421.0 189.4h0M542.7 198.6h0M522.5 281.0h0M439.8 357.4h0M526.4 342.4h0M596.4 157.4h0M563.3 273.2h0M445.2 243.5h0M524.4 358.9h0M641.1 153.8h0M361.6 357.8h0M495.7 200.6h0M632.5 357.4h0M413.5 297.3h0M619.6 165.1h0M616.4 315.7h0M376.1 204.4h0M568.0 198.3h0M531.4 205.7h0M633.7 305.2h0M365.9 289.9h0M428.3 336.1h0M438.8 325.3h0M436.9 278.2h0M634.5 267.2h0M510.3 369.8h0M591.1 333.4h0M592.7 207.7h0M446.6 163.3h0M540.9 273.0h0M404.2 211.6h0M395.1 242.9h0M417.6 232.6h0M519.1 190.9h0M417.3 259.9h0M435.5 157.9h0M393.4 314.2h0M572.6 305.0h0M423.4 297.3h0M431.7 305.4h0M477.0 248.1h0M628.5 162.4h0M649.0 187.7h0M421.5 308.2h0M457.5 355.0h0M645.0 340.9h0M514.4 207.5h0M383.2 313.8h0M555.5 206.2h0M396.7 193.5h0M371.7 356.4h0M551.7 295.2h0M405.5 159.8h0M474.3 313.9h0M546.0 234.1h0M627.2 226.7h0M453.8 322.1h0M406.0 177.7h0M504.8 245.3h0M515.3 370.0h0M566.7 194.1h0M557.9 368.9h0M505.5 282.6h0M653.8 321.3h0M515.1 350.3h0M614.9 343.1h0M618.5 319.0h0M493.9 183.0h0M575.8 235.5h0M457.4 313.5h0M371.6 248.9h0M486.1 370.5h0M563.3 306.3h0M415.7 237.7h0M472.0 322.2h0M574.2 329.9h0M385.9 332.9h0M441.4 330.3h0M477.9 166.0h0M360.8 178.7h0M366.1 248.2h0M443.1 321.6h0M447.7 263.6h0M533.8 237.5h0M537.2 287.6h0M368.2 174.8h0M613.5 245.1h0M604.8 228.2h0M554.6 278.2h0M522.3 363.1h0M384.1 322.3h0M564.0 206.7h0M574.1 284.3h0M490.6 264.3h0M581.0 176.9h0M573.0 213.8h0M358.3 275.7h0M441.2 211.1h0M499.5 215.6h0M524.1 232.9h0M383.1 282.1h0M478.9 264.0h0M522.7 184.3h0M405.5 187.8h0M424.5 302.3h0M408.2 206.4h0M592.3 276.4h0M584.1 209.2h0M371.9 361.4h0M490.0 238.3h0M445.4 195.2h0M376.9 204.3h0M609.2 259.3h0M416.4 158.2h0M444.6 163.1h0M611.3 354.0h0M506.7 377.3h0M404.1 318.0h0M352.6 266.5h0M547.0 374.0h0M501.0 263.2h0M598.1 335.7h0M599.7 222.6h0M371.7 305.2h0M650.6 351.6h0M651.4 295.2h0M563.1 270.8h0M633.8 360.7h0M587.4 229.4h0M578.4 210.4h0M478.0 246.1h0M496.1 371.5h0M655.2 273.5h0M584.9 166.6h0M366.2 315.1h0M500.0 287.2h0M651.0 180.9h0M556.1 322.0h0M431.0 293.0h0M473.2 379.4h0M579.0 285.2h0M623.6 304.3h0M597.1 249.1h0M459.3 326.1h0M603.9 240.0h0M465.9 303.0h0M428.0 194.1h0M454.5 353.2h0M652.1 204.4h0M420.9 236.4h0M614.1 167.9h0M358.5 312.0h0M450.1 259.9h0M427.7 220.1h0M494.7 269.9h0M591.8 356.4h0M594.1 294.6h0M606.0 170.6h0M532.0 286.0h0M382.9 298.3h0M468.4 340.8h0M646.4 208.2h0M408.8 207.6h0M464.9 228.6h0M532.2 361.4h0M523.8 207.9h0M602.9 187.2h0M363.5 179.3h0M410.1 179.2h0M546.7 191.9h0M514.8 239.0h0M516.8 367.1h0M543.2 217.2h0M612.6 377.8h0M463.2 311.3h0M352.7 228.2h0M612.3 238.2h0M547.1 159.5h0M602.6 231.9h0M557.9 375.1h0M355.4 261.9h0M498.9 183.7h0M388.0 175.4h0M462.9 237.5h0M648.3 291.2h0M428.5 225.3h0M594.8 362.9h0M467.1 180.3h0M546.0 356.3h0M429.5 326.1h0M410.3 180.9h0M489.9 289.7h0M615.9 284.1h0M602.9 174.7h0M352.4 278.1h0M620.7 169.5h0M477.6 271.9h0M384.5 184.9h0M636.9 201.1h0M628.6 261.3h0M451.3 282.4h0M448.4 237.4h0M468.1 193.7h0M356.7 327.5h0M572.1 333.3h0M404.1 378.9h0M596.6 181.2h0M507.1 165.2h0M442.2 221.4h0M511.8 159.2h0M466.2 369.1h0M500.7 320.7h0M620.6 155.3h0M435.2 306.4h0M607.6 163.2h0M450.7 298.9h0M647.1 201.7h0M558.9 278.2h0M353.2 244.0h0M653.7 243.4h0M562.0 175.8h0M420.9 156.9h0M372.0 233.0h0M431.0 203.2h0M379.4 285.8h0M382.2 369.2h0M477.8 273.1h0M586.5 237.0h0M541.1 370.7h0M423.0 203.9h0M463.9 369.7h0M603.5 274.6h0M367.4 313.1h0M619.7 234.0h0M539.3 303.1h0M437.6 279.3h0M415.5 154.7h0M393.8 222.7h0M620.3 363.5h0M641.6 268.6h0M525.3 246.3h0M491.5 168.0h0M376.2 250.2h0M520.3 190.0h0M544.3 164.6h0M440.1 326.2h0M430.3 300.6h0M395.2 325.1h0M520.1 207.3h0M378.0 205.5h0M413.8 197.6h0M518.9 328.2h0M540.9 241.0h0M402.4 355.5h0M500.3 219.1h0M484.8 309.0h0M640.8 322.4h0M435.2 287.1h0M507.0 194.0h0M377.7 276.9h0M427.5 330.9h0M391.1 269.0h0M632.2 309.9h0M429.2 245.3h0M384.0 265.4h0M388.0 204.0h0M408.3 169.1h0M536.6 251.2h0M462.8 156.1h0M496.8 369.7h0M406.3 268.3h0M440.0 305.0h0M617.6 194.5h0M459.1 285.6h0M453.8 235.9h0M642.6 255.7h0M406.0 222.7h0M511.5 325.8h0M380.7 319.1h0M394.7 265.1h0M470.5 341.5h0M483.4 276.3h0M534.8 262.1h0M364.9 220.5h0M584.0 262.5h0M589.6 271.9h0M456.4 302.4h0M477.2 194.4h0M406.9 369.9h0M506.6 258.2h0M433.2 196.0h0M579.4 290.1h0M541.1 298.3h0M463.0 320.1h0M543.5 205.9h0M583.8 214.6h0M530.7 367.4h0M485.3 202.8h0M442.4 340.8h0M511.0 222.8h0M530.0 306.8h0M433.1 296.0h0M513.7 231.0h0M454.9 307.6h0M404.0 186.2h0M366.9 326.1h0M383.5 363.3h0M635.4 294.7h0M607.8 255.6h0M440.5 296.3h0M546.6 186.2h0M612.0 202.0h0M520.2 206.8h0M446.0 169.0h0M577.1 233.5h0M655.4 169.9h0M592.6 375.5h0M572.6 217.3h0M450.2 187.4h0M560.4 338.7h0M641.6 187.6h0M552.6 165.5h0M530.1 318.3h0M393.8 253.1h0M387.8 294.7h0M513.3 174.9h0M495.4 285.8h0M476.5 318.2h0M490.1 211.1h0M364.4 207.8h0M621.9 183.9h0M354.0 233.3h0M617.6 201.5h0M405.2 346.3h0M485.7 203.8h0M655.5 339.2h0M497.7 167.7h0M586.9 220.4h0M481.9 285.0h0M475.8 378.8h0M442.1 326.2h0M516.0 350.2h0M415.4 294.7h0M617.9 346.4h0M379.7 228.5h0M629.0 153.9h0M494.2 335.2h0M459.8 335.1h0M541.5 242.2h0M496.5 203.3h0M629.8 184.7h0M619.2 157.2h0M636.0 325.4h0M355.9 226.3h0M549.6 360.3h0M567.0 339.0h0M610.7 325.6h0M400.7 359.9h0M605.4 368.5h0M487.0 247.3h0M572.0 369.4h0M363.0 190.7h0M559.0 197.6h0M560.2 296.7h0M613.1 268.0h0M514.0 191.4h0M539.8 269.0h0M537.7 269.8h0M627.7 342.8h0M569.4 305.2h0M402.9 221.4h0M546.5 179.3h0M489.7 308.3h0M494.5 374.2h0M486.5 285.1h0M464.4 162.4h0M416.8 367.8h0M416.2 349.2h0M518.3 292.1h0M567.4 271.0h0M582.7 303.1h0M650.6 213.0h0M468.4 378.7h0M357.3 178.0h0M620.5 190.7h0M561.6 284.1h0M452.5 223.7h0M586.5 300.9h0M585.8 269.2h0M498.8 341.8h0M434.2 254.7h0M440.7 318.1h0M620.3 310.0h0M509.6 303.1h0M581.7 178.0h0M594.2 187.2h0M522.0 180.0h0M635.4 246.6h0M650.0 309.1h0M474.1 278.6h0M440.8 240.4h0M365.1 377.4h0M604.4 235.0h0M456.2 270.8h0M477.2 361.3h0M526.4 219.0h0M629.9 190.2h0M439.9 196.5h0M363.2 303.1h0M484.8 164.5h0M636.4 191.3h0M465.6 226.4h0M392.5 224.9h0M482.7 378.5h0M511.9 245.6h0M525.6 172.5h0M562.0 237.1h0M509.7 194.0h0M363.7 173.0h0M405.5 221.0h0M595.2 197.8h0M578.5 184.2h0M415.1 306.1h0M426.5 330.4h0M398.9 193.9h0M577.1 301.8h0M525.2 183.8h0M460.3 297.1h0M604.4 346.0h0M634.2 338.4h0M621.1 156.8h0M366.0 373.0h0M522.9 256.1h0M548.2 317.0h0M523.9 302.3h0M545.6 348.1h0M403.1 249.0h0M434.5 217.0h0M562.1 302.8h0M570.5 269.3h0M484.8 159.3h0M589.7 179.0h0M455.9 373.5h0M523.2 169.6h0M443.0 228.5h0M591.4 221.4h0M653.7 254.8h0M655.8 375.9h0M543.3 171.0h0M597.1 371.4h0M402.2 298.7h0M405.9 311.9h0M607.7 355.5h0M460.3 176.2h0M491.6 260.5h0M424.7 196.0h0M517.5 212.3h0M485.4 256.4h0M565.4 168.9h0M573.7 265.0h0M459.9 269.3h0M540.7 340.1h0M418.9 187.1h0M637.1 207.2h0M478.1 167.5h0M519.7 209.5h0M359.7 180.8h0M391.5 188.3h0M375.5 258.1h0M495.2 375.7h0M549.7 159.0h0M599.2 163.7h0M499.4 213.9h0M527.7 181.8h0M405.0 312.6h0M536.0 254.6h0M586.7 192.3h0M510.4 253.8h0M651.7 181.4h0M610.8 159.8h0M361.0 155.9h0M563.1 280.1h0M519.7 202.3h0M556.1 223.7h0M593.8 351.5h0M600.4 345.1h0M618.1 340.5h0M625.0 174.8h0M543.0 232.5h0M644.9 368.1h0M501.6 295.3h0M532.4 175.3h0M575.1 205.7h0M374.0 325.2h0M594.2 331.3h0M633.8 335.5h0M449.7 222.7h0M381.6 246.0h0M371.5 338.2h0M426.9 344.5h0M428.4 277.1h0M448.8 270.8h0M652.5 302.2h0M485.8 292.0h0M591.2 324.1h0M406.3 359.8h0M392.0 154.6h0M532.7 322.0h0M440.2 235.3h0M378.3 346.3h0M604.0 208.1h0M499.7 327.9h0M653.1 355.1h0M446.4 236.1h0M463.7 153.9h0M531.3 174.0h0M614.1 297.0h0M590.6 347.2h0M650.6 201.4h0M494.1 330.7h0M500.7 233.4h0M429.5 341.9h0M587.2 181.8h0M366.9 275.9h0M602.3 247.0h0M428.8 291.7h0M577.7 277.2h0M492.1 344.0h0M560.5 279.0h0M437.7 344.4h0M652.4 197.7h0M643.9 325.3h0M472.7 278.3h0M369.6 197.1h0M504.3 306.1h0M472.2 302.8h0M574.8 329.9h0M395.6 201.9h0M438.1 171.8h0M453.7 220.9h0M463.3 216.9h0M529.2 253.8h0M457.4 361.8h0M570.5 326.2h0M647.2 300.9h0M648.1 342.1h0M542.3 198.1h0M403.8 213.4h0M454.9 185.5h0M474.7 169.8h0M365.7 321.5h0M648.0 313.7h0M383.5 306.2h0M425.1 274.8h0M423.6 295.9h0M628.0 159.9h0M416.0 167.7h0M492.2 237.0h0M523.3 271.2h0M450.0 236.3h0M435.3 195.3h0M395.5 154.7h0M437.4 159.8h0M526.0 242.3h0M358.8 298.6h0M410.1 238.2h0M502.7 281.4h0M599.2 213.2h0M613.2 315.5h0M550.9 191.5h0M603.8 302.2h0M558.6 264.0h0M435.6 370.2h0M383.5 348.2h0" stroke="#2e1e1a" stroke-width="3.0" stroke-linecap="round" fill="none" stroke-opacity="0.6"/>
<path d="M356.7 273.7h0M409.9 208.6h0M643.2 346.1h0M650.0 244.0h0M452.1 221.0h0M565.1 372.3h0M650.5 256.5h0M361.7 351.9h0M424.2 185.7h0M360.7 337.5h0M505.0 291.1h0M560.5 196.6h0M430.1 244.9h0M490.6 200.0h0M619.8 217.6h0M529.6 360.2h0M498.8 203.9h0M604.3 302.2h0M523.5 257.7h0M452.8 247.3h0M518.6 171.0h0M504.9 243.8h0M443.0 227.5h0M460.4 286.7h0M624.7 378.0h0M406.8 188.2h0M432.0 335.0h0M417.8 374.1h0M481.1 171.1h0M586.3 271.6h0M471.8 207.8h0M397.9 288.9h0M417.7 162.9h0M482.1 242.8h0M371.2 245.5h0M451.0 211.2h0M390.4 168.1h0M635.8 378.3h0M568.9 180.6h0M388.6 228.7h0M388.7 227.2h0M463.3 212.7h0M458.6 251.5h0M437.1 299.9h0M539.6 358.5h0M555.2 251.5h0M625.0 369.4h0M639.1 357.1h0M645.0 247.6h0M367.2 343.5h0M579.9 264.4h0M475.7 373.1h0M369.3 327.1h0M580.9 285.4h0M651.0 361.9h0M587.7 212.7h0M370.8 305.0h0M613.0 366.0h0M643.0 159.2h0M454.1 232.4h0M435.1 366.9h0M408.3 232.6h0M639.0 375.8h0M583.9 244.7h0M493.4 195.2h0M510.9 264.5h0M642.2 355.5h0M368.7 261.3h0M461.0 275.7h0M529.3 175.3h0M358.9 222.1h0M394.8 199.5h0M630.9 306.9h0M570.1 265.8h0M583.4 317.8h0M467.9 173.3h0M410.9 230.0h0M566.9 360.0h0M392.1 331.0h0M455.3 153.9h0M653.4 298.5h0M557.1 373.5h0M361.2 190.4h0M460.7 380.7h0M622.7 323.8h0M415.5 299.8h0M436.6 319.3h0M592.8 290.6h0M514.0 285.8h0M638.5 343.9h0M532.9 339.8h0M421.2 168.0h0M523.8 219.8h0M466.9 215.0h0M361.1 262.9h0M601.0 348.6h0M653.5 224.6h0M606.1 344.0h0M463.8 298.9h0M570.1 273.4h0M360.6 312.7h0M650.5 287.5h0M372.5 220.8h0M563.0 248.3h0M531.7 212.6h0M414.9 200.2h0M571.0 204.8h0M652.3 157.2h0M600.8 216.3h0M358.1 191.2h0M548.2 177.1h0M429.0 180.6h0M477.6 288.3h0M354.4 325.0h0M557.1 174.7h0M439.3 179.7h0M471.4 154.1h0M593.6 270.8h0M415.0 324.2h0M356.5 256.2h0M446.8 313.3h0M535.7 208.1h0M514.6 337.8h0M453.4 192.4h0M605.7 349.0h0M545.3 205.3h0M651.3 292.8h0M577.1 304.0h0M566.6 203.1h0M482.8 189.5h0M537.9 259.0h0M357.4 271.8h0M565.3 351.2h0M604.9 189.4h0M362.6 355.5h0M531.7 247.7h0M600.2 159.0h0M518.1 374.6h0M423.6 330.1h0M523.3 367.8h0M566.2 353.2h0M375.5 236.6h0M632.0 163.2h0M574.5 302.0h0M364.0 202.4h0M537.7 234.5h0M463.5 247.5h0M364.2 341.4h0M620.8 268.6h0M608.2 252.6h0M487.5 267.5h0M405.5 176.0h0M612.6 275.6h0M546.2 158.9h0M478.6 274.6h0M459.2 205.8h0M652.0 314.3h0M517.2 295.9h0M393.5 200.2h0M410.3 331.5h0M384.9 182.9h0M432.0 223.2h0M388.3 239.9h0M604.5 163.8h0M613.9 222.7h0M567.6 209.2h0M642.3 311.2h0M359.8 305.6h0M418.2 279.6h0M605.6 273.8h0M429.7 377.2h0M569.3 289.6h0M620.1 315.7h0M628.6 198.4h0M516.3 226.9h0M415.1 233.7h0M474.8 355.0h0M379.4 298.9h0M485.9 167.4h0M363.4 360.0h0M477.4 285.8h0M580.1 344.7h0M444.0 267.8h0M406.2 278.6h0M592.4 365.2h0M422.7 361.8h0M436.4 224.8h0M377.2 185.0h0" stroke="#2e1e1a" stroke-width="2.5" stroke-linecap="round" fill="none" stroke-opacity="0.6"/>
<path d="M509.9 299.1h0M473.8 346.0h0M415.8 360.4h0M406.1 280.7h0M547.7 180.2h0M534.8 238.1h0M643.6 263.6h0M357.1 214.8h0M370.5 193.7h0M526.0 183.6h0M625.9 351.5h0M592.3 349.8h0M627.3 303.6h0M629.9 353.6h0M560.1 199.0h0M406.4 156.1h0M457.2 312.1h0M538.8 325.4h0M594.2 368.1h0M458.0 172.5h0M519.3 328.2h0M595.2 193.0h0M561.6 368.5h0M522.3 224.5h0M610.6 373.6h0M526.2 199.3h0M646.7 270.9h0M595.5 281.5h0M562.1 168.7h0M574.2 181.6h0M428.2 198.6h0M484.8 239.0h0M544.0 298.7h0M505.8 325.9h0M384.4 162.2h0M370.9 369.8h0M584.5 227.9h0M588.5 338.7h0M585.3 327.5h0M571.7 169.7h0M494.6 156.1h0M639.2 305.0h0M552.6 283.1h0M428.3 359.4h0M506.4 373.3h0M495.5 192.1h0M374.4 359.4h0M512.6 181.9h0M631.9 250.8h0M377.3 281.8h0M460.8 318.6h0M387.8 314.8h0M624.0 210.1h0M463.2 236.2h0M469.9 198.0h0M508.8 277.3h0M510.6 327.4h0M567.3 361.5h0M643.2 299.1h0M567.9 335.9h0M406.6 167.9h0M518.7 339.3h0M640.1 335.7h0M355.4 261.0h0M430.9 351.1h0M569.9 175.8h0M603.2 201.0h0M539.3 219.6h0M516.1 221.4h0M412.9 319.8h0M567.3 194.5h0M585.1 340.2h0M357.7 228.9h0M549.9 177.8h0M626.5 278.2h0M452.1 364.7h0M393.3 359.0h0M494.3 186.2h0M525.2 193.1h0M432.2 282.7h0M611.9 246.6h0M524.1 359.3h0M373.3 182.0h0M554.4 350.5h0M592.9 181.8h0M624.1 338.9h0M606.7 234.1h0M563.6 366.7h0M485.9 273.7h0M492.4 324.2h0M521.1 300.2h0M552.1 331.5h0M502.9 252.4h0M627.8 282.9h0M370.7 247.0h0M422.0 211.2h0M537.8 162.7h0M549.6 167.0h0M621.5 258.8h0M614.3 200.2h0M374.2 310.7h0M569.4 214.7h0M398.8 366.4h0M358.3 226.8h0M377.4 354.1h0M447.0 250.0h0M420.8 220.0h0M468.6 228.2h0M437.1 189.7h0M425.0 174.8h0M359.1 242.6h0M502.7 286.8h0M457.6 356.2h0M604.2 353.5h0M506.2 223.8h0M352.4 277.2h0M518.7 295.5h0M604.7 373.7h0M541.0 265.1h0M450.9 194.1h0M489.3 329.0h0M368.3 211.4h0M428.6 316.2h0M603.9 282.6h0M595.6 182.1h0M479.5 297.1h0M517.0 263.4h0M584.7 376.5h0M635.8 210.8h0M435.4 205.4h0M375.9 195.1h0M472.4 166.8h0M388.2 170.7h0M581.1 224.1h0M592.9 320.7h0M421.2 241.9h0M551.8 337.8h0M385.0 378.0h0M644.7 203.6h0M397.1 297.8h0M606.6 310.4h0M554.3 248.9h0M422.0 290.1h0M635.2 188.2h0M576.0 378.4h0M428.3 337.0h0M520.8 332.5h0M594.2 188.2h0M382.6 162.1h0M638.1 292.2h0M481.2 340.0h0M490.4 365.7h0M578.0 290.2h0M428.6 249.2h0M379.0 236.3h0M571.8 305.7h0M544.5 260.3h0M372.3 258.7h0M458.8 275.4h0M506.3 182.0h0M391.5 173.8h0M489.4 280.4h0M399.2 374.1h0M568.7 189.3h0M621.6 368.6h0M504.3 359.0h0M463.9 251.2h0M461.0 251.5h0M512.5 278.0h0M419.8 176.2h0M532.4 371.9h0M434.2 334.4h0M466.9 255.4h0M389.6 352.1h0M361.6 251.8h0M557.0 364.5h0M530.1 199.6h0M510.1 241.9h0M498.1 376.4h0M371.6 341.0h0M524.7 278.9h0M418.5 199.0h0M423.0 256.5h0M573.7 368.0h0M510.5 171.2h0M408.2 273.3h0M604.3 310.1h0M648.5 343.0h0M497.7 331.7h0M478.0 378.5h0M356.3 267.0h0M512.2 276.4h0M505.2 190.1h0M540.1 237.6h0M541.7 225.7h0M620.7 285.6h0M516.2 258.2h0M457.6 280.7h0M632.5 270.5h0M526.6 297.2h0M379.4 266.7h0M429.5 358.7h0M607.7 267.9h0M631.5 158.9h0M501.6 241.0h0M560.7 367.7h0M614.2 275.3h0M528.6 208.5h0M373.4 165.5h0M626.4 210.7h0M548.9 314.0h0M483.5 177.9h0M485.1 182.7h0M526.3 322.7h0M374.2 242.5h0M419.2 350.3h0M488.4 236.8h0M648.8 332.1h0M420.8 328.7h0M601.7 343.9h0M566.4 281.2h0M435.5 282.5h0M536.2 258.2h0M496.1 224.9h0M455.8 253.6h0M371.1 344.7h0M522.7 234.5h0M552.5 310.9h0M477.7 242.3h0M494.5 273.8h0M490.3 244.0h0M647.2 277.1h0M446.3 349.5h0M356.2 187.4h0M546.4 178.8h0M418.0 255.2h0M453.6 371.2h0M636.3 163.6h0M569.4 195.8h0M555.6 296.3h0M501.6 240.9h0M362.3 196.7h0M524.8 269.1h0M621.9 287.2h0M468.6 314.5h0M577.1 350.3h0M395.8 245.4h0M536.5 197.2h0M610.1 198.8h0M569.7 206.5h0M480.0 225.9h0M447.1 322.1h0M401.4 161.7h0M407.8 319.6h0M382.0 161.8h0M602.7 309.0h0M587.4 297.4h0M534.9 269.4h0M440.3 257.2h0M499.2 244.1h0M397.9 187.6h0M535.1 327.1h0M557.3 202.3h0M593.7 163.0h0M615.0 210.2h0M582.9 230.2h0M563.8 318.9h0M465.9 246.9h0M548.8 233.8h0M618.8 233.8h0M413.4 219.7h0M546.2 336.0h0M362.7 249.3h0M597.6 174.2h0M381.7 174.7h0M555.5 189.6h0M446.2 253.4h0M652.1 343.4h0M570.9 330.0h0M490.9 260.0h0M365.8 241.6h0M362.0 171.8h0M576.0 222.5h0M426.7 319.8h0M477.4 277.8h0M557.0 229.9h0M619.2 235.5h0M590.8 280.1h0M456.6 324.3h0M572.7 306.7h0M514.2 285.2h0M628.1 165.0h0M512.5 161.3h0M636.1 181.9h0M453.5 246.9h0M421.5 209.2h0M547.6 291.4h0M647.3 316.4h0M579.1 328.0h0M370.7 319.6h0M623.7 378.7h0M492.6 200.3h0M421.0 204.0h0M574.5 293.1h0M492.6 357.5h0M355.5 227.7h0M480.6 335.8h0M649.1 198.1h0M624.2 219.9h0M511.3 214.1h0M600.9 266.4h0M439.4 355.6h0M360.8 265.8h0M630.4 363.4h0M460.3 200.0h0M514.5 166.4h0M353.2 279.5h0M420.0 198.9h0M559.3 337.3h0M597.0 202.8h0M369.2 327.3h0M651.9 219.5h0M525.1 168.6h0M576.8 347.5h0M450.5 239.8h0M520.2 307.7h0M441.2 284.2h0M534.5 295.6h0M538.2 220.8h0M539.3 331.5h0M518.7 305.2h0M482.1 374.0h0M402.7 269.8h0M568.6 192.3h0M488.4 298.5h0M401.9 234.5h0M616.4 179.6h0M534.1 215.3h0M422.5 253.1h0M424.2 375.5h0M511.0 278.1h0M368.4 225.3h0M425.0 238.3h0M385.5 363.6h0M425.5 196.3h0M453.4 380.0h0M432.1 327.9h0M541.1 254.8h0M489.6 328.2h0M511.7 234.7h0M586.9 155.2h0M481.3 331.7h0M442.6 369.0h0M585.3 206.9h0M595.3 290.8h0M511.5 289.1h0M477.0 344.9h0M586.8 310.4h0M427.5 292.8h0M449.0 225.0h0M647.4 255.6h0M479.1 280.2h0M530.3 315.6h0M636.8 317.8h0M543.0 347.8h0M429.8 260.5h0M511.7 321.2h0M439.1 357.8h0M399.4 241.2h0M459.6 315.4h0M423.5 293.8h0M446.3 371.2h0M637.9 171.8h0M590.7 268.7h0M517.5 367.4h0M559.2 177.5h0M500.9 250.9h0M646.4 241.7h0M581.5 159.5h0M539.1 265.0h0M428.6 369.8h0M504.9 375.5h0M624.5 353.2h0M462.3 320.6h0M371.3 217.6h0M516.9 169.7h0M399.5 263.4h0M651.8 333.7h0M467.6 329.6h0M646.4 172.0h0M638.4 361.7h0M379.8 330.2h0M589.9 297.7h0M532.9 286.5h0M375.2 249.8h0M491.4 157.0h0M373.3 185.0h0M629.3 203.9h0M408.9 194.2h0M353.8 240.7h0M357.4 255.5h0M503.9 335.8h0M580.9 330.3h0M443.3 196.9h0M472.5 308.1h0M538.3 268.5h0M652.8 351.7h0M404.7 212.5h0M508.2 376.3h0M491.9 332.9h0M379.6 225.1h0M390.5 214.7h0M633.8 229.8h0M415.7 321.2h0M416.5 197.4h0M360.4 230.2h0M516.1 264.6h0M631.3 343.3h0M611.2 193.5h0M449.6 164.4h0M571.0 282.4h0M639.4 169.2h0M620.7 197.8h0M379.7 246.2h0M384.1 358.4h0M426.1 172.3h0M561.2 292.7h0M447.9 229.0h0M520.9 315.9h0M383.2 225.8h0M546.8 296.8h0M531.4 311.8h0M378.8 180.3h0M577.5 200.6h0M387.2 181.1h0M525.9 159.5h0M616.8 314.7h0M373.4 260.4h0M434.6 369.7h0M464.2 322.9h0M587.4 200.6h0M430.0 372.1h0M465.2 172.7h0M558.7 270.9h0M532.2 164.7h0M428.1 286.0h0M574.1 198.4h0M493.2 227.0h0M420.7 170.7h0M517.3 287.9h0M626.1 307.5h0M622.7 262.8h0M515.1 275.6h0M566.6 341.6h0M643.7 219.4h0M428.6 297.7h0M372.1 274.4h0M462.3 273.5h0M444.7 261.4h0M526.4 321.8h0M444.4 248.4h0M483.1 183.8h0M465.8 368.1h0M616.3 168.9h0M563.8 343.9h0M613.0 326.3h0M504.0 222.4h0M468.5 278.6h0M412.4 207.7h0M576.3 321.6h0M519.3 268.6h0M373.7 271.9h0M621.8 277.8h0M484.2 367.7h0M514.5 236.2h0M448.4 215.4h0M547.5 235.5h0M609.3 211.9h0M524.5 352.2h0M614.8 363.7h0M514.9 156.7h0M574.2 181.8h0M406.2 277.9h0M389.4 361.0h0M553.6 260.2h0M481.1 360.0h0M599.2 275.0h0M571.0 302.0h0M571.2 314.9h0M499.3 181.0h0M581.0 191.0h0M608.5 158.2h0M420.5 168.4h0M637.3 351.1h0M403.0 321.6h0M580.8 155.0h0M494.8 369.7h0M641.1 225.8h0M452.1 173.4h0M392.2 369.8h0M422.9 255.7h0M599.7 275.7h0M610.6 235.3h0M590.5 194.7h0M433.1 334.0h0M447.7 216.4h0M604.9 154.8h0M415.6 201.4h0M595.1 296.4h0M586.8 349.1h0M366.0 195.1h0M384.2 193.2h0M542.8 173.8h0M422.2 379.1h0M450.1 380.1h0M609.8 373.8h0M357.9 190.3h0M563.9 190.9h0M433.2 361.1h0M570.9 242.4h0M405.9 295.9h0M359.4 155.7h0M365.3 219.2h0M490.5 313.6h0M435.5 263.0h0M425.7 363.2h0M508.7 159.4h0M387.2 262.4h0M463.7 276.0h0M626.0 347.6h0M554.3 294.7h0M556.2 155.1h0M409.2 203.1h0M615.5 365.2h0M461.4 194.4h0M614.8 275.0h0M596.9 263.1h0M599.0 332.3h0M445.0 243.4h0M521.4 361.8h0M549.3 228.5h0M467.7 159.1h0M478.1 200.5h0M374.2 367.4h0M470.4 337.5h0M560.7 304.5h0M533.7 261.5h0M518.2 252.5h0M388.8 172.8h0M486.0 352.0h0M549.2 206.4h0M443.7 329.7h0M378.2 355.7h0M512.8 207.4h0M370.7 265.1h0M440.5 191.9h0M568.1 365.3h0M634.2 328.6h0M491.3 313.2h0M597.0 193.0h0M591.9 342.3h0M526.1 273.2h0M400.9 348.8h0M399.5 285.9h0M546.2 276.7h0M533.1 254.7h0M616.4 375.3h0M534.7 241.2h0M463.0 266.0h0M457.9 276.1h0M606.3 325.4h0M633.1 171.9h0M358.6 187.7h0M366.1 259.7h0M636.6 212.3h0M498.8 218.7h0M429.7 196.5h0M580.5 319.9h0M546.6 336.2h0M528.0 315.0h0M535.2 188.6h0M437.4 155.0h0M541.5 162.2h0M609.9 286.2h0M390.9 378.4h0M591.5 201.5h0M410.6 348.9h0M377.3 339.1h0M654.6 240.8h0M480.3 272.9h0M533.5 357.5h0M519.2 255.3h0M646.6 300.5h0M495.4 201.7h0M419.3 204.7h0M383.0 345.9h0M416.6 329.2h0M637.0 265.9h0M614.2 219.8h0M508.4 281.3h0M429.4 234.3h0M519.0 345.5h0M523.3 327.8h0M441.1 289.6h0M418.5 372.2h0M642.6 167.1h0M431.7 185.1h0M505.2 360.0h0M631.3 197.7h0M436.0 186.3h0M365.2 305.7h0M355.2 180.6h0M495.6 252.2h0M647.0 243.8h0M455.2 286.1h0M399.3 222.6h0M505.7 323.8h0M651.2 295.0h0M446.5 225.8h0M357.1 236.2h0M509.8 376.0h0M535.1 224.7h0M552.4 275.9h0M414.0 192.3h0M416.5 176.9h0M605.5 250.4h0M459.0 301.9h0M534.1 215.1h0M518.6 254.9h0M535.9 200.2h0M415.9 197.1h0M427.8 229.3h0M634.8 287.8h0M540.5 263.3h0M553.9 322.7h0M593.7 215.9h0M414.9 297.2h0M531.3 318.5h0M615.1 227.1h0M637.9 168.4h0M540.7 369.5h0M603.8 313.7h0M518.8 321.0h0M427.2 212.6h0M576.9 363.1h0M648.1 304.6h0M389.8 264.4h0M412.7 323.9h0M586.0 197.5h0M387.5 193.0h0" stroke="#2e1e1a" stroke-width="3.5" stroke-linecap="round" fill="none" stroke-opacity="0.6"/>
<polygon points="352.0,154.0 412.0,154.0 396.0,175.0 390.0,200.0 388.0,245.0 384.0,268.0 378.0,288.0 352.0,290.0" fill="#cdcdbe" stroke="#cdcdbe" stroke-width="8" stroke-linejoin="round"/>
<polygon points="449.0,154.0 456.0,154.0 456.0,192.0 451.0,196.0 449.0,186.0" fill="#cdcdbe" stroke="#cdcdbe" stroke-width="8" stroke-linejoin="round"/>
<polygon points="425.0,204.0 438.0,204.0 438.0,212.0 425.0,213.0" fill="#cdcdbe" stroke="#cdcdbe" stroke-width="8" stroke-linejoin="round"/>
<polygon points="493.0,218.0 504.0,216.0 506.0,232.0 494.0,232.0" fill="#cdcdbe" stroke="#cdcdbe" stroke-width="8" stroke-linejoin="round"/>
<polygon points="462.0,268.0 506.0,266.0 500.0,300.0 488.0,312.0 468.0,312.0" fill="#cdcdbe" stroke="#cdcdbe" stroke-width="8" stroke-linejoin="round"/>
<polygon points="428.0,382.0 436.0,360.0 458.0,352.0 474.0,356.0 480.0,382.0" fill="#cdcdbe" stroke="#cdcdbe" stroke-width="8" stroke-linejoin="round"/>
<polygon points="352.0,362.0 372.0,364.0 376.0,382.0 352.0,382.0" fill="#cdcdbe" stroke="#cdcdbe" stroke-width="8" stroke-linejoin="round"/>
<polygon points="372.0,290.0 384.0,288.0 392.0,322.0 380.0,330.0 376.0,320.0" fill="#cdcdbe" stroke="#cdcdbe" stroke-width="8" stroke-linejoin="round"/>
<polygon points="594.0,292.0 600.0,290.0 606.0,318.0 600.0,342.0 594.0,338.0" fill="#cdcdbe" stroke="#cdcdbe" stroke-width="8" stroke-linejoin="round"/>
<polygon points="527.0,168.0 531.0,168.0 533.0,198.0 529.0,198.0" fill="#cdcdbe" stroke="#cdcdbe" stroke-width="8" stroke-linejoin="round"/>
<polygon points="582.0,318.0 600.0,330.0 598.0,360.0 578.0,356.0" fill="#cdcdbe" stroke="#cdcdbe" stroke-width="8" stroke-linejoin="round"/>
<polyline points="545.0,193.0 600.0,201.0 656.0,214.0" fill="none" stroke="#b4b6ac" stroke-width="9" stroke-linecap="round"/>
<polyline points="360.0,175.0 405.0,156.0" fill="none" stroke="#b4b6ac" stroke-width="9" stroke-linecap="round"/>
<polyline points="640.0,174.0 656.0,196.0" fill="none" stroke="#b4b6ac" stroke-width="9" stroke-linecap="round"/>
<path d="M356.3 244.9l-0.1 0.9M355.8 278.1l-1.5 1.5M400.1 167.9l-0.9 1.8M373.3 209.5l-0.0 0.4M379.8 256.7l1.1 0.3M362.4 216.3l0.2 0.4M378.2 171.1l-0.1 0.7M377.8 241.0l0.0 0.0M381.8 199.3l-0.3 0.8M374.9 169.7l-1.3 2.1M355.3 209.1l2.2 0.1M377.7 208.7l2.2 1.2M366.2 189.1l2.1 0.8M368.7 187.8l-0.0 1.3M355.3 220.4l-0.1 0.4M382.1 186.3l-1.6 0.4M364.6 206.9l0.3 1.0M376.2 281.4l-0.7 0.2M368.9 252.5l1.5 0.6M356.4 272.9l1.9 0.3M369.3 211.8l-0.4 0.1M369.7 250.3l-2.9 1.2M387.7 202.7l-2.1 1.2M356.8 280.0l1.3 0.9M364.2 206.4l-0.5 2.2M353.9 187.2l1.2 2.5M368.3 231.1l1.8 2.5M359.9 261.2l2.3 1.5M398.2 162.2l-0.8 0.0M364.9 160.8l-0.2 1.9M394.8 160.9l-2.5 0.8M383.4 234.0l0.7 1.6M360.8 214.4l1.0 0.2M375.9 250.6l-2.4 1.2M365.9 162.7l1.9 1.8M376.2 169.5l-0.0 0.9M388.9 200.0l1.9 1.6M358.5 219.3l0.2 0.8M378.5 163.2l0.1 0.9M399.6 161.6l0.1 1.3M367.1 155.8l0.6 0.9M356.6 176.6l-0.1 0.1M356.5 202.2l0.6 0.2M358.5 223.6l-0.8 0.1M372.8 214.4l-2.4 1.8M383.5 211.3l-0.6 0.3M383.3 183.2l-0.9 2.4M388.1 161.7l2.3 0.8M387.8 212.3l-0.9 0.4M378.0 167.5l-1.6 0.2M387.5 211.7l-2.2 2.3M375.8 248.5l-0.5 1.5M365.7 166.2l0.3 1.7M354.5 207.3l-0.4 0.6M373.4 222.4l0.3 0.2M371.0 199.8l-2.6 0.1M356.8 171.8l-0.8 0.8M363.6 226.2l0.0 0.0M365.4 159.9l-1.2 0.7M382.7 270.0l-2.4 0.8M395.5 174.5l-1.4 0.6M368.5 229.5l0.0 0.0M353.3 166.2l-1.2 0.9M372.7 192.7l0.8 2.0M382.1 257.5l1.9 2.4M369.3 220.0l-1.1 2.6M374.3 262.0l-2.3 0.9M378.4 259.4l2.4 0.9M358.4 175.5l-0.3 1.2M372.2 232.9l-0.3 0.0M371.6 279.4l0.0 0.4M369.7 196.0l-2.7 1.0M373.1 172.8l0.3 0.3M409.8 154.7l1.5 0.7M373.2 183.4l2.1 2.3M352.5 235.8l-0.1 0.5M387.2 155.5l-0.2 0.4M455.4 164.9l0.4 3.1M452.6 154.4l0.1 0.4M455.2 183.9l0.4 0.2M493.6 221.9l0.0 0.5M487.1 308.8l0.3 1.1M476.6 290.6l0.3 1.7M495.8 283.4l-1.6 2.3M478.4 308.8l0.7 0.8M487.0 281.1l-1.8 2.2M467.0 298.2l-1.2 0.6M479.3 293.5l-0.8 0.1M468.1 307.9l0.0 1.9M494.9 275.8l0.8 1.6M488.8 287.7l-0.3 0.1M502.1 267.3l0.8 1.1M451.3 357.0l1.3 0.7M469.1 364.0l0.4 0.7M447.3 373.1l0.7 0.3M449.7 356.4l1.7 0.8M433.8 376.6l1.4 1.4M437.3 364.3l-2.8 0.4M466.7 361.2l0.1 0.7M382.2 315.1l-0.6 1.7M381.9 305.5l-1.2 0.2M605.3 317.9l0.5 0.1M588.2 327.3l-1.2 0.9M588.0 333.5l-2.0 1.6M599.4 331.1l2.0 2.2" stroke="#303a6e" stroke-width="3.0" stroke-linecap="round" fill="none" stroke-opacity="0.75"/>
<path d="M394.5 162.9l-2.7 0.8M379.6 242.2l-1.2 0.5M365.0 200.0l0.2 0.0M373.8 255.1l-1.7 2.7M387.9 182.1l-0.0 0.9M365.3 231.1l-0.6 2.7M364.0 251.3l0.5 0.1M388.4 223.5l-1.9 0.3M360.9 168.0l-1.2 2.7M368.0 181.9l0.3 0.1M370.0 182.9l-0.0 0.8M381.6 262.3l1.2 2.4M381.6 210.5l-0.4 1.2M371.5 228.6l-2.2 2.2M365.6 209.3l-1.0 0.1M379.7 180.0l-2.1 0.5M394.3 155.7l0.0 0.1M371.4 156.4l-0.0 0.4M365.6 223.7l1.9 1.3M366.1 160.9l0.0 0.0M352.5 284.6l0.2 0.1M372.4 221.2l0.9 0.0M357.1 275.4l2.0 2.0M389.6 173.3l0.0 0.1M386.0 159.7l0.6 1.4M355.0 193.9l0.0 0.8M387.3 165.5l-0.4 0.7M394.3 160.6l-0.5 2.1M376.6 173.4l0.9 1.1M374.3 199.6l0.3 1.0M358.5 217.7l2.4 0.2M364.7 179.6l-1.8 2.0M380.8 168.0l-0.0 0.6M366.7 185.5l0.4 2.7M358.8 159.2l0.4 3.0M373.2 241.2l3.1 0.7M352.6 215.8l-0.1 0.1M371.4 285.7l1.5 1.8M392.2 157.3l-0.5 1.4M375.2 285.7l0.2 0.1M357.5 164.3l-2.6 1.2M371.8 282.8l0.2 0.3M356.6 276.7l-0.3 0.1M375.0 282.7l0.1 0.3M379.0 258.4l-1.0 3.0M356.4 272.1l0.2 1.8M354.2 167.8l0.2 1.9M356.3 259.7l-2.0 1.2M377.3 254.7l-1.7 1.9M370.9 168.7l-0.1 2.9M436.4 204.3l-3.2 0.2M503.6 223.1l1.0 0.2M493.0 267.9l-0.0 1.2M465.9 284.6l0.3 0.5M470.1 294.9l0.2 0.3M476.4 297.0l-0.8 0.0M472.7 280.8l2.6 1.0M482.1 304.8l1.5 0.2M442.5 373.2l-0.1 0.7M473.4 379.3l0.4 3.1M449.4 376.5l-0.7 1.0M468.8 368.8l-0.7 0.3M465.4 360.7l-2.2 0.2M368.2 370.6l0.3 0.6M359.5 373.1l-1.6 0.5M358.8 376.6l-1.3 2.8M375.3 305.5l-3.2 0.4M374.2 297.7l0.0 0.1M598.4 291.4l-0.4 1.3M601.2 320.2l0.5 1.8M597.9 312.8l-0.1 0.1M603.6 315.4l0.5 2.4M591.5 330.0l-0.2 1.1M593.6 353.8l0.1 0.1M590.3 330.6l-1.0 1.2" stroke="#303a6e" stroke-width="3.5" stroke-linecap="round" fill="none" stroke-opacity="0.75"/>
<path d="M359.7 212.7l-2.1 0.6M363.3 233.8l0.4 0.8M376.5 183.3l0.7 1.8M362.2 225.4l0.9 2.0M374.1 215.3l-1.4 0.8M356.5 249.3l1.5 0.2M367.2 175.6l0.2 1.0M379.7 221.2l-1.4 1.1M373.7 180.3l2.1 1.6M365.4 282.6l-0.6 0.3M383.7 184.6l-1.1 1.3M385.3 251.8l-0.5 0.2M353.3 265.4l-0.6 0.5M364.8 279.3l2.6 0.1M387.8 176.9l-0.6 0.3M375.4 219.4l-0.0 0.3M365.1 155.0l-0.8 2.9M359.9 287.9l0.5 1.3M390.6 157.9l0.2 0.3M355.7 177.0l-2.4 1.8M375.2 258.2l1.3 1.0M364.3 160.7l-0.1 0.7M367.3 261.6l-2.4 0.6M405.2 155.0l-1.0 0.4M395.1 167.9l0.9 2.4M360.2 211.5l-0.6 1.6M376.5 200.0l-0.9 2.7M383.0 240.8l0.7 1.5M362.7 246.6l-0.6 0.5M383.9 225.9l0.0 2.4M368.6 258.5l-0.2 0.4M374.6 182.9l0.5 2.4M372.8 276.0l0.9 0.0M352.2 219.0l1.3 2.3M383.5 216.6l-1.1 2.4M361.9 247.1l-0.0 0.4M378.7 156.3l-0.0 0.0M389.6 155.6l-2.1 2.1M370.5 219.8l0.6 0.0M355.5 172.5l-1.2 0.7M393.8 183.5l-1.5 0.7M366.7 277.2l-0.4 0.1M362.3 200.3l0.9 1.3M366.6 274.9l-0.4 1.1M364.3 158.8l0.3 0.3M367.5 154.4l-0.1 0.2M376.7 228.5l-1.5 0.6M372.0 174.9l-0.7 0.3M370.8 227.8l-1.0 1.7M455.1 166.7l-1.5 1.4M453.9 166.2l1.3 0.7M497.8 299.0l0.1 2.8M497.6 267.3l-0.1 0.6M482.5 311.3l1.5 0.2M446.4 365.1l0.2 0.1M475.4 365.6l-1.0 2.7M456.0 374.1l0.2 0.1M449.8 367.4l-2.4 2.0M373.2 380.7l0.5 1.1M388.3 307.9l-0.1 0.0M372.9 292.9l-1.1 0.1M592.3 333.3l-0.4 0.0M580.4 335.3l-0.4 1.4M597.7 356.6l-1.3 0.8M589.2 351.4l3.0 0.3" stroke="#303a6e" stroke-width="2.0" stroke-linecap="round" fill="none" stroke-opacity="0.75"/>
<path d="M363.5 174.3l0.4 2.2M382.0 164.8l-0.8 0.1M370.2 201.4l-0.2 0.0M360.8 233.2l1.3 0.5M371.1 251.7l-0.0 0.0M377.6 219.3l0.9 0.3M370.8 283.6l-1.0 0.9M365.0 242.2l-2.4 0.5M375.1 286.7l0.5 1.0M369.4 269.3l2.2 0.4M385.3 164.0l-1.0 0.2M382.8 265.6l-2.7 0.7M372.8 240.7l0.4 1.4M372.8 204.1l1.8 1.3M409.2 157.2l-1.3 0.3M374.8 155.7l-0.7 1.7M360.2 252.3l0.6 2.5M380.8 174.9l-0.9 0.7M357.1 191.2l0.4 0.8M379.1 217.1l-0.2 0.2M386.5 186.8l-0.5 2.1M379.9 163.5l-0.7 1.2M384.0 162.5l0.0 0.5M362.7 211.7l-0.2 0.1M366.6 184.3l2.1 1.1M352.4 193.5l2.3 1.7M375.8 182.4l-0.3 0.3M371.7 178.4l-1.4 1.9M401.1 154.3l-2.5 1.4M401.8 166.9l1.4 1.0M374.8 284.5l-0.5 0.1M383.0 169.2l-0.3 3.0M379.3 212.8l-0.4 0.4M371.6 266.5l-2.0 1.0M372.3 216.0l-1.6 0.3M356.4 279.8l0.2 0.2M356.2 180.7l-1.4 1.3M366.5 243.5l2.4 0.4M380.1 260.0l-1.6 0.6M361.8 253.1l-0.7 2.2M354.3 188.6l-0.1 0.5M384.4 216.8l0.2 0.6M359.1 245.7l1.7 2.2M356.1 240.2l-0.8 2.3M382.7 223.4l-0.8 2.3M357.4 216.4l-0.2 0.0M368.0 241.9l0.1 0.1M407.6 157.5l0.0 0.7M367.5 257.1l2.2 2.3M369.7 240.9l0.5 0.2M387.4 192.9l-0.6 3.1M361.9 209.7l0.3 0.5M360.8 229.0l-0.3 2.9M375.8 199.6l-2.9 0.4M355.1 262.3l-0.3 3.0M365.7 244.9l2.3 0.1M367.0 207.5l-0.4 3.0M376.7 242.6l-0.0 0.2M382.2 225.2l1.5 2.4M367.0 240.8l-0.9 1.2M357.0 239.9l2.5 1.1M374.7 244.2l0.9 0.2M362.6 188.5l1.8 0.1M387.8 243.4l-2.9 1.0M379.6 188.6l-0.6 0.6M353.3 183.9l0.0 0.1M372.7 287.4l2.2 0.4M372.7 188.1l0.2 0.0M377.7 232.1l0.3 0.8M380.0 269.4l0.7 0.1M363.0 277.7l-1.1 0.3M356.8 177.5l0.3 0.2M379.0 228.2l-0.9 2.0M373.8 224.9l-0.1 0.4M353.3 289.6l1.0 0.0M371.5 223.0l0.8 2.4M355.2 167.9l0.2 0.2M365.9 242.6l0.9 1.1M365.6 181.5l0.4 1.0M405.2 159.0l0.1 0.5M384.7 188.0l-0.9 0.8M370.5 187.3l-0.0 2.4M366.0 206.4l0.4 0.2M379.1 199.6l-0.1 0.0M386.1 188.5l2.3 0.6M453.6 165.4l1.4 2.6M455.8 164.9l-2.9 0.6M487.2 299.1l-0.2 0.7M482.7 287.3l1.6 1.1M488.6 305.1l0.8 0.3M468.3 284.1l-2.0 1.8M493.2 274.7l0.1 0.4M475.0 297.0l1.3 0.6M469.7 278.7l1.2 1.3M498.7 287.4l2.8 0.8M466.2 289.5l0.0 0.2M464.5 285.7l0.7 1.6M469.9 290.3l-2.6 1.7M493.8 276.4l1.8 1.2M499.0 273.9l2.7 1.0M464.1 282.4l0.4 0.9M505.8 266.7l1.1 0.1M467.1 282.2l-1.9 0.2M498.6 290.9l2.9 0.8M497.5 271.1l2.0 0.7M471.7 365.1l1.1 0.4M457.6 356.2l0.0 0.2M474.1 363.8l0.0 0.1M471.8 362.2l-1.1 0.3M474.3 375.9l1.3 1.1M468.1 355.2l-2.9 0.0M450.9 359.3l1.1 0.9M465.2 367.8l-0.9 2.9M464.8 378.0l-0.2 1.0M352.9 380.5l1.3 0.6M353.4 363.4l0.1 0.0M361.8 378.8l0.9 0.8M361.0 371.8l-2.4 0.1M353.8 379.9l1.0 0.3M357.6 369.7l1.2 0.9M364.6 381.6l0.3 0.1M383.9 320.7l-1.3 1.2M383.4 315.0l-0.9 0.1M604.2 309.6l1.8 1.9M594.7 297.5l-0.8 0.1M604.2 316.6l-1.0 2.9M595.7 330.4l-0.4 0.2M530.6 169.4l0.1 1.0M531.3 188.3l-1.8 1.6M585.6 332.6l0.1 0.1M594.4 359.2l-2.5 1.2M591.3 324.3l2.1 0.8M573.4 199.6l3.0 0.8M547.5 190.8l3.0 0.8M575.8 199.1l3.0 0.8M585.4 200.7l3.0 0.8M568.5 194.0l3.0 0.8M569.3 193.5l3.0 0.8M563.4 194.4l3.0 0.8M599.2 198.9l3.0 0.8M616.2 205.6l3.0 0.8M616.0 205.9l3.0 0.8M639.3 209.1l3.0 0.8M653.0 213.6l3.0 0.8M654.7 213.7l3.0 0.8M600.1 204.0l3.0 0.8M628.2 205.7l3.0 0.8M608.5 203.0l3.0 0.8M387.2 160.9l3.0 0.8M374.3 168.4l3.0 0.8M400.2 159.8l3.0 0.8M372.6 171.2l3.0 0.8M394.8 156.8l3.0 0.8M363.0 172.8l3.0 0.8M385.4 166.1l3.0 0.8M379.7 167.9l3.0 0.8M644.6 184.7l3.0 0.8M651.8 195.0l3.0 0.8M646.1 185.0l3.0 0.8M641.7 176.4l3.0 0.8M646.0 182.7l3.0 0.8M639.6 172.8l3.0 0.8M647.6 186.8l3.0 0.8M644.3 184.3l3.0 0.8" stroke="#303a6e" stroke-width="2.5" stroke-linecap="round" fill="none" stroke-opacity="0.75"/>
<polygon points="432.6,173.7 434.8,176.8 422.0,194.7 411.0,203.2 408.4,200.6 417.8,186.2 428.8,174.3" fill="#7c4a22" stroke="#7c4a22" stroke-width="30.6" stroke-linejoin="round"/>
<polygon points="444.0,216.5 443.8,217.4 443.4,218.2 442.7,218.9 441.9,219.3 441.0,219.5 440.1,219.3 439.3,218.9 438.6,218.2 438.2,217.4 438.0,216.5 438.2,215.6 438.6,214.8 439.3,214.1 440.1,213.7 441.0,213.5 441.9,213.7 442.7,214.1 443.4,214.8 443.8,215.6" fill="#7c4a22" stroke="#7c4a22" stroke-width="13.0" stroke-linejoin="round"/>
<polygon points="420.2,234.0 420.0,235.1 419.4,236.0 418.5,236.8 417.3,237.2 416.0,237.4 414.7,237.2 413.5,236.8 412.6,236.0 412.0,235.1 411.8,234.0 412.0,232.9 412.6,232.0 413.5,231.2 414.7,230.8 416.0,230.6 417.3,230.8 418.5,231.2 419.4,232.0 420.0,232.9" fill="#7c4a22" stroke="#7c4a22" stroke-width="15.200000000000001" stroke-linejoin="round"/>
<polygon points="410.4,242.1 419.8,236.1 426.6,238.7 423.2,246.3 413.0,249.7" fill="#7c4a22" stroke="#7c4a22" stroke-width="19.6" stroke-linejoin="round"/>
<polygon points="474.0,226.0 468.0,240.0 471.7,259.0 450.0,258.0 429.0,254.0 440.0,242.0 458.0,232.0" fill="#7c4a22" stroke="#7c4a22" stroke-width="26.200000000000003" stroke-linejoin="round"/>
<polygon points="467.1,218.0 467.0,218.7 466.7,219.2 466.2,219.7 465.7,220.0 465.0,220.1 464.3,220.0 463.8,219.7 463.3,219.2 463.0,218.7 462.9,218.0 463.0,217.3 463.3,216.8 463.8,216.3 464.3,216.0 465.0,215.9 465.7,216.0 466.2,216.3 466.7,216.8 467.0,217.3" fill="#7c4a22" stroke="#7c4a22" stroke-width="10.8" stroke-linejoin="round"/>
<polygon points="517.6,200.0 517.4,201.8 517.0,203.5 516.3,204.8 515.5,205.7 514.6,205.9 513.7,205.7 512.9,204.8 512.2,203.5 511.8,201.8 511.6,200.0 511.8,198.2 512.2,196.5 512.9,195.2 513.7,194.3 514.6,194.1 515.5,194.3 516.3,195.2 517.0,196.5 517.4,198.2" fill="#7c4a22" stroke="#7c4a22" stroke-width="24.0" stroke-linejoin="round"/>
<polygon points="516.2,171.0 516.0,172.3 515.4,173.5 514.5,174.4 513.3,175.0 512.0,175.2 510.7,175.0 509.5,174.4 508.6,173.5 508.0,172.3 507.8,171.0 508.0,169.7 508.6,168.5 509.5,167.6 510.7,167.0 512.0,166.8 513.3,167.0 514.5,167.6 515.4,168.5 516.0,169.7" fill="#7c4a22" stroke="#7c4a22" stroke-width="17.400000000000002" stroke-linejoin="round"/>
<polygon points="568.6,171.3 568.3,172.6 567.2,173.8 565.5,174.7 563.4,175.3 561.0,175.6 558.6,175.3 556.5,174.7 554.8,173.8 553.7,172.6 553.4,171.3 553.7,170.0 554.8,168.8 556.5,167.9 558.6,167.3 561.0,167.1 563.4,167.3 565.5,167.9 567.2,168.8 568.3,170.0" fill="#7c4a22" stroke="#7c4a22" stroke-width="26.200000000000003" stroke-linejoin="round"/>
<polygon points="549.3,184.6 565.1,181.2 583.3,184.6 582.1,191.3 562.5,193.1 550.6,191.3" fill="#7c4a22" stroke="#7c4a22" stroke-width="17.400000000000002" stroke-linejoin="round"/>
<polygon points="597.0,174.0 623.7,170.0 637.0,164.6 656.0,159.3 656.0,180.6 643.6,178.0 623.7,178.0 599.7,180.6" fill="#7c4a22" stroke="#7c4a22" stroke-width="24.0" stroke-linejoin="round"/>
<polygon points="542.8,216.5 542.5,217.9 541.5,219.2 540.0,220.3 538.1,220.9 536.0,221.2 533.9,220.9 532.0,220.3 530.5,219.2 529.5,217.9 529.2,216.5 529.5,215.1 530.5,213.8 532.0,212.7 533.9,212.1 536.0,211.8 538.1,212.1 540.0,212.7 541.5,213.8 542.5,215.1" fill="#7c4a22" stroke="#7c4a22" stroke-width="19.6" stroke-linejoin="round"/>
<polygon points="569.3,214.5 569.0,216.3 568.0,218.0 566.5,219.3 564.6,220.2 562.5,220.4 560.4,220.2 558.5,219.3 557.0,218.0 556.0,216.3 555.7,214.5 556.0,212.7 557.0,211.0 558.5,209.7 560.4,208.8 562.5,208.6 564.6,208.8 566.5,209.7 568.0,211.0 569.0,212.7" fill="#7c4a22" stroke="#7c4a22" stroke-width="19.6" stroke-linejoin="round"/>
<polygon points="563.8,255.0 578.5,228.5 597.0,212.5 605.0,216.5 637.0,233.8 643.6,244.4 630.3,255.0 630.3,268.0 621.0,257.7 597.0,247.0 573.0,259.0" fill="#7c4a22" stroke="#7c4a22" stroke-width="21.8" stroke-linejoin="round"/>
<polygon points="549.2,238.0 549.0,239.1 548.4,240.0 547.5,240.8 546.3,241.2 545.0,241.4 543.7,241.2 542.5,240.8 541.6,240.0 541.0,239.1 540.8,238.0 541.0,236.9 541.6,236.0 542.5,235.2 543.7,234.8 545.0,234.6 546.3,234.8 547.5,235.2 548.4,236.0 549.0,236.9" fill="#7c4a22" stroke="#7c4a22" stroke-width="10.8" stroke-linejoin="round"/>
<polygon points="358.3,309.7 360.6,302.3 369.6,299.5 367.4,305.7" fill="#7c4a22" stroke="#7c4a22" stroke-width="24.0" stroke-linejoin="round"/>
<polygon points="399.2,272.5 399.0,273.4 398.4,274.2 397.5,274.9 396.3,275.3 395.0,275.5 393.7,275.3 392.5,274.9 391.6,274.2 391.0,273.4 390.8,272.5 391.0,271.6 391.6,270.8 392.5,270.1 393.7,269.7 395.0,269.5 396.3,269.7 397.5,270.1 398.4,270.8 399.0,271.6" fill="#7c4a22" stroke="#7c4a22" stroke-width="17.400000000000002" stroke-linejoin="round"/>
<polygon points="421.5,270.7 421.3,271.8 420.4,272.9 418.9,273.9 416.9,274.8 414.6,275.3 412.2,275.6 410.0,275.5 408.3,275.0 407.0,274.3 406.5,273.3 406.7,272.2 407.6,271.1 409.1,270.1 411.1,269.2 413.4,268.7 415.8,268.4 418.0,268.5 419.7,269.0 421.0,269.7" fill="#7c4a22" stroke="#7c4a22" stroke-width="17.400000000000002" stroke-linejoin="round"/>
<polygon points="450.9,282.3 450.4,283.9 448.9,285.4 446.3,286.8 443.1,287.8 439.4,288.4 435.8,288.5 432.4,288.0 429.7,287.1 427.9,285.9 427.1,284.3 427.6,282.7 429.1,281.2 431.7,279.8 434.9,278.8 438.6,278.2 442.2,278.1 445.6,278.6 448.3,279.5 450.1,280.7" fill="#7c4a22" stroke="#7c4a22" stroke-width="24.0" stroke-linejoin="round"/>
<polygon points="431.4,298.5 431.2,299.2 430.8,299.7 430.0,300.2 429.1,300.5 428.0,300.6 426.9,300.5 426.0,300.2 425.2,299.7 424.8,299.2 424.6,298.5 424.8,297.8 425.2,297.3 426.0,296.8 426.9,296.5 428.0,296.4 429.1,296.5 430.0,296.8 430.8,297.3 431.2,297.8" fill="#7c4a22" stroke="#7c4a22" stroke-width="10.8" stroke-linejoin="round"/>
<polygon points="390.6,323.9 402.5,310.6 418.5,313.2 437.0,308.0 461.0,308.0 469.0,318.5 465.0,330.5 445.0,342.5 426.5,353.0 418.5,350.4 407.8,337.0 392.0,331.8" fill="#7c4a22" stroke="#7c4a22" stroke-width="26.200000000000003" stroke-linejoin="round"/>
<polygon points="394.4,346.5 394.2,349.9 393.3,353.0 392.0,355.4 390.3,357.0 388.5,357.6 386.7,357.0 385.0,355.4 383.7,353.0 382.8,349.9 382.6,346.5 382.8,343.1 383.7,340.0 385.0,337.6 386.7,336.0 388.5,335.4 390.3,336.0 392.0,337.6 393.3,340.0 394.2,343.1" fill="#7c4a22" stroke="#7c4a22" stroke-width="24.0" stroke-linejoin="round"/>
<polygon points="361.8,350.4 361.6,353.2 361.1,355.6 360.2,357.6 359.2,358.9 358.0,359.3 356.8,358.9 355.8,357.6 354.9,355.6 354.4,353.2 354.2,350.4 354.4,347.6 354.9,345.2 355.8,343.2 356.8,341.9 358.0,341.5 359.2,341.9 360.2,343.2 361.1,345.2 361.6,347.6" fill="#7c4a22" stroke="#7c4a22" stroke-width="19.6" stroke-linejoin="round"/>
<polygon points="491.8,341.7 491.5,343.9 490.9,345.9 490.0,347.5 488.8,348.6 487.5,348.9 486.2,348.6 485.0,347.5 484.1,345.9 483.5,343.9 483.2,341.7 483.5,339.5 484.1,337.5 485.0,335.9 486.2,334.8 487.5,334.5 488.8,334.8 490.0,335.9 490.9,337.5 491.5,339.5" fill="#7c4a22" stroke="#7c4a22" stroke-width="17.400000000000002" stroke-linejoin="round"/>
<polygon points="502.1,356.0 501.9,357.8 501.1,359.5 500.0,360.8 498.6,361.7 497.0,361.9 495.4,361.7 494.0,360.8 492.9,359.5 492.1,357.8 491.9,356.0 492.1,354.2 492.9,352.5 494.0,351.2 495.4,350.3 497.0,350.1 498.6,350.3 500.0,351.2 501.1,352.5 501.9,354.2" fill="#7c4a22" stroke="#7c4a22" stroke-width="17.400000000000002" stroke-linejoin="round"/>
<polygon points="503.4,293.0 503.2,296.2 502.8,299.0 502.0,301.3 501.1,302.7 500.0,303.2 498.9,302.7 498.0,301.3 497.2,299.0 496.8,296.2 496.6,293.0 496.8,289.8 497.2,287.0 498.0,284.7 498.9,283.3 500.0,282.8 501.1,283.3 502.0,284.7 502.8,287.0 503.2,289.8" fill="#7c4a22" stroke="#7c4a22" stroke-width="17.400000000000002" stroke-linejoin="round"/>
<polygon points="507.6,285.7 520.1,281.4 538.1,283.1 535.4,295.0 515.9,297.2 507.6,295.0" fill="#7c4a22" stroke="#7c4a22" stroke-width="21.8" stroke-linejoin="round"/>
<polygon points="547.6,305.1 564.5,297.2 577.0,284.7 584.9,287.0 583.7,294.9 570.2,301.7 551.0,306.2" fill="#7c4a22" stroke="#7c4a22" stroke-width="21.8" stroke-linejoin="round"/>
<polygon points="620.1,289.3 619.9,290.7 619.1,291.9 618.0,292.9 616.6,293.6 615.0,293.8 613.4,293.6 612.0,292.9 610.9,291.9 610.1,290.7 609.9,289.3 610.1,287.9 610.9,286.7 612.0,285.7 613.4,285.0 615.0,284.8 616.6,285.0 618.0,285.7 619.1,286.7 619.9,287.9" fill="#7c4a22" stroke="#7c4a22" stroke-width="19.6" stroke-linejoin="round"/>
<polygon points="581.9,320.5 581.7,321.4 581.3,322.2 580.5,322.9 579.6,323.3 578.5,323.5 577.4,323.3 576.5,322.9 575.7,322.2 575.3,321.4 575.1,320.5 575.3,319.6 575.7,318.8 576.5,318.1 577.4,317.7 578.5,317.5 579.6,317.7 580.5,318.1 581.3,318.8 581.7,319.6" fill="#7c4a22" stroke="#7c4a22" stroke-width="15.200000000000001" stroke-linejoin="round"/>
<polygon points="504.0,331.8 530.6,325.2 563.8,327.8 574.5,334.5 570.5,342.5 557.2,338.5 543.9,331.8 530.6,342.5 512.0,347.8 504.0,346.5" fill="#7c4a22" stroke="#7c4a22" stroke-width="15.200000000000001" stroke-linejoin="round"/>
<polygon points="514.6,382.0 530.6,363.7 570.5,359.8 589.0,353.0 602.4,361.0 631.7,369.0 656.0,373.0 656.0,382.0" fill="#7c4a22" stroke="#7c4a22" stroke-width="13.0" stroke-linejoin="round"/>
<polygon points="626.5,340.5 625.9,344.4 624.3,348.0 621.7,350.8 618.5,352.6 615.0,353.2 611.5,352.6 608.3,350.8 605.7,348.0 604.1,344.4 603.5,340.5 604.1,336.6 605.7,333.0 608.3,330.2 611.5,328.4 615.0,327.8 618.5,328.4 621.7,330.2 624.3,333.0 625.9,336.6" fill="#7c4a22" stroke="#7c4a22" stroke-width="13.0" stroke-linejoin="round"/>
<polygon points="658.0,318.5 657.6,322.2 656.5,325.6 654.7,328.2 652.5,329.9 650.0,330.5 647.5,329.9 645.3,328.2 643.5,325.6 642.4,322.2 642.0,318.5 642.4,314.8 643.5,311.4 645.3,308.8 647.5,307.1 650.0,306.5 652.5,307.1 654.7,308.8 656.5,311.4 657.6,314.8" fill="#7c4a22" stroke="#7c4a22" stroke-width="15.200000000000001" stroke-linejoin="round"/>
<polygon points="658.0,354.5 657.6,356.5 656.5,358.3 654.7,359.8 652.5,360.7 650.0,361.0 647.5,360.7 645.3,359.8 643.5,358.3 642.4,356.5 642.0,354.5 642.4,352.5 643.5,350.7 645.3,349.2 647.5,348.3 650.0,348.0 652.5,348.3 654.7,349.2 656.5,350.7 657.6,352.5" fill="#7c4a22" stroke="#7c4a22" stroke-width="15.200000000000001" stroke-linejoin="round"/>
<polygon points="657.0,274.0 656.6,276.2 655.3,278.1 653.3,279.7 650.8,280.7 648.0,281.0 645.2,280.7 642.7,279.7 640.7,278.1 639.4,276.2 639.0,274.0 639.4,271.8 640.7,269.9 642.7,268.3 645.2,267.3 648.0,267.0 650.8,267.3 653.3,268.3 655.3,269.9 656.6,271.8" fill="#7c4a22" stroke="#7c4a22" stroke-width="15.200000000000001" stroke-linejoin="round"/>
<polygon points="652.4,286.0 652.2,286.9 651.8,287.7 651.0,288.4 650.1,288.8 649.0,289.0 647.9,288.8 647.0,288.4 646.2,287.7 645.8,286.9 645.6,286.0 645.8,285.1 646.2,284.3 647.0,283.6 647.9,283.2 649.0,283.0 650.1,283.2 651.0,283.6 651.8,284.3 652.2,285.1" fill="#7c4a22" stroke="#7c4a22" stroke-width="10.8" stroke-linejoin="round"/>
<polygon points="482.8,276.0 482.5,277.8 481.5,279.5 480.0,280.8 478.1,281.7 476.0,281.9 473.9,281.7 472.0,280.8 470.5,279.5 469.5,277.8 469.2,276.0 469.5,274.2 470.5,272.5 472.0,271.2 473.9,270.3 476.0,270.1 478.1,270.3 480.0,271.2 481.5,272.5 482.5,274.2" fill="#7c4a22" stroke="#7c4a22" stroke-width="8.600000000000001" stroke-linejoin="round"/>
<polygon points="432.6,173.7 434.8,176.8 422.0,194.7 411.0,203.2 408.4,200.6 417.8,186.2 428.8,174.3" fill="#9a5e2a" stroke="#9a5e2a" stroke-width="18.4" stroke-linejoin="round"/>
<polygon points="444.0,216.5 443.8,217.4 443.4,218.2 442.7,218.9 441.9,219.3 441.0,219.5 440.1,219.3 439.3,218.9 438.6,218.2 438.2,217.4 438.0,216.5 438.2,215.6 438.6,214.8 439.3,214.1 440.1,213.7 441.0,213.5 441.9,213.7 442.7,214.1 443.4,214.8 443.8,215.6" fill="#9a5e2a" stroke="#9a5e2a" stroke-width="7.8" stroke-linejoin="round"/>
<polygon points="420.2,234.0 420.0,235.1 419.4,236.0 418.5,236.8 417.3,237.2 416.0,237.4 414.7,237.2 413.5,236.8 412.6,236.0 412.0,235.1 411.8,234.0 412.0,232.9 412.6,232.0 413.5,231.2 414.7,230.8 416.0,230.6 417.3,230.8 418.5,231.2 419.4,232.0 420.0,232.9" fill="#9a5e2a" stroke="#9a5e2a" stroke-width="9.1" stroke-linejoin="round"/>
<polygon points="410.4,242.1 419.8,236.1 426.6,238.7 423.2,246.3 413.0,249.7" fill="#9a5e2a" stroke="#9a5e2a" stroke-width="11.8" stroke-linejoin="round"/>
<polygon points="474.0,226.0 468.0,240.0 471.7,259.0 450.0,258.0 429.0,254.0 440.0,242.0 458.0,232.0" fill="#9a5e2a" stroke="#9a5e2a" stroke-width="15.7" stroke-linejoin="round"/>
<polygon points="467.1,218.0 467.0,218.7 466.7,219.2 466.2,219.7 465.7,220.0 465.0,220.1 464.3,220.0 463.8,219.7 463.3,219.2 463.0,218.7 462.9,218.0 463.0,217.3 463.3,216.8 463.8,216.3 464.3,216.0 465.0,215.9 465.7,216.0 466.2,216.3 466.7,216.8 467.0,217.3" fill="#9a5e2a" stroke="#9a5e2a" stroke-width="6.5" stroke-linejoin="round"/>
<polygon points="517.6,200.0 517.4,201.8 517.0,203.5 516.3,204.8 515.5,205.7 514.6,205.9 513.7,205.7 512.9,204.8 512.2,203.5 511.8,201.8 511.6,200.0 511.8,198.2 512.2,196.5 512.9,195.2 513.7,194.3 514.6,194.1 515.5,194.3 516.3,195.2 517.0,196.5 517.4,198.2" fill="#9a5e2a" stroke="#9a5e2a" stroke-width="14.4" stroke-linejoin="round"/>
<polygon points="516.2,171.0 516.0,172.3 515.4,173.5 514.5,174.4 513.3,175.0 512.0,175.2 510.7,175.0 509.5,174.4 508.6,173.5 508.0,172.3 507.8,171.0 508.0,169.7 508.6,168.5 509.5,167.6 510.7,167.0 512.0,166.8 513.3,167.0 514.5,167.6 515.4,168.5 516.0,169.7" fill="#9a5e2a" stroke="#9a5e2a" stroke-width="10.4" stroke-linejoin="round"/>
<polygon points="568.6,171.3 568.3,172.6 567.2,173.8 565.5,174.7 563.4,175.3 561.0,175.6 558.6,175.3 556.5,174.7 554.8,173.8 553.7,172.6 553.4,171.3 553.7,170.0 554.8,168.8 556.5,167.9 558.6,167.3 561.0,167.1 563.4,167.3 565.5,167.9 567.2,168.8 568.3,170.0" fill="#9a5e2a" stroke="#9a5e2a" stroke-width="15.7" stroke-linejoin="round"/>
<polygon points="549.3,184.6 565.1,181.2 583.3,184.6 582.1,191.3 562.5,193.1 550.6,191.3" fill="#9a5e2a" stroke="#9a5e2a" stroke-width="10.4" stroke-linejoin="round"/>
<polygon points="597.0,174.0 623.7,170.0 637.0,164.6 656.0,159.3 656.0,180.6 643.6,178.0 623.7,178.0 599.7,180.6" fill="#9a5e2a" stroke="#9a5e2a" stroke-width="14.4" stroke-linejoin="round"/>
<polygon points="542.8,216.5 542.5,217.9 541.5,219.2 540.0,220.3 538.1,220.9 536.0,221.2 533.9,220.9 532.0,220.3 530.5,219.2 529.5,217.9 529.2,216.5 529.5,215.1 530.5,213.8 532.0,212.7 533.9,212.1 536.0,211.8 538.1,212.1 540.0,212.7 541.5,213.8 542.5,215.1" fill="#9a5e2a" stroke="#9a5e2a" stroke-width="11.8" stroke-linejoin="round"/>
<polygon points="569.3,214.5 569.0,216.3 568.0,218.0 566.5,219.3 564.6,220.2 562.5,220.4 560.4,220.2 558.5,219.3 557.0,218.0 556.0,216.3 555.7,214.5 556.0,212.7 557.0,211.0 558.5,209.7 560.4,208.8 562.5,208.6 564.6,208.8 566.5,209.7 568.0,211.0 569.0,212.7" fill="#9a5e2a" stroke="#9a5e2a" stroke-width="11.8" stroke-linejoin="round"/>
<polygon points="563.8,255.0 578.5,228.5 597.0,212.5 605.0,216.5 637.0,233.8 643.6,244.4 630.3,255.0 630.3,268.0 621.0,257.7 597.0,247.0 573.0,259.0" fill="#9a5e2a" stroke="#9a5e2a" stroke-width="13.1" stroke-linejoin="round"/>
<polygon points="549.2,238.0 549.0,239.1 548.4,240.0 547.5,240.8 546.3,241.2 545.0,241.4 543.7,241.2 542.5,240.8 541.6,240.0 541.0,239.1 540.8,238.0 541.0,236.9 541.6,236.0 542.5,235.2 543.7,234.8 545.0,234.6 546.3,234.8 547.5,235.2 548.4,236.0 549.0,236.9" fill="#9a5e2a" stroke="#9a5e2a" stroke-width="6.5" stroke-linejoin="round"/>
<polygon points="358.3,309.7 360.6,302.3 369.6,299.5 367.4,305.7" fill="#9a5e2a" stroke="#9a5e2a" stroke-width="14.4" stroke-linejoin="round"/>
<polygon points="399.2,272.5 399.0,273.4 398.4,274.2 397.5,274.9 396.3,275.3 395.0,275.5 393.7,275.3 392.5,274.9 391.6,274.2 391.0,273.4 390.8,272.5 391.0,271.6 391.6,270.8 392.5,270.1 393.7,269.7 395.0,269.5 396.3,269.7 397.5,270.1 398.4,270.8 399.0,271.6" fill="#9a5e2a" stroke="#9a5e2a" stroke-width="10.4" stroke-linejoin="round"/>
<polygon points="421.5,270.7 421.3,271.8 420.4,272.9 418.9,273.9 416.9,274.8 414.6,275.3 412.2,275.6 410.0,275.5 408.3,275.0 407.0,274.3 406.5,273.3 406.7,272.2 407.6,271.1 409.1,270.1 411.1,269.2 413.4,268.7 415.8,268.4 418.0,268.5 419.7,269.0 421.0,269.7" fill="#9a5e2a" stroke="#9a5e2a" stroke-width="10.4" stroke-linejoin="round"/>
<polygon points="450.9,282.3 450.4,283.9 448.9,285.4 446.3,286.8 443.1,287.8 439.4,288.4 435.8,288.5 432.4,288.0 429.7,287.1 427.9,285.9 427.1,284.3 427.6,282.7 429.1,281.2 431.7,279.8 434.9,278.8 438.6,278.2 442.2,278.1 445.6,278.6 448.3,279.5 450.1,280.7" fill="#9a5e2a" stroke="#9a5e2a" stroke-width="14.4" stroke-linejoin="round"/>
<polygon points="431.4,298.5 431.2,299.2 430.8,299.7 430.0,300.2 429.1,300.5 428.0,300.6 426.9,300.5 426.0,300.2 425.2,299.7 424.8,299.2 424.6,298.5 424.8,297.8 425.2,297.3 426.0,296.8 426.9,296.5 428.0,296.4 429.1,296.5 430.0,296.8 430.8,297.3 431.2,297.8" fill="#9a5e2a" stroke="#9a5e2a" stroke-width="6.5" stroke-linejoin="round"/>
<polygon points="390.6,323.9 402.5,310.6 418.5,313.2 437.0,308.0 461.0,308.0 469.0,318.5 465.0,330.5 445.0,342.5 426.5,353.0 418.5,350.4 407.8,337.0 392.0,331.8" fill="#9a5e2a" stroke="#9a5e2a" stroke-width="15.7" stroke-linejoin="round"/>
<polygon points="394.4,346.5 394.2,349.9 393.3,353.0 392.0,355.4 390.3,357.0 388.5,357.6 386.7,357.0 385.0,355.4 383.7,353.0 382.8,349.9 382.6,346.5 382.8,343.1 383.7,340.0 385.0,337.6 386.7,336.0 388.5,335.4 390.3,336.0 392.0,337.6 393.3,340.0 394.2,343.1" fill="#9a5e2a" stroke="#9a5e2a" stroke-width="14.4" stroke-linejoin="round"/>
<polygon points="361.8,350.4 361.6,353.2 361.1,355.6 360.2,357.6 359.2,358.9 358.0,359.3 356.8,358.9 355.8,357.6 354.9,355.6 354.4,353.2 354.2,350.4 354.4,347.6 354.9,345.2 355.8,343.2 356.8,341.9 358.0,341.5 359.2,341.9 360.2,343.2 361.1,345.2 361.6,347.6" fill="#9a5e2a" stroke="#9a5e2a" stroke-width="11.8" stroke-linejoin="round"/>
<polygon points="491.8,341.7 491.5,343.9 490.9,345.9 490.0,347.5 488.8,348.6 487.5,348.9 486.2,348.6 485.0,347.5 484.1,345.9 483.5,343.9 483.2,341.7 483.5,339.5 484.1,337.5 485.0,335.9 486.2,334.8 487.5,334.5 488.8,334.8 490.0,335.9 490.9,337.5 491.5,339.5" fill="#9a5e2a" stroke="#9a5e2a" stroke-width="10.4" stroke-linejoin="round"/>
<polygon points="502.1,356.0 501.9,357.8 501.1,359.5 500.0,360.8 498.6,361.7 497.0,361.9 495.4,361.7 494.0,360.8 492.9,359.5 492.1,357.8 491.9,356.0 492.1,354.2 492.9,352.5 494.0,351.2 495.4,350.3 497.0,350.1 498.6,350.3 500.0,351.2 501.1,352.5 501.9,354.2" fill="#9a5e2a" stroke="#9a5e2a" stroke-width="10.4" stroke-linejoin="round"/>
<polygon points="503.4,293.0 503.2,296.2 502.8,299.0 502.0,301.3 501.1,302.7 500.0,303.2 498.9,302.7 498.0,301.3 497.2,299.0 496.8,296.2 496.6,293.0 496.8,289.8 497.2,287.0 498.0,284.7 498.9,283.3 500.0,282.8 501.1,283.3 502.0,284.7 502.8,287.0 503.2,289.8" fill="#9a5e2a" stroke="#9a5e2a" stroke-width="10.4" stroke-linejoin="round"/>
<polygon points="507.6,285.7 520.1,281.4 538.1,283.1 535.4,295.0 515.9,297.2 507.6,295.0" fill="#9a5e2a" stroke="#9a5e2a" stroke-width="13.1" stroke-linejoin="round"/>
<polygon points="547.6,305.1 564.5,297.2 577.0,284.7 584.9,287.0 583.7,294.9 570.2,301.7 551.0,306.2" fill="#9a5e2a" stroke="#9a5e2a" stroke-width="13.1" stroke-linejoin="round"/>
<polygon points="620.1,289.3 619.9,290.7 619.1,291.9 618.0,292.9 616.6,293.6 615.0,293.8 613.4,293.6 612.0,292.9 610.9,291.9 610.1,290.7 609.9,289.3 610.1,287.9 610.9,286.7 612.0,285.7 613.4,285.0 615.0,284.8 616.6,285.0 618.0,285.7 619.1,286.7 619.9,287.9" fill="#9a5e2a" stroke="#9a5e2a" stroke-width="11.8" stroke-linejoin="round"/>
<polygon points="581.9,320.5 581.7,321.4 581.3,322.2 580.5,322.9 579.6,323.3 578.5,323.5 577.4,323.3 576.5,322.9 575.7,322.2 575.3,321.4 575.1,320.5 575.3,319.6 575.7,318.8 576.5,318.1 577.4,317.7 578.5,317.5 579.6,317.7 580.5,318.1 581.3,318.8 581.7,319.6" fill="#9a5e2a" stroke="#9a5e2a" stroke-width="9.1" stroke-linejoin="round"/>
<polygon points="504.0,331.8 530.6,325.2 563.8,327.8 574.5,334.5 570.5,342.5 557.2,338.5 543.9,331.8 530.6,342.5 512.0,347.8 504.0,346.5" fill="#9a5e2a" stroke="#9a5e2a" stroke-width="9.1" stroke-linejoin="round"/>
<polygon points="514.6,382.0 530.6,363.7 570.5,359.8 589.0,353.0 602.4,361.0 631.7,369.0 656.0,373.0 656.0,382.0" fill="#9a5e2a" stroke="#9a5e2a" stroke-width="7.8" stroke-linejoin="round"/>
<polygon points="626.5,340.5 625.9,344.4 624.3,348.0 621.7,350.8 618.5,352.6 615.0,353.2 611.5,352.6 608.3,350.8 605.7,348.0 604.1,344.4 603.5,340.5 604.1,336.6 605.7,333.0 608.3,330.2 611.5,328.4 615.0,327.8 618.5,328.4 621.7,330.2 624.3,333.0 625.9,336.6" fill="#9a5e2a" stroke="#9a5e2a" stroke-width="7.8" stroke-linejoin="round"/>
<polygon points="658.0,318.5 657.6,322.2 656.5,325.6 654.7,328.2 652.5,329.9 650.0,330.5 647.5,329.9 645.3,328.2 643.5,325.6 642.4,322.2 642.0,318.5 642.4,314.8 643.5,311.4 645.3,308.8 647.5,307.1 650.0,306.5 652.5,307.1 654.7,308.8 656.5,311.4 657.6,314.8" fill="#9a5e2a" stroke="#9a5e2a" stroke-width="9.1" stroke-linejoin="round"/>
<polygon points="658.0,354.5 657.6,356.5 656.5,358.3 654.7,359.8 652.5,360.7 650.0,361.0 647.5,360.7 645.3,359.8 643.5,358.3 642.4,356.5 642.0,354.5 642.4,352.5 643.5,350.7 645.3,349.2 647.5,348.3 650.0,348.0 652.5,348.3 654.7,349.2 656.5,350.7 657.6,352.5" fill="#9a5e2a" stroke="#9a5e2a" stroke-width="9.1" stroke-linejoin="round"/>
<polygon points="657.0,274.0 656.6,276.2 655.3,278.1 653.3,279.7 650.8,280.7 648.0,281.0 645.2,280.7 642.7,279.7 640.7,278.1 639.4,276.2 639.0,274.0 639.4,271.8 640.7,269.9 642.7,268.3 645.2,267.3 648.0,267.0 650.8,267.3 653.3,268.3 655.3,269.9 656.6,271.8" fill="#9a5e2a" stroke="#9a5e2a" stroke-width="9.1" stroke-linejoin="round"/>
<polygon points="652.4,286.0 652.2,286.9 651.8,287.7 651.0,288.4 650.1,288.8 649.0,289.0 647.9,288.8 647.0,288.4 646.2,287.7 645.8,286.9 645.6,286.0 645.8,285.1 646.2,284.3 647.0,283.6 647.9,283.2 649.0,283.0 650.1,283.2 651.0,283.6 651.8,284.3 652.2,285.1" fill="#9a5e2a" stroke="#9a5e2a" stroke-width="6.5" stroke-linejoin="round"/>
<polygon points="482.8,276.0 482.5,277.8 481.5,279.5 480.0,280.8 478.1,281.7 476.0,281.9 473.9,281.7 472.0,280.8 470.5,279.5 469.5,277.8 469.2,276.0 469.5,274.2 470.5,272.5 472.0,271.2 473.9,270.3 476.0,270.1 478.1,270.3 480.0,271.2 481.5,272.5 482.5,274.2" fill="#9a5e2a" stroke="#9a5e2a" stroke-width="5.2" stroke-linejoin="round"/>
<path d="M425.7 170.5h0M427.5 169.6h0M430.1 182.7h0M412.6 201.0h0M411.9 194.9h0M405.8 195.8h0M421.1 212.4h0M401.0 192.1h0M405.0 211.0h0M406.5 208.2h0M435.5 174.3h0M440.4 212.4h0M438.7 224.4h0M448.5 223.7h0M437.4 217.7h0M435.5 216.0h0M445.5 212.9h0M438.9 215.5h0M441.4 209.9h0M434.3 211.9h0M442.1 213.6h0M434.2 219.3h0M444.7 213.1h0M433.7 217.9h0M438.3 212.2h0M444.1 209.0h0M442.9 210.6h0M441.5 215.5h0M414.5 234.9h0M418.2 237.5h0M424.1 230.3h0M412.5 244.2h0M416.8 236.4h0M408.8 243.0h0M415.8 241.8h0M418.0 232.0h0M405.4 229.6h0M412.8 237.4h0M411.9 228.4h0M411.6 233.2h0M416.7 230.6h0M422.9 236.5h0M417.9 227.4h0M424.4 225.7h0M421.2 235.3h0M422.6 228.9h0M425.8 232.3h0M405.6 247.1h0M404.2 249.1h0M409.6 234.0h0M423.6 246.8h0M426.1 235.6h0M416.2 235.5h0M433.7 241.4h0M428.9 229.3h0M426.6 239.4h0M427.2 248.1h0M411.7 249.4h0M408.6 239.6h0M471.3 232.2h0M472.3 213.3h0M476.5 252.4h0M471.5 250.0h0M469.5 256.4h0M464.9 268.2h0M463.8 270.2h0M464.4 267.8h0M476.3 252.8h0M447.1 261.2h0M445.9 269.4h0M456.1 251.9h0M449.3 267.4h0M434.2 253.8h0M444.8 256.3h0M433.4 254.6h0M422.5 258.4h0M447.7 247.4h0M428.6 232.7h0M446.6 231.0h0M463.0 242.1h0M441.7 233.5h0M453.8 230.1h0M467.7 218.7h0M457.3 238.3h0M474.6 238.5h0M469.5 214.5h0M468.6 217.4h0M465.0 216.7h0M468.6 224.8h0M465.9 217.6h0M468.6 221.7h0M466.2 216.7h0M461.5 224.7h0M467.5 223.0h0M466.5 222.5h0M459.4 223.0h0M464.9 217.6h0M466.5 213.8h0M466.6 219.5h0M467.0 219.3h0M466.8 213.6h0M464.5 213.2h0M522.7 203.0h0M522.8 201.0h0M510.0 209.2h0M513.2 212.3h0M517.0 202.9h0M523.4 214.2h0M507.6 209.0h0M508.4 195.1h0M508.5 191.7h0M502.1 199.9h0M512.5 198.1h0M505.8 191.9h0M518.5 182.9h0M519.6 187.4h0M513.5 202.9h0M506.3 197.5h0M524.5 206.5h0M520.3 205.6h0M509.2 168.1h0M509.2 164.3h0M513.5 171.1h0M514.9 166.9h0M503.4 167.6h0M510.4 173.1h0M508.1 181.8h0M507.2 178.7h0M503.3 179.0h0M499.9 172.6h0M506.9 160.3h0M517.2 168.7h0M515.6 167.1h0M504.8 159.2h0M515.0 165.2h0M573.6 183.4h0M578.1 164.1h0M552.9 176.1h0M572.3 186.7h0M561.7 170.5h0M547.4 183.9h0M550.4 167.6h0M549.2 167.3h0M548.7 159.2h0M560.9 164.5h0M554.1 169.6h0M572.5 163.8h0M562.3 160.6h0M573.2 175.2h0M562.7 165.8h0M548.4 188.2h0M544.8 175.6h0M559.6 178.6h0M557.4 186.1h0M567.8 183.0h0M580.8 179.2h0M582.2 190.6h0M572.0 192.4h0M584.4 187.4h0M575.1 183.4h0M576.7 184.2h0M575.0 194.4h0M555.5 195.4h0M554.1 200.8h0M558.7 199.4h0M605.7 183.7h0M600.7 166.5h0M605.2 175.5h0M595.3 169.8h0M601.2 175.0h0M609.0 165.5h0M623.8 164.3h0M630.1 179.2h0M634.1 180.7h0M629.2 160.2h0M642.5 172.9h0M642.1 167.8h0M641.5 163.5h0M638.6 154.9h0M651.4 163.1h0M652.8 163.9h0M663.9 157.4h0M649.6 164.9h0M667.6 170.6h0M645.7 172.1h0M651.0 182.9h0M664.6 186.4h0M649.6 175.8h0M640.4 180.4h0M648.9 167.5h0M643.4 180.4h0M633.3 188.6h0M636.6 171.2h0M628.3 174.2h0M621.0 170.6h0M600.7 167.8h0M607.0 172.3h0M591.8 169.5h0M544.9 225.6h0M540.5 230.0h0M537.6 218.0h0M535.8 215.4h0M524.7 211.4h0M525.3 213.1h0M537.5 225.3h0M535.3 216.8h0M525.2 226.4h0M531.3 224.5h0M533.0 209.1h0M537.5 218.2h0M525.0 208.5h0M541.9 209.1h0M527.2 211.2h0M544.5 208.4h0M542.4 219.7h0M550.0 220.7h0M539.7 217.8h0M551.2 217.7h0M560.0 209.0h0M571.7 222.1h0M568.3 227.7h0M557.5 226.5h0M558.2 211.2h0M552.2 221.9h0M570.1 214.5h0M549.1 228.9h0M566.0 213.2h0M565.4 227.6h0M565.0 215.1h0M564.3 218.0h0M562.7 208.3h0M567.2 217.5h0M568.7 209.7h0M562.0 205.9h0M571.6 207.9h0M556.8 260.9h0M573.9 247.7h0M556.6 246.0h0M575.2 253.0h0M571.8 240.3h0M574.9 221.3h0M572.7 222.7h0M583.5 221.7h0M573.2 230.3h0M583.3 230.1h0M588.7 214.7h0M583.9 210.7h0M602.5 218.7h0M602.1 211.0h0M605.7 222.4h0M601.5 220.1h0M619.1 223.3h0M611.3 219.0h0M642.2 232.9h0M649.9 230.6h0M636.1 235.5h0M640.4 247.3h0M620.8 261.5h0M635.1 268.7h0M623.6 267.1h0M631.0 255.7h0M624.4 260.6h0M618.3 249.0h0M598.4 251.6h0M596.3 239.7h0M587.5 250.7h0M588.7 257.0h0M577.6 252.9h0M546.1 239.2h0M545.0 238.5h0M551.4 241.2h0M549.6 236.0h0M545.4 241.0h0M538.4 241.2h0M544.5 235.6h0M544.4 235.0h0M539.1 243.3h0M538.6 237.5h0M539.2 236.5h0M546.0 234.6h0M542.4 238.8h0M551.1 238.9h0M547.8 236.4h0M550.9 240.7h0M355.4 295.1h0M368.7 296.7h0M369.5 298.9h0M355.2 290.1h0M372.5 309.7h0M368.4 300.1h0M399.2 271.0h0M396.3 267.8h0M397.3 279.5h0M394.6 269.5h0M404.8 276.1h0M401.8 278.8h0M388.3 279.6h0M384.3 280.0h0M389.9 276.6h0M384.6 265.9h0M387.3 271.6h0M394.0 267.2h0M393.5 273.3h0M391.1 266.9h0M399.2 270.1h0M399.3 262.3h0M387.0 276.1h0M404.0 270.5h0M401.5 268.6h0M393.3 262.8h0M405.6 264.0h0M418.9 277.5h0M430.0 279.0h0M418.4 269.5h0M413.9 276.0h0M411.6 267.9h0M423.9 272.1h0M420.0 279.2h0M402.9 269.1h0M411.4 278.5h0M413.1 265.0h0M403.1 270.3h0M404.5 277.5h0M401.3 266.7h0M409.6 269.6h0M411.5 265.8h0M423.1 263.4h0M423.4 274.1h0M420.9 271.4h0M412.4 268.3h0M414.7 267.5h0M452.7 281.7h0M451.2 278.7h0M446.2 289.5h0M437.8 288.1h0M435.4 283.4h0M454.6 277.7h0M437.1 290.7h0M445.3 296.3h0M441.8 294.3h0M446.6 291.3h0M433.1 287.3h0M439.7 299.2h0M422.1 280.6h0M430.2 279.0h0M419.9 291.2h0M430.3 275.8h0M420.2 289.4h0M421.4 288.1h0M426.1 279.0h0M427.2 283.1h0M426.6 289.1h0M443.3 289.8h0M448.2 286.9h0M435.4 302.3h0M433.2 303.7h0M428.5 303.0h0M431.2 302.8h0M427.2 297.5h0M425.3 300.3h0M425.3 299.3h0M427.9 302.3h0M425.6 292.0h0M426.8 302.3h0M421.5 292.6h0M429.6 294.9h0M429.2 301.5h0M433.4 295.4h0M386.9 327.8h0M389.6 325.7h0M393.3 309.7h0M403.0 306.9h0M419.1 316.7h0M419.6 323.3h0M414.9 315.4h0M423.6 298.2h0M439.8 305.2h0M436.6 303.4h0M463.4 300.0h0M463.7 317.0h0M455.6 336.1h0M444.8 346.7h0M453.4 339.3h0M448.4 327.5h0M448.2 343.3h0M444.6 351.9h0M436.2 350.8h0M448.6 333.6h0M432.5 362.9h0M416.1 353.5h0M433.8 361.9h0M408.1 355.6h0M416.5 360.9h0M410.6 335.2h0M405.0 352.1h0M403.4 325.4h0M389.3 342.2h0M392.1 338.1h0M400.3 342.9h0M399.0 342.4h0M400.1 338.9h0M399.6 345.6h0M382.3 362.1h0M403.0 348.2h0M386.5 356.9h0M383.5 352.5h0M381.1 358.1h0M385.8 364.6h0M379.2 339.0h0M384.2 342.1h0M396.6 326.7h0M390.7 325.4h0M398.3 329.4h0M383.0 338.2h0M389.4 340.7h0M382.7 337.1h0M394.3 333.5h0M391.5 333.5h0M389.1 353.8h0M358.4 349.6h0M362.2 349.6h0M356.1 364.0h0M362.1 346.0h0M367.2 365.3h0M357.8 366.2h0M350.1 357.3h0M346.1 362.7h0M354.3 364.0h0M354.8 360.3h0M360.3 359.4h0M355.1 352.4h0M355.8 338.1h0M365.4 333.5h0M356.3 352.9h0M363.9 337.4h0M359.5 343.4h0M359.1 337.8h0M495.5 339.3h0M483.4 343.4h0M498.3 349.9h0M489.5 340.1h0M492.4 344.7h0M484.8 345.7h0M489.9 353.2h0M481.7 348.1h0M490.0 342.0h0M489.0 336.1h0M496.4 330.8h0M485.4 340.8h0M499.5 334.2h0M495.4 342.8h0M506.3 359.1h0M499.9 368.4h0M491.6 363.0h0M490.8 359.3h0M488.1 361.6h0M493.0 367.0h0M499.1 354.1h0M489.9 351.9h0M486.8 352.2h0M486.5 345.0h0M506.1 343.4h0M500.6 360.1h0M500.1 346.9h0M502.8 357.2h0M504.8 290.6h0M507.0 284.6h0M499.7 304.7h0M496.1 302.4h0M502.8 297.2h0M490.9 293.5h0M493.6 288.7h0M504.0 290.7h0M500.6 285.0h0M498.3 283.2h0M492.8 285.0h0M503.3 280.0h0M493.4 274.7h0M491.8 275.9h0M502.7 293.6h0M510.5 285.6h0M510.2 293.2h0M514.0 277.8h0M524.5 274.2h0M529.0 271.6h0M520.7 278.3h0M533.9 273.2h0M532.1 272.4h0M525.1 291.5h0M541.0 275.5h0M530.6 290.0h0M543.1 274.2h0M541.2 292.4h0M531.3 288.2h0M527.7 292.5h0M528.7 295.0h0M525.4 297.8h0M522.8 298.5h0M524.2 298.8h0M517.9 285.6h0M520.2 292.8h0M521.8 296.4h0M527.5 294.1h0M514.4 305.4h0M518.1 306.2h0M521.7 302.0h0M514.3 295.6h0M515.3 303.6h0M512.4 290.9h0M512.2 294.8h0M542.6 303.1h0M562.8 291.5h0M562.5 302.7h0M561.5 303.2h0M556.8 295.1h0M562.1 304.2h0M561.8 288.8h0M557.9 305.5h0M564.6 290.7h0M565.5 290.2h0M564.5 284.7h0M579.0 277.7h0M586.5 280.9h0M589.8 291.9h0M576.3 294.6h0M580.3 310.7h0M566.4 297.0h0M571.7 313.4h0M557.0 307.7h0M553.4 299.5h0M543.1 304.8h0M615.0 292.5h0M617.0 298.1h0M613.8 300.7h0M622.0 301.5h0M618.3 298.7h0M614.0 284.5h0M618.2 292.6h0M614.7 279.5h0M618.6 291.3h0M620.4 279.8h0M619.1 290.0h0M611.7 283.1h0M614.5 290.5h0M625.9 292.1h0M616.4 290.2h0M612.6 281.6h0M624.4 292.5h0M588.9 324.0h0M583.3 316.8h0M576.3 329.0h0M586.3 322.3h0M577.3 322.6h0M573.6 324.3h0M577.7 315.5h0M572.7 324.1h0M569.6 320.4h0M582.5 314.2h0M576.4 315.3h0M578.6 323.2h0M584.7 313.7h0M577.0 313.9h0M584.8 318.6h0M576.1 323.0h0M581.0 319.5h0M509.5 336.6h0M515.1 328.2h0M511.6 336.9h0M519.3 335.3h0M517.8 332.6h0M525.4 327.5h0M519.9 333.0h0M537.2 318.8h0M543.0 326.5h0M553.1 327.2h0M560.2 320.8h0M554.6 324.4h0M566.7 325.8h0M563.6 345.8h0M571.0 336.4h0M569.3 344.1h0M555.7 336.4h0M551.8 332.3h0M551.2 338.5h0M548.0 334.8h0M533.2 328.2h0M533.6 334.3h0M540.3 334.0h0M516.3 350.5h0M514.4 342.9h0M520.5 348.2h0M516.5 349.8h0M511.0 345.5h0M509.8 342.7h0M496.7 338.6h0M502.9 339.3h0M509.6 346.2h0M509.7 340.8h0M514.8 383.3h0M527.2 370.5h0M530.9 366.2h0M530.5 373.5h0M524.4 367.6h0M533.3 371.4h0M521.7 366.0h0M532.7 366.4h0M538.2 360.9h0M530.7 365.7h0M552.5 363.0h0M558.1 366.9h0M547.7 356.8h0M561.9 355.7h0M552.7 362.0h0M558.6 357.8h0M570.8 353.9h0M571.5 365.6h0M571.7 365.4h0M581.6 361.3h0M579.7 349.7h0M588.8 352.3h0M587.5 346.7h0M590.1 359.0h0M601.6 355.7h0M594.1 364.8h0M605.2 355.4h0M603.4 359.9h0M604.9 367.1h0M606.0 360.1h0M616.5 367.9h0M611.7 371.5h0M626.3 371.8h0M615.5 366.3h0M627.6 363.3h0M622.2 361.8h0M626.4 365.8h0M631.6 373.6h0M629.2 371.5h0M644.4 374.5h0M659.5 384.6h0M644.6 385.9h0M630.4 384.7h0M626.0 387.3h0M627.4 382.8h0M628.3 385.4h0M621.9 387.9h0M620.1 384.0h0M616.4 386.2h0M611.3 378.3h0M618.8 375.6h0M612.1 377.5h0M602.3 375.7h0M605.4 379.5h0M602.7 385.1h0M600.3 388.0h0M590.8 385.7h0M580.1 380.5h0M569.5 380.6h0M572.9 378.0h0M573.3 387.1h0M561.1 383.3h0M559.4 385.2h0M556.9 378.3h0M548.8 381.1h0M552.7 386.0h0M546.7 380.4h0M544.9 388.4h0M532.3 385.8h0M534.0 385.1h0M527.0 383.8h0M522.3 379.5h0M522.4 386.4h0M524.3 380.2h0M625.9 339.3h0M619.3 349.1h0M615.6 350.3h0M621.3 352.1h0M605.6 355.4h0M602.9 348.2h0M611.2 352.8h0M602.8 349.1h0M598.4 345.7h0M599.6 347.9h0M605.7 337.2h0M600.9 346.1h0M602.9 333.1h0M603.2 328.5h0M609.3 326.1h0M605.7 329.1h0M621.2 328.7h0M617.3 331.8h0M617.4 326.9h0M627.7 332.1h0M621.1 335.0h0M629.2 338.2h0M651.4 337.4h0M655.2 326.5h0M647.1 334.9h0M648.7 335.5h0M650.8 326.7h0M641.9 321.2h0M648.3 318.0h0M642.5 316.9h0M650.9 305.2h0M640.7 313.0h0M650.9 304.6h0M644.3 307.5h0M646.3 305.7h0M650.9 305.6h0M653.4 311.7h0M663.8 357.7h0M654.5 354.6h0M657.5 354.9h0M658.5 366.0h0M650.7 364.2h0M652.1 344.9h0M650.5 352.7h0M652.0 343.3h0M649.9 346.2h0M651.4 346.2h0M651.5 348.6h0M653.9 354.6h0M651.3 347.0h0M649.3 279.2h0M662.2 277.9h0M660.1 273.0h0M649.7 275.2h0M644.8 279.5h0M645.6 276.4h0M644.2 277.0h0M638.4 273.5h0M631.8 270.9h0M633.9 280.1h0M642.0 266.1h0M651.0 273.4h0M651.6 262.3h0M647.8 271.0h0M656.0 269.0h0M648.5 292.2h0M655.4 290.3h0M650.9 285.2h0M651.3 283.7h0M646.5 287.9h0M655.1 287.2h0M647.0 292.6h0M651.3 283.9h0M651.0 287.7h0M643.9 283.3h0M646.4 282.2h0M647.8 283.1h0M642.0 289.1h0M650.3 284.2h0M650.6 288.5h0M645.6 285.3h0M647.3 279.3h0M647.1 282.1h0M649.9 288.2h0M647.6 280.2h0M486.9 275.1h0M479.0 277.6h0M475.7 278.8h0M471.3 277.9h0M473.1 281.2h0M471.8 282.9h0M468.1 281.2h0M471.5 275.5h0M472.8 278.1h0M472.3 274.1h0M472.9 272.2h0M474.6 268.3h0M474.5 274.3h0M481.8 270.8h0M481.8 275.5h0" stroke="#2c1a14" stroke-width="4.0" stroke-linecap="round" fill="none" stroke-opacity="0.75"/>
<path d="M428.7 162.8h0M424.8 186.5h0M419.1 168.1h0M445.1 174.8h0M420.2 177.3h0M419.3 194.2h0M429.7 182.8h0M430.9 195.5h0M417.3 185.8h0M418.9 196.5h0M410.3 194.0h0M403.9 187.6h0M428.5 189.3h0M401.4 204.9h0M431.0 198.0h0M417.3 186.9h0M423.8 179.7h0M418.7 191.2h0M430.2 174.7h0M441.5 187.9h0M438.4 213.8h0M437.6 213.3h0M441.9 221.7h0M443.3 213.2h0M434.1 217.9h0M432.8 215.1h0M435.4 214.9h0M434.2 220.6h0M433.5 213.0h0M437.8 210.4h0M437.1 210.8h0M439.4 214.5h0M442.5 212.2h0M434.4 216.1h0M444.9 218.8h0M434.1 211.1h0M439.2 207.6h0M439.4 208.6h0M439.5 213.7h0M444.3 209.9h0M442.3 213.3h0M421.1 236.1h0M412.5 234.0h0M416.8 242.9h0M425.7 241.3h0M423.6 230.2h0M414.9 244.2h0M414.1 236.5h0M408.3 240.6h0M411.5 230.5h0M417.8 229.1h0M417.3 236.8h0M413.3 233.3h0M405.9 239.0h0M416.7 227.7h0M415.8 229.1h0M409.2 235.9h0M411.2 227.9h0M407.7 228.3h0M413.2 233.2h0M424.7 225.0h0M419.0 248.9h0M418.4 239.4h0M429.6 227.9h0M430.3 242.4h0M433.8 241.6h0M414.1 251.2h0M427.7 243.9h0M407.3 240.6h0M421.4 241.7h0M406.4 250.0h0M404.9 242.3h0M479.1 219.4h0M480.1 225.6h0M482.4 243.1h0M458.5 246.0h0M471.7 233.0h0M461.7 247.1h0M476.2 237.8h0M466.3 236.0h0M461.7 242.9h0M472.9 250.2h0M474.2 258.0h0M463.2 253.4h0M473.0 264.3h0M448.8 266.0h0M453.9 256.1h0M468.0 262.0h0M455.2 262.9h0M461.3 251.3h0M459.9 254.5h0M439.9 269.0h0M433.2 244.8h0M436.2 263.7h0M425.9 263.5h0M426.9 252.2h0M422.5 243.3h0M441.9 254.9h0M451.6 233.7h0M434.8 227.8h0M436.5 247.4h0M452.7 237.6h0M456.6 222.4h0M468.6 222.1h0M477.1 228.0h0M463.2 221.8h0M465.6 215.1h0M471.1 224.5h0M466.6 219.1h0M462.7 223.6h0M460.6 220.8h0M460.7 211.4h0M461.9 221.4h0M463.1 220.4h0M467.1 216.1h0M465.8 221.2h0M461.7 219.5h0M469.2 216.0h0M512.1 190.6h0M511.8 197.6h0M514.1 202.6h0M527.9 200.9h0M515.0 203.7h0M517.6 198.6h0M522.9 202.6h0M519.6 210.2h0M525.6 214.7h0M519.2 217.3h0M510.7 206.0h0M503.8 210.3h0M520.2 214.0h0M519.7 199.3h0M516.1 197.8h0M509.0 192.6h0M511.9 199.2h0M520.6 182.6h0M515.2 197.1h0M513.3 203.2h0M504.4 207.1h0M506.9 194.8h0M524.2 177.9h0M509.0 177.0h0M522.2 177.2h0M506.5 172.9h0M507.0 181.5h0M510.0 183.7h0M501.9 181.4h0M505.9 177.6h0M505.6 171.7h0M516.6 167.2h0M512.4 171.0h0M502.5 167.9h0M513.0 163.5h0M515.8 159.6h0M516.8 165.3h0M512.4 161.2h0M515.5 164.9h0M513.9 162.2h0M506.3 160.3h0M579.4 178.0h0M579.5 165.4h0M564.7 163.9h0M558.1 165.0h0M556.9 169.9h0M550.3 172.9h0M550.0 172.2h0M563.7 169.3h0M552.1 164.6h0M558.0 164.9h0M555.9 168.7h0M555.1 172.0h0M568.3 155.0h0M562.7 165.5h0M563.4 177.6h0M570.9 158.9h0M576.0 178.5h0M564.7 157.9h0M552.4 188.9h0M541.9 177.8h0M557.9 191.1h0M550.8 177.0h0M565.0 180.4h0M550.4 176.5h0M556.1 177.4h0M562.6 172.5h0M565.3 181.8h0M570.0 185.2h0M575.3 189.3h0M576.3 189.4h0M572.5 193.6h0M566.3 185.4h0M563.6 193.7h0M568.0 186.0h0M561.6 186.6h0M552.8 187.0h0M551.3 187.8h0M547.0 192.3h0M557.1 196.2h0M612.0 181.3h0M616.2 182.9h0M617.7 165.6h0M617.9 170.4h0M621.7 178.9h0M632.5 159.2h0M623.3 171.6h0M643.5 162.8h0M647.8 153.7h0M640.8 159.4h0M651.0 154.5h0M640.5 151.9h0M648.8 170.9h0M657.5 153.3h0M659.9 156.2h0M644.3 165.1h0M665.2 178.8h0M647.3 162.3h0M651.8 171.3h0M638.8 176.0h0M639.9 171.9h0M639.0 182.2h0M641.0 183.5h0M629.9 168.5h0M632.9 189.4h0M621.2 171.5h0M627.2 176.6h0M620.6 182.8h0M614.4 176.6h0M615.0 183.5h0M597.3 170.6h0M592.9 169.0h0M594.2 173.9h0M540.3 207.1h0M546.8 218.9h0M547.4 224.2h0M534.9 213.1h0M541.4 219.4h0M549.0 228.9h0M535.3 212.3h0M533.8 212.7h0M532.0 202.8h0M541.3 219.2h0M532.5 215.8h0M533.3 203.5h0M536.7 217.5h0M549.1 209.1h0M569.2 212.3h0M577.4 221.6h0M563.5 206.7h0M575.3 225.5h0M557.3 226.2h0M562.7 223.7h0M558.7 214.9h0M550.4 205.6h0M565.8 217.6h0M563.6 208.6h0M563.0 206.7h0M557.3 200.4h0M557.9 202.5h0M559.8 203.8h0M575.1 213.8h0M560.7 202.1h0M567.1 222.1h0M561.7 241.2h0M582.7 236.9h0M574.1 225.5h0M577.7 228.4h0M583.2 228.8h0M581.9 222.4h0M588.8 207.3h0M600.4 206.4h0M608.8 218.8h0M611.9 215.6h0M608.0 211.3h0M617.4 222.0h0M616.6 224.9h0M612.3 227.0h0M624.1 213.3h0M608.9 212.9h0M615.7 214.3h0M624.9 221.5h0M623.8 237.0h0M635.4 229.8h0M636.9 232.4h0M626.4 230.1h0M637.5 223.9h0M643.1 244.5h0M623.9 242.1h0M623.7 266.2h0M623.3 260.6h0M629.7 258.4h0M625.0 255.9h0M607.1 246.2h0M597.8 259.0h0M602.1 245.7h0M599.8 249.4h0M596.0 239.2h0M579.9 256.2h0M584.0 258.5h0M580.1 247.5h0M596.5 255.0h0M576.9 251.7h0M581.7 245.6h0M567.0 253.0h0M572.8 261.8h0M550.3 240.5h0M544.4 242.2h0M548.0 244.4h0M548.0 246.5h0M541.2 244.6h0M544.0 236.6h0M544.4 235.5h0M538.3 237.4h0M540.6 236.4h0M539.8 241.7h0M540.7 231.6h0M540.3 236.2h0M543.8 234.0h0M542.3 230.0h0M540.0 234.6h0M545.6 233.9h0M551.5 229.7h0M544.8 239.6h0M546.9 237.4h0M360.0 303.0h0M366.3 317.1h0M378.2 308.2h0M368.9 315.2h0M394.7 274.6h0M398.7 270.1h0M397.2 268.9h0M383.2 265.2h0M393.1 275.0h0M388.5 277.3h0M399.5 274.9h0M391.7 272.3h0M400.7 265.7h0M393.8 277.3h0M428.7 267.6h0M421.6 278.4h0M416.5 266.6h0M415.1 271.1h0M422.2 275.1h0M414.4 278.4h0M402.3 276.1h0M414.1 265.7h0M411.8 271.3h0M415.7 261.2h0M415.3 272.8h0M417.1 267.0h0M420.7 263.2h0M448.1 275.8h0M445.2 288.6h0M447.5 292.5h0M440.1 299.2h0M420.9 275.9h0M423.9 294.8h0M435.5 285.6h0M426.0 280.2h0M440.1 272.1h0M453.5 271.0h0M453.7 282.8h0M441.0 273.0h0M432.2 303.0h0M427.5 304.0h0M427.7 302.8h0M428.6 302.0h0M433.0 298.8h0M423.1 300.9h0M425.1 298.0h0M423.5 297.3h0M425.6 296.0h0M422.1 296.7h0M425.5 300.5h0M428.6 300.6h0M424.5 297.9h0M434.9 301.8h0M427.7 293.2h0M402.0 328.8h0M388.1 335.4h0M400.4 314.9h0M384.1 313.2h0M407.2 321.1h0M393.8 303.7h0M412.6 307.2h0M416.5 306.7h0M412.5 304.4h0M424.6 312.8h0M430.6 310.8h0M446.4 318.9h0M430.6 320.2h0M429.0 312.1h0M445.2 299.8h0M450.9 309.5h0M446.9 300.6h0M440.9 299.1h0M457.2 304.5h0M444.4 297.0h0M469.7 296.2h0M468.8 303.9h0M472.8 311.3h0M475.0 312.3h0M471.7 323.7h0M480.0 331.4h0M456.4 319.1h0M462.8 312.7h0M464.1 314.6h0M450.2 326.4h0M455.0 322.3h0M452.2 337.6h0M464.2 334.2h0M443.4 348.8h0M457.4 339.8h0M447.4 351.1h0M432.7 342.8h0M435.9 357.5h0M426.3 344.0h0M427.1 347.7h0M441.9 361.3h0M436.7 343.3h0M417.1 353.8h0M409.7 354.2h0M420.7 338.1h0M403.9 352.1h0M413.0 352.8h0M407.3 333.1h0M402.2 324.6h0M382.1 316.3h0M384.9 340.6h0M387.9 355.6h0M378.7 365.6h0M393.9 360.4h0M379.8 361.5h0M386.5 354.6h0M388.9 337.7h0M387.5 332.6h0M380.3 343.0h0M398.2 333.2h0M392.6 347.8h0M385.9 339.8h0M369.7 345.5h0M362.6 351.1h0M365.0 363.5h0M350.8 349.1h0M362.9 356.9h0M352.8 359.9h0M368.8 365.3h0M361.7 365.2h0M355.4 354.9h0M347.6 345.7h0M363.3 349.3h0M345.0 348.0h0M353.6 354.2h0M356.2 338.9h0M362.4 345.9h0M361.6 353.5h0M484.4 349.2h0M487.6 336.4h0M499.5 340.7h0M494.8 345.5h0M489.7 357.3h0M483.6 354.5h0M483.7 341.5h0M485.5 340.2h0M484.0 350.8h0M490.5 345.1h0M480.5 341.2h0M478.0 334.8h0M486.1 345.1h0M484.4 328.9h0M485.1 330.9h0M480.4 338.5h0M494.3 331.6h0M482.3 333.6h0M494.7 327.9h0M485.0 331.2h0M499.6 361.6h0M505.0 358.0h0M495.1 350.9h0M499.1 359.8h0M494.3 360.0h0M496.0 369.5h0M494.8 357.8h0M487.8 360.3h0M499.2 354.3h0M490.4 366.3h0M499.0 355.6h0M497.3 346.0h0M501.4 352.7h0M492.9 353.8h0M501.3 348.0h0M497.9 294.5h0M503.4 307.6h0M508.7 300.7h0M492.4 297.7h0M493.2 297.1h0M495.1 308.8h0M495.5 294.4h0M499.4 297.0h0M489.6 300.9h0M501.3 295.5h0M495.1 287.3h0M491.4 282.8h0M509.3 289.9h0M503.8 290.5h0M510.2 285.6h0M503.9 282.6h0M498.3 289.0h0M514.6 292.4h0M498.2 288.5h0M518.5 278.4h0M510.5 293.1h0M519.3 281.1h0M535.5 289.8h0M541.1 280.0h0M545.4 277.0h0M542.7 289.2h0M528.7 286.9h0M516.2 305.9h0M514.9 297.2h0M497.4 281.3h0M540.1 295.1h0M547.8 311.1h0M550.5 307.8h0M575.0 289.9h0M564.7 283.4h0M569.9 277.0h0M578.0 289.6h0M567.2 287.7h0M584.1 277.4h0M584.4 284.6h0M575.5 304.6h0M586.9 296.2h0M577.8 305.4h0M570.9 297.7h0M559.6 300.8h0M558.4 304.8h0M563.7 313.1h0M558.9 296.3h0M619.4 287.1h0M616.6 285.4h0M615.3 300.9h0M612.9 294.8h0M615.7 289.1h0M609.2 286.9h0M607.0 286.2h0M602.1 281.2h0M612.1 290.5h0M616.8 294.7h0M608.5 280.6h0M609.4 280.1h0M608.3 293.9h0M612.8 278.9h0M609.6 296.2h0M628.4 296.9h0M611.7 297.2h0M588.9 315.1h0M584.4 324.2h0M586.2 323.5h0M571.4 319.6h0M571.3 317.9h0M577.6 325.2h0M569.8 320.3h0M572.7 317.1h0M579.0 312.1h0M571.1 314.0h0M570.7 320.4h0M582.0 319.2h0M575.6 321.9h0M584.5 314.3h0M576.8 314.3h0M581.2 317.7h0M576.6 319.6h0M578.5 326.3h0M507.8 333.9h0M509.3 330.9h0M513.0 331.3h0M509.0 331.1h0M516.6 333.6h0M514.6 323.3h0M527.4 326.5h0M526.2 326.5h0M536.1 324.8h0M548.8 332.8h0M558.3 330.8h0M559.6 332.0h0M567.9 330.4h0M566.3 328.3h0M569.4 333.1h0M574.0 330.4h0M572.4 343.2h0M572.3 345.3h0M557.0 339.0h0M559.5 341.5h0M549.9 341.5h0M551.3 328.9h0M544.3 335.0h0M552.4 335.6h0M532.4 347.3h0M528.7 340.1h0M513.1 340.8h0M520.5 349.0h0M512.1 354.2h0M499.6 334.6h0M510.2 341.9h0M510.0 376.4h0M509.7 377.4h0M516.6 375.1h0M525.9 373.0h0M519.7 373.6h0M527.1 360.2h0M539.3 366.7h0M542.3 369.0h0M542.5 355.5h0M545.4 364.3h0M548.0 367.9h0M566.1 366.3h0M563.0 355.3h0M566.9 355.1h0M578.2 357.0h0M574.6 352.1h0M582.5 354.2h0M583.0 357.6h0M589.1 350.9h0M595.6 361.1h0M603.9 365.6h0M625.3 367.6h0M626.1 372.5h0M633.4 371.3h0M634.9 367.9h0M643.3 376.2h0M641.3 374.5h0M645.9 368.6h0M653.3 377.5h0M647.8 366.7h0M657.2 374.2h0M656.3 378.9h0M660.6 377.7h0M654.9 379.6h0M658.8 377.4h0M661.9 386.7h0M652.2 383.5h0M653.9 382.9h0M648.9 384.7h0M641.3 378.4h0M647.6 378.2h0M641.3 386.4h0M638.9 387.8h0M641.3 377.0h0M637.7 383.3h0M633.9 386.4h0M626.8 377.9h0M616.8 384.7h0M604.0 388.2h0M604.8 377.7h0M601.1 387.1h0M607.7 383.2h0M599.1 380.7h0M596.1 375.9h0M595.1 377.0h0M585.8 379.5h0M581.5 385.0h0M574.3 376.1h0M575.6 385.4h0M575.4 377.2h0M564.1 376.2h0M547.9 382.6h0M555.5 376.2h0M545.4 380.3h0M545.2 381.9h0M536.4 377.1h0M535.5 379.8h0M534.7 385.8h0M536.3 377.8h0M529.0 383.9h0M518.3 377.0h0M517.5 375.9h0M629.3 338.6h0M625.2 339.5h0M620.7 342.7h0M617.9 345.9h0M624.2 353.2h0M624.7 356.4h0M612.9 357.3h0M612.7 357.2h0M606.6 347.2h0M611.1 344.4h0M611.7 349.8h0M598.7 342.2h0M608.9 324.1h0M603.5 334.7h0M613.6 328.7h0M609.5 332.8h0M617.8 324.7h0M625.6 331.8h0M616.1 334.2h0M618.1 339.3h0M624.6 330.3h0M661.1 310.9h0M657.0 327.6h0M649.1 335.9h0M646.9 323.6h0M652.8 327.1h0M643.9 329.9h0M636.8 318.4h0M650.3 326.1h0M643.9 315.5h0M639.9 323.1h0M649.9 306.0h0M652.2 309.1h0M651.9 301.9h0M651.8 302.2h0M659.4 305.5h0M661.6 311.7h0M650.6 314.1h0M655.6 314.2h0M653.8 353.6h0M647.3 355.5h0M658.1 357.1h0M654.5 365.7h0M654.3 357.3h0M641.1 352.6h0M637.6 353.0h0M642.9 356.0h0M651.0 356.6h0M643.3 356.0h0M638.3 355.8h0M651.2 344.1h0M646.3 349.4h0M644.4 343.6h0M649.6 342.2h0M647.3 348.0h0M649.9 354.3h0M658.5 350.8h0M659.5 358.1h0M662.1 268.1h0M663.8 280.5h0M650.0 268.6h0M653.3 278.7h0M642.4 277.7h0M639.2 277.3h0M643.7 282.4h0M637.9 280.1h0M641.9 276.7h0M633.4 272.8h0M637.4 270.6h0M641.5 264.2h0M660.1 277.3h0M660.1 276.3h0M656.9 284.6h0M646.0 283.9h0M645.5 289.4h0M644.1 291.7h0M647.7 282.8h0M646.8 281.3h0M653.4 286.4h0M648.8 281.4h0M650.3 284.1h0M646.7 281.0h0M655.4 285.6h0M656.3 287.3h0M479.9 281.7h0M478.7 280.0h0M485.2 278.6h0M485.1 279.1h0M475.5 281.0h0M479.4 278.7h0M480.0 283.6h0M476.7 280.5h0M476.3 281.8h0M466.7 277.5h0M471.0 278.7h0M473.3 273.9h0M470.3 272.8h0M476.4 273.6h0M477.0 271.7h0M475.5 270.6h0M481.2 266.4h0M477.3 272.8h0M480.3 269.9h0M484.0 274.6h0M483.2 269.6h0M479.6 269.6h0M479.6 272.0h0M482.8 273.9h0" stroke="#2c1a14" stroke-width="3.5" stroke-linecap="round" fill="none" stroke-opacity="0.75"/>
<path d="M420.8 175.1h0M425.8 197.3h0M407.0 207.9h0M401.5 205.1h0M425.8 195.7h0M410.7 194.7h0M448.3 215.2h0M436.8 222.2h0M439.5 213.7h0M418.5 238.2h0M417.4 229.8h0M416.8 236.9h0M427.3 230.2h0M415.1 245.3h0M485.8 230.8h0M460.4 230.4h0M467.0 232.0h0M431.2 266.1h0M422.2 247.5h0M466.5 214.6h0M464.2 217.7h0M466.9 223.2h0M460.7 220.7h0M467.4 221.0h0M470.5 214.2h0M525.3 202.9h0M516.9 211.4h0M510.3 203.3h0M510.8 196.6h0M510.6 178.5h0M518.6 183.3h0M517.4 179.2h0M511.2 163.9h0M554.2 180.3h0M549.1 179.0h0M557.3 166.0h0M547.2 167.7h0M549.1 164.9h0M586.0 193.8h0M572.1 198.6h0M581.1 198.6h0M639.0 155.6h0M665.6 160.6h0M661.1 184.6h0M660.8 168.9h0M632.1 169.5h0M641.7 187.9h0M538.2 213.7h0M527.4 226.7h0M537.4 218.8h0M547.1 209.4h0M543.7 207.7h0M561.3 210.2h0M562.9 211.1h0M565.0 212.1h0M546.5 209.1h0M565.7 220.2h0M552.2 211.5h0M564.2 215.1h0M565.2 204.8h0M571.8 257.7h0M555.7 262.0h0M563.5 256.3h0M577.5 233.0h0M569.1 238.5h0M577.1 213.3h0M631.1 234.7h0M644.8 224.1h0M631.7 250.2h0M627.4 262.7h0M621.5 268.0h0M637.3 271.3h0M631.8 262.9h0M626.1 246.0h0M606.8 264.0h0M590.4 257.9h0M576.4 253.9h0M564.0 259.4h0M550.1 240.3h0M542.7 236.4h0M538.9 238.9h0M541.8 231.4h0M369.9 307.8h0M354.6 299.4h0M374.1 303.9h0M359.4 319.3h0M384.2 273.1h0M398.3 271.5h0M428.9 275.4h0M405.4 273.0h0M418.1 283.3h0M402.7 266.8h0M411.0 261.6h0M410.6 261.5h0M419.4 276.7h0M447.2 288.4h0M430.5 296.0h0M431.3 282.0h0M433.4 270.2h0M460.1 280.4h0M433.0 295.0h0M419.9 296.3h0M431.9 295.7h0M381.8 326.4h0M393.1 300.5h0M425.5 322.9h0M410.8 302.2h0M425.4 310.9h0M441.2 312.3h0M433.7 318.9h0M476.3 318.1h0M464.4 334.1h0M453.6 338.5h0M447.4 353.6h0M444.9 347.2h0M418.6 354.9h0M422.1 345.5h0M398.4 324.4h0M397.3 364.4h0M386.8 351.8h0M383.9 338.1h0M398.2 335.6h0M361.9 345.0h0M359.9 344.0h0M484.2 357.0h0M477.6 338.2h0M491.0 343.9h0M492.5 342.5h0M486.7 337.9h0M482.8 333.5h0M500.6 357.2h0M492.2 346.4h0M503.3 286.8h0M499.1 294.0h0M493.1 311.1h0M500.9 284.8h0M489.1 290.5h0M497.9 281.5h0M537.5 289.4h0M518.8 298.2h0M507.8 300.7h0M518.6 298.1h0M538.3 314.9h0M576.3 296.2h0M559.4 311.5h0M549.2 309.7h0M549.6 314.7h0M612.8 289.7h0M611.2 302.2h0M575.6 324.7h0M587.9 316.0h0M502.6 328.2h0M514.9 328.3h0M541.4 319.5h0M541.7 327.0h0M574.0 331.7h0M535.2 344.3h0M516.0 350.8h0M501.3 345.6h0M505.6 349.4h0M504.6 337.1h0M519.2 383.4h0M544.7 358.2h0M538.6 356.4h0M556.7 360.0h0M565.7 354.9h0M580.1 356.1h0M581.8 362.0h0M604.9 357.8h0M617.9 367.6h0M618.5 370.0h0M634.5 383.8h0M593.6 382.2h0M589.0 379.5h0M590.9 384.4h0M590.3 377.3h0M589.0 387.6h0M557.7 387.0h0M556.0 380.2h0M544.8 379.9h0M540.6 381.8h0M533.1 385.2h0M620.1 349.0h0M619.5 345.6h0M608.6 350.2h0M604.8 339.4h0M618.6 322.0h0M661.3 318.0h0M661.0 327.4h0M651.7 332.8h0M650.1 332.0h0M642.3 327.8h0M643.6 319.3h0M646.7 320.7h0M645.0 308.1h0M656.3 312.5h0M647.1 353.4h0M645.5 346.4h0M643.0 351.9h0M647.2 264.5h0M659.2 261.4h0M648.2 275.6h0M649.7 285.8h0M644.4 289.8h0M651.8 292.9h0M651.3 285.5h0M645.2 284.2h0M482.2 276.8h0M468.4 276.7h0M473.6 268.1h0M473.1 269.5h0" stroke="#2c1a14" stroke-width="2.5" stroke-linecap="round" fill="none" stroke-opacity="0.75"/>
<path d="M433.2 188.8h0M429.1 165.5h0M420.8 171.7h0M426.1 176.2h0M419.2 188.9h0M432.4 175.9h0M419.1 195.8h0M416.4 202.5h0M418.3 188.9h0M424.6 198.4h0M397.2 203.9h0M408.1 208.8h0M421.6 186.2h0M427.9 177.1h0M428.9 174.3h0M410.6 181.0h0M434.6 178.1h0M420.0 167.5h0M433.9 162.6h0M425.6 185.7h0M449.7 213.8h0M448.7 211.2h0M437.4 212.5h0M444.8 215.1h0M445.7 223.8h0M444.2 214.8h0M440.0 219.3h0M434.9 213.1h0M439.7 216.5h0M440.9 215.6h0M436.8 218.8h0M448.3 209.6h0M444.3 215.6h0M450.2 214.8h0M413.7 228.5h0M425.1 241.4h0M425.3 235.3h0M415.7 233.2h0M417.6 239.1h0M409.8 232.9h0M414.8 237.4h0M413.7 239.3h0M413.8 233.6h0M414.9 235.3h0M417.2 228.5h0M413.7 230.9h0M422.3 237.5h0M420.9 236.6h0M415.5 248.6h0M419.3 243.4h0M426.1 240.0h0M431.5 236.6h0M429.3 236.6h0M410.6 251.5h0M419.8 253.9h0M479.2 243.0h0M462.9 227.8h0M467.6 246.6h0M458.8 258.3h0M462.2 261.2h0M462.8 259.6h0M455.0 249.3h0M454.2 251.1h0M466.5 253.0h0M465.5 262.4h0M447.9 261.7h0M448.3 267.9h0M451.1 247.8h0M420.5 249.5h0M434.0 251.5h0M444.4 243.2h0M442.7 252.5h0M438.7 242.8h0M439.6 256.4h0M446.7 247.0h0M441.2 246.0h0M450.5 250.2h0M441.8 229.0h0M439.2 237.8h0M467.1 245.4h0M445.1 238.4h0M463.4 225.0h0M481.5 224.0h0M477.0 228.8h0M462.4 213.9h0M467.7 216.7h0M464.8 217.8h0M462.8 219.8h0M465.5 221.0h0M468.0 221.4h0M466.1 223.7h0M465.8 221.6h0M463.5 212.5h0M466.5 216.7h0M462.9 213.1h0M466.9 222.1h0M464.5 218.0h0M465.6 215.3h0M465.9 218.4h0M461.1 219.0h0M468.9 211.1h0M462.4 219.6h0M463.4 214.0h0M471.0 222.1h0M464.3 212.0h0M527.7 192.1h0M506.5 207.1h0M500.3 206.7h0M519.7 210.0h0M522.5 208.3h0M520.2 188.6h0M518.0 201.7h0M513.2 192.2h0M513.4 183.1h0M508.2 185.6h0M511.5 201.1h0M507.9 170.5h0M511.2 169.1h0M507.7 170.0h0M519.2 178.7h0M515.8 171.6h0M513.0 171.4h0M503.6 180.4h0M513.3 163.2h0M508.0 179.3h0M504.1 167.9h0M507.5 176.7h0M515.2 172.4h0M511.3 165.8h0M506.9 171.4h0M522.7 173.2h0M515.2 162.4h0M518.4 161.9h0M507.6 165.3h0M575.0 163.6h0M573.0 176.6h0M555.9 179.4h0M572.0 163.9h0M558.9 172.8h0M566.9 167.0h0M557.3 183.9h0M549.7 184.8h0M543.5 172.2h0M566.3 163.5h0M542.9 170.7h0M551.1 155.8h0M577.6 175.6h0M571.7 171.8h0M562.5 177.8h0M560.3 188.3h0M564.5 179.8h0M573.6 182.4h0M565.6 185.8h0M568.3 184.7h0M569.8 182.8h0M571.5 180.9h0M576.7 179.2h0M579.4 194.7h0M579.6 195.2h0M572.1 193.2h0M563.4 183.8h0M570.3 188.5h0M555.4 186.5h0M565.2 186.5h0M558.5 198.2h0M609.2 166.8h0M608.5 180.1h0M604.0 181.3h0M618.0 180.0h0M623.1 172.7h0M628.3 167.6h0M634.5 164.4h0M638.2 170.0h0M627.2 159.0h0M643.7 154.0h0M644.6 159.3h0M658.5 150.3h0M650.0 170.5h0M667.4 155.5h0M651.5 168.1h0M647.5 164.7h0M660.9 180.0h0M642.6 183.1h0M649.8 177.2h0M637.3 177.2h0M640.0 169.5h0M638.8 173.8h0M623.5 190.4h0M622.3 178.6h0M606.7 176.6h0M619.8 180.2h0M609.0 177.6h0M598.8 177.1h0M594.0 175.9h0M605.6 186.2h0M595.7 176.3h0M538.6 216.5h0M536.9 214.4h0M537.0 224.5h0M532.7 223.0h0M538.4 225.8h0M528.3 219.3h0M539.5 212.6h0M527.5 217.5h0M530.4 215.3h0M534.1 207.3h0M525.5 205.8h0M526.2 216.3h0M528.0 218.7h0M535.3 206.8h0M537.6 209.0h0M574.0 222.7h0M567.5 228.7h0M559.6 225.1h0M559.7 229.7h0M559.5 212.4h0M559.3 209.9h0M564.8 224.8h0M557.3 212.9h0M556.1 224.2h0M564.2 209.5h0M562.5 206.4h0M566.1 252.6h0M574.7 242.5h0M572.9 235.0h0M569.4 255.8h0M572.0 237.4h0M568.2 227.8h0M571.3 234.6h0M581.7 233.4h0M587.4 229.1h0M577.6 227.1h0M592.8 230.1h0M593.2 214.5h0M591.6 213.8h0M601.8 210.4h0M603.0 224.7h0M600.0 228.6h0M608.3 225.7h0M606.5 221.7h0M614.7 216.8h0M631.4 215.4h0M625.1 218.0h0M637.1 229.3h0M627.4 229.2h0M632.7 219.6h0M634.3 228.0h0M630.4 221.3h0M631.3 221.9h0M627.3 222.1h0M631.0 237.2h0M637.6 246.6h0M649.4 243.3h0M631.7 245.8h0M649.6 240.0h0M649.9 244.0h0M640.5 252.9h0M635.3 250.8h0M626.7 244.1h0M635.4 259.5h0M633.3 264.1h0M621.0 268.4h0M623.3 273.3h0M618.4 265.0h0M617.2 266.1h0M624.9 263.4h0M629.5 252.8h0M618.1 256.9h0M616.0 261.3h0M610.1 253.9h0M601.6 250.0h0M599.9 252.3h0M602.5 256.6h0M594.1 249.4h0M581.6 241.2h0M576.8 258.6h0M583.7 245.9h0M571.2 247.4h0M558.3 265.6h0M566.5 261.4h0M547.0 234.5h0M545.1 237.0h0M543.1 238.7h0M544.3 243.2h0M543.2 240.1h0M541.7 246.3h0M544.1 237.3h0M542.9 245.1h0M539.5 232.3h0M542.2 230.5h0M541.3 231.7h0M546.2 233.7h0M550.1 239.3h0M543.6 233.8h0M545.0 238.6h0M549.7 240.5h0M548.9 232.1h0M353.9 308.0h0M352.8 316.2h0M361.0 318.1h0M365.3 312.5h0M377.0 288.7h0M367.4 306.9h0M407.8 265.5h0M393.5 280.9h0M391.6 272.6h0M405.9 271.1h0M391.7 273.1h0M399.3 273.1h0M392.4 280.6h0M393.3 273.0h0M391.4 278.3h0M394.9 268.9h0M393.0 269.2h0M389.4 267.7h0M384.5 272.7h0M387.2 270.3h0M394.4 275.8h0M392.9 270.0h0M388.1 267.9h0M390.7 269.1h0M393.0 275.3h0M397.2 277.2h0M397.3 272.6h0M429.1 262.7h0M409.3 271.2h0M418.5 283.8h0M417.2 284.0h0M408.9 275.0h0M410.2 275.7h0M405.2 274.6h0M411.4 274.5h0M416.0 268.5h0M412.0 267.4h0M422.6 270.0h0M412.1 265.6h0M414.7 261.1h0M449.1 279.5h0M459.2 289.0h0M442.2 293.0h0M456.1 281.5h0M448.3 291.8h0M423.3 295.4h0M425.7 276.0h0M421.1 282.3h0M435.1 281.7h0M437.2 286.1h0M443.8 278.4h0M448.6 288.7h0M434.9 271.9h0M441.0 281.0h0M440.7 280.4h0M449.5 282.9h0M434.5 294.8h0M432.0 299.1h0M428.6 296.8h0M429.6 296.3h0M424.6 300.8h0M429.0 299.5h0M432.0 304.4h0M429.4 297.6h0M423.0 299.5h0M420.6 298.3h0M420.7 298.0h0M424.7 297.0h0M424.8 301.7h0M431.8 291.3h0M423.5 293.9h0M425.3 293.0h0M432.9 291.3h0M427.3 301.9h0M426.9 301.6h0M434.2 301.3h0M428.4 302.1h0M428.1 293.6h0M389.9 327.3h0M409.4 314.0h0M410.0 328.4h0M398.5 308.4h0M393.6 308.6h0M396.4 306.8h0M404.6 303.2h0M403.7 319.7h0M413.6 308.0h0M427.7 309.1h0M413.8 306.0h0M428.9 319.5h0M432.2 299.5h0M449.8 301.5h0M446.4 306.7h0M465.6 319.4h0M466.4 306.7h0M464.5 296.7h0M461.5 312.6h0M479.3 303.6h0M470.2 331.7h0M478.5 314.7h0M476.4 326.7h0M461.1 342.5h0M448.2 335.5h0M445.5 352.3h0M435.6 341.5h0M436.7 354.6h0M421.2 357.7h0M423.1 360.0h0M427.4 354.6h0M411.4 335.4h0M398.8 346.6h0M396.9 340.5h0M406.3 343.5h0M399.3 328.4h0M398.6 334.8h0M385.3 346.1h0M401.7 337.5h0M381.9 319.7h0M389.1 317.4h0M397.1 355.3h0M389.6 361.4h0M395.5 357.6h0M391.0 368.4h0M379.5 345.0h0M381.4 338.0h0M374.3 355.1h0M390.3 338.4h0M375.3 358.4h0M386.2 328.5h0M395.8 345.5h0M395.9 344.1h0M394.9 345.5h0M399.7 325.6h0M396.6 332.9h0M354.8 341.6h0M364.8 368.6h0M349.2 354.8h0M349.5 365.8h0M359.6 368.0h0M362.7 360.3h0M351.1 350.1h0M349.2 355.1h0M352.8 350.9h0M348.6 339.3h0M361.4 337.2h0M352.6 343.2h0M353.0 332.2h0M357.6 335.2h0M350.5 344.8h0M369.8 339.7h0M352.9 341.3h0M367.7 348.6h0M495.1 343.8h0M487.6 354.7h0M485.4 354.1h0M490.1 351.2h0M475.8 342.2h0M490.0 332.4h0M484.7 333.3h0M488.4 341.6h0M486.1 330.0h0M486.4 332.3h0M490.6 329.5h0M486.2 328.0h0M483.2 339.6h0M488.7 342.4h0M497.4 334.8h0M502.9 350.4h0M496.5 349.1h0M496.6 353.5h0M498.7 360.8h0M495.2 356.3h0M504.8 364.7h0M496.3 369.3h0M490.8 352.7h0M489.2 356.1h0M497.2 350.1h0M489.2 348.2h0M488.2 349.7h0M488.3 355.5h0M489.6 342.7h0M500.4 353.7h0M496.5 345.6h0M497.6 348.1h0M505.8 348.2h0M491.7 349.8h0M497.0 345.6h0M492.8 352.4h0M503.6 359.5h0M508.4 349.4h0M504.9 303.8h0M496.4 298.0h0M502.5 295.9h0M504.4 305.6h0M504.9 306.5h0M497.7 290.8h0M491.4 294.9h0M504.2 297.0h0M498.0 286.5h0M492.5 292.3h0M503.2 285.7h0M505.9 279.5h0M504.6 276.2h0M502.4 288.8h0M496.6 293.0h0M506.1 290.6h0M510.3 291.5h0M508.3 276.6h0M513.2 280.8h0M514.2 284.4h0M530.2 280.3h0M524.2 279.3h0M533.1 287.3h0M538.4 299.4h0M543.8 289.3h0M543.2 288.4h0M533.0 290.4h0M510.9 287.2h0M498.9 294.8h0M538.6 297.2h0M540.8 301.2h0M567.9 297.1h0M562.8 307.6h0M558.6 287.0h0M561.4 287.1h0M575.5 285.7h0M562.1 299.5h0M573.1 286.0h0M577.2 283.2h0M576.9 289.0h0M590.1 289.9h0M575.8 299.8h0M576.6 282.3h0M589.4 299.3h0M585.0 292.4h0M575.4 290.3h0M570.3 310.7h0M577.4 293.0h0M579.4 301.0h0M564.0 308.3h0M570.8 307.6h0M560.8 311.6h0M563.0 302.5h0M625.9 290.4h0M616.8 296.6h0M622.9 289.3h0M622.2 290.6h0M612.4 300.5h0M612.8 302.9h0M614.3 298.2h0M616.4 297.9h0M618.3 281.2h0M616.6 283.2h0M608.7 281.4h0M608.9 282.8h0M607.7 287.2h0M614.5 289.8h0M617.0 283.8h0M612.7 282.2h0M612.4 288.8h0M577.7 321.6h0M589.0 324.9h0M574.5 317.0h0M584.8 318.9h0M579.8 315.7h0M581.6 319.8h0M579.7 322.7h0M573.7 315.7h0M571.1 323.6h0M583.1 324.0h0M572.1 321.4h0M577.7 326.4h0M575.3 327.0h0M576.7 325.9h0M571.2 314.8h0M575.3 313.9h0M575.3 313.2h0M581.1 314.5h0M579.9 314.5h0M578.5 323.9h0M505.7 332.1h0M510.0 335.3h0M513.6 325.6h0M537.9 326.3h0M527.1 329.0h0M536.7 324.5h0M530.9 327.2h0M543.5 322.1h0M534.8 332.6h0M542.0 331.3h0M549.4 325.3h0M543.3 333.7h0M559.1 329.4h0M550.3 325.8h0M563.6 328.9h0M564.1 327.0h0M567.2 328.6h0M564.1 329.1h0M561.3 322.6h0M573.8 327.4h0M566.2 330.1h0M573.2 339.7h0M572.8 342.5h0M569.3 342.5h0M569.0 347.7h0M550.0 341.1h0M561.1 332.0h0M549.1 341.9h0M552.6 337.9h0M545.0 326.2h0M547.2 325.5h0M547.7 330.7h0M534.3 340.9h0M532.1 333.5h0M527.9 335.0h0M539.0 336.7h0M527.6 341.2h0M533.5 336.8h0M528.2 338.6h0M532.1 341.7h0M520.9 349.8h0M524.8 349.0h0M512.9 341.9h0M507.5 354.1h0M511.4 348.5h0M508.7 335.3h0M503.8 332.9h0M522.3 379.1h0M520.6 378.4h0M521.4 371.8h0M535.6 362.7h0M535.6 368.3h0M543.8 366.1h0M543.3 356.5h0M548.5 357.6h0M540.2 367.8h0M563.3 361.9h0M553.4 360.2h0M563.7 359.7h0M575.7 363.2h0M577.3 356.9h0M583.1 349.6h0M584.8 348.5h0M590.5 358.3h0M602.4 358.2h0M597.9 360.8h0M608.5 364.8h0M606.0 362.9h0M609.4 362.2h0M615.4 362.4h0M615.9 367.1h0M620.7 363.9h0M624.1 368.9h0M630.5 368.0h0M632.5 366.7h0M641.3 373.5h0M634.6 365.8h0M647.9 365.9h0M652.7 371.4h0M653.6 373.8h0M655.9 367.0h0M656.3 376.1h0M654.9 371.5h0M646.5 387.0h0M643.4 383.8h0M644.0 385.4h0M635.6 376.6h0M638.5 386.0h0M621.7 387.1h0M619.5 382.9h0M619.6 381.3h0M617.1 387.6h0M616.2 380.8h0M604.2 376.7h0M599.6 383.1h0M591.5 380.6h0M582.0 386.3h0M586.0 375.7h0M576.3 380.2h0M579.7 378.5h0M568.6 388.0h0M562.7 377.5h0M558.2 377.8h0M570.1 379.4h0M565.8 385.1h0M558.7 378.9h0M548.5 378.0h0M554.9 376.7h0M541.6 380.9h0M537.8 383.7h0M524.5 381.9h0M522.7 379.8h0M527.2 388.0h0M517.4 388.4h0M621.5 349.6h0M624.1 346.4h0M614.5 354.1h0M608.7 350.8h0M602.3 344.1h0M600.0 330.1h0M603.1 330.5h0M614.1 323.7h0M613.9 332.0h0M619.1 333.8h0M664.9 316.4h0M652.4 320.1h0M657.0 320.3h0M663.3 324.1h0M657.4 328.6h0M652.8 327.3h0M659.5 335.7h0M654.3 334.9h0M651.4 329.9h0M642.4 316.9h0M638.3 310.8h0M659.2 311.6h0M649.9 304.9h0M658.1 313.3h0M662.6 356.0h0M663.7 355.7h0M657.8 365.6h0M651.4 361.9h0M657.1 357.6h0M646.9 358.1h0M638.7 355.1h0M649.9 359.7h0M648.8 362.5h0M646.6 353.4h0M646.3 350.7h0M642.0 351.4h0M635.0 345.3h0M639.5 359.8h0M648.0 347.2h0M657.0 357.9h0M660.7 353.8h0M663.9 360.0h0M658.5 282.0h0M651.0 278.7h0M651.2 275.2h0M648.2 272.4h0M648.5 275.4h0M643.8 285.9h0M639.2 280.5h0M637.0 283.0h0M644.3 275.5h0M635.6 268.8h0M640.7 269.5h0M636.8 272.8h0M638.3 265.0h0M639.6 276.9h0M646.8 275.6h0M648.3 260.8h0M644.1 272.4h0M649.6 273.6h0M652.1 267.5h0M649.0 273.2h0M651.4 259.9h0M650.2 266.0h0M651.6 290.9h0M656.3 290.2h0M654.6 290.3h0M646.3 287.1h0M642.9 284.9h0M645.0 289.3h0M644.4 283.0h0M649.6 291.3h0M642.2 287.8h0M642.9 283.0h0M652.3 283.4h0M650.0 278.8h0M653.6 284.3h0M648.8 280.1h0M652.4 284.2h0M650.3 284.5h0M481.8 272.5h0M486.6 273.7h0M478.2 282.3h0M471.5 281.0h0M471.0 282.0h0M466.9 276.8h0M467.3 270.3h0M474.9 272.5h0M469.8 269.7h0M472.0 269.0h0" stroke="#2c1a14" stroke-width="3.0" stroke-linecap="round" fill="none" stroke-opacity="0.75"/>
<path d="M429.3 189.5h0M430.7 194.9h0M435.1 180.9h0M450.2 214.1h0M437.0 224.7h0M434.5 219.0h0M435.9 209.9h0M447.0 209.4h0M419.7 231.7h0M412.4 232.9h0M413.3 230.2h0M418.9 238.2h0M411.6 239.5h0M408.6 239.9h0M406.9 249.2h0M404.3 255.2h0M483.7 225.3h0M475.0 231.4h0M464.4 252.1h0M460.2 260.5h0M436.0 266.0h0M418.0 252.8h0M459.1 237.1h0M470.4 240.9h0M463.2 229.8h0M472.3 214.3h0M464.2 223.5h0M467.5 217.0h0M502.6 195.7h0M511.6 205.8h0M513.3 195.0h0M508.8 202.8h0M511.8 207.2h0M516.9 179.2h0M504.9 180.9h0M502.7 168.6h0M524.7 166.9h0M555.4 183.0h0M577.4 177.7h0M561.3 186.9h0M561.5 172.9h0M559.7 172.6h0M559.3 168.2h0M554.3 177.6h0M563.9 192.9h0M573.5 194.7h0M606.9 163.2h0M610.1 175.6h0M618.8 163.0h0M616.3 168.6h0M634.8 168.2h0M652.8 161.0h0M656.7 173.0h0M620.3 168.4h0M624.4 177.1h0M617.1 175.9h0M606.3 184.2h0M543.1 214.4h0M537.8 215.4h0M521.9 206.8h0M528.0 217.1h0M521.5 216.2h0M535.3 218.7h0M573.4 217.1h0M564.6 220.3h0M559.8 216.4h0M563.3 214.8h0M561.2 199.6h0M566.7 217.3h0M576.6 212.8h0M569.4 240.9h0M561.7 243.7h0M572.0 225.2h0M627.6 228.4h0M642.8 258.3h0M622.1 262.4h0M622.7 267.3h0M607.6 247.7h0M606.6 261.9h0M584.9 252.7h0M594.4 250.8h0M590.1 250.9h0M581.6 255.2h0M581.8 256.5h0M551.3 245.1h0M550.7 236.3h0M542.8 239.7h0M541.5 232.4h0M360.9 301.3h0M403.1 270.4h0M386.8 277.5h0M398.1 275.9h0M390.8 277.3h0M405.5 275.4h0M406.7 276.7h0M416.0 270.9h0M422.9 268.1h0M404.9 274.8h0M407.8 280.4h0M398.9 266.8h0M405.7 280.5h0M406.9 265.0h0M454.0 285.0h0M423.9 296.5h0M418.1 277.6h0M427.9 289.6h0M428.0 299.0h0M422.5 298.9h0M419.5 300.2h0M425.4 296.0h0M427.6 298.4h0M429.4 299.3h0M401.9 311.8h0M421.8 301.2h0M435.9 305.3h0M431.6 301.0h0M437.1 303.8h0M475.4 319.6h0M467.1 336.8h0M462.3 341.4h0M457.3 331.6h0M420.9 358.8h0M435.0 337.2h0M399.7 356.3h0M384.2 348.9h0M387.0 349.1h0M382.3 350.3h0M382.7 352.2h0M387.5 357.1h0M386.7 349.7h0M378.2 357.7h0M390.3 348.8h0M393.0 355.0h0M379.5 338.8h0M359.0 360.1h0M347.1 357.5h0M349.3 348.3h0M362.4 349.1h0M359.8 342.2h0M353.2 342.8h0M485.9 345.3h0M492.8 340.2h0M479.2 350.9h0M476.8 335.0h0M485.6 327.5h0M501.9 361.6h0M485.5 366.7h0M491.3 366.2h0M486.1 358.2h0M494.3 347.7h0M505.2 356.8h0M501.2 300.6h0M508.6 311.7h0M501.9 301.5h0M502.8 292.6h0M503.9 281.0h0M495.2 284.8h0M552.8 313.2h0M560.5 296.9h0M565.2 294.7h0M593.9 285.0h0M610.1 299.0h0M626.9 284.4h0M609.7 300.3h0M616.9 289.2h0M601.9 285.3h0M620.4 289.9h0M615.4 287.9h0M588.1 320.2h0M573.6 325.3h0M568.2 325.2h0M530.0 326.8h0M532.4 331.7h0M524.4 323.0h0M567.2 333.7h0M571.1 327.9h0M557.4 340.8h0M537.6 337.8h0M519.1 345.3h0M516.5 373.6h0M527.2 364.1h0M535.2 358.6h0M560.5 357.1h0M594.0 358.4h0M600.3 354.0h0M648.4 371.8h0M644.5 369.4h0M654.9 381.4h0M655.6 377.6h0M650.0 380.0h0M639.7 380.3h0M596.2 385.7h0M583.9 378.2h0M574.2 381.3h0M632.8 338.2h0M619.5 347.4h0M642.9 325.7h0M649.4 313.6h0M648.6 300.0h0M652.9 312.7h0M659.2 359.2h0M653.9 353.0h0M662.0 358.2h0M651.7 367.3h0M651.5 359.2h0M638.9 364.8h0M640.0 356.0h0M647.8 286.5h0M645.5 282.9h0M649.2 280.4h0M647.9 268.7h0M647.9 265.3h0M658.2 266.9h0M649.5 282.1h0M650.9 287.0h0M646.4 288.8h0M651.5 292.6h0M655.7 286.8h0M655.2 286.9h0M655.7 289.4h0M478.5 280.2h0M479.6 284.4h0M473.8 281.5h0M472.1 276.3h0M469.9 276.2h0M467.1 274.1h0M482.1 272.1h0" stroke="#2c1a14" stroke-width="4.5" stroke-linecap="round" fill="none" stroke-opacity="0.75"/>
<polygon points="432.6,173.7 434.8,176.8 422.0,194.7 411.0,203.2 408.4,200.6 417.8,186.2 428.8,174.3" fill="#b07a48" stroke="#b07a48" stroke-width="6" stroke-linejoin="round"/>
<polygon points="444.0,216.5 443.8,217.4 443.4,218.2 442.7,218.9 441.9,219.3 441.0,219.5 440.1,219.3 439.3,218.9 438.6,218.2 438.2,217.4 438.0,216.5 438.2,215.6 438.6,214.8 439.3,214.1 440.1,213.7 441.0,213.5 441.9,213.7 442.7,214.1 443.4,214.8 443.8,215.6" fill="#b07a48" stroke="#b07a48" stroke-width="6" stroke-linejoin="round"/>
<polygon points="420.2,234.0 420.0,235.1 419.4,236.0 418.5,236.8 417.3,237.2 416.0,237.4 414.7,237.2 413.5,236.8 412.6,236.0 412.0,235.1 411.8,234.0 412.0,232.9 412.6,232.0 413.5,231.2 414.7,230.8 416.0,230.6 417.3,230.8 418.5,231.2 419.4,232.0 420.0,232.9" fill="#b07a48" stroke="#b07a48" stroke-width="6" stroke-linejoin="round"/>
<polygon points="410.4,242.1 419.8,236.1 426.6,238.7 423.2,246.3 413.0,249.7" fill="#b07a48" stroke="#b07a48" stroke-width="6" stroke-linejoin="round"/>
<polygon points="474.0,226.0 468.0,240.0 471.7,259.0 450.0,258.0 429.0,254.0 440.0,242.0 458.0,232.0" fill="#b07a48" stroke="#b07a48" stroke-width="6" stroke-linejoin="round"/>
<polygon points="467.1,218.0 467.0,218.7 466.7,219.2 466.2,219.7 465.7,220.0 465.0,220.1 464.3,220.0 463.8,219.7 463.3,219.2 463.0,218.7 462.9,218.0 463.0,217.3 463.3,216.8 463.8,216.3 464.3,216.0 465.0,215.9 465.7,216.0 466.2,216.3 466.7,216.8 467.0,217.3" fill="#b07a48" stroke="#b07a48" stroke-width="6" stroke-linejoin="round"/>
<polygon points="517.6,200.0 517.4,201.8 517.0,203.5 516.3,204.8 515.5,205.7 514.6,205.9 513.7,205.7 512.9,204.8 512.2,203.5 511.8,201.8 511.6,200.0 511.8,198.2 512.2,196.5 512.9,195.2 513.7,194.3 514.6,194.1 515.5,194.3 516.3,195.2 517.0,196.5 517.4,198.2" fill="#b07a48" stroke="#b07a48" stroke-width="6" stroke-linejoin="round"/>
<polygon points="516.2,171.0 516.0,172.3 515.4,173.5 514.5,174.4 513.3,175.0 512.0,175.2 510.7,175.0 509.5,174.4 508.6,173.5 508.0,172.3 507.8,171.0 508.0,169.7 508.6,168.5 509.5,167.6 510.7,167.0 512.0,166.8 513.3,167.0 514.5,167.6 515.4,168.5 516.0,169.7" fill="#b07a48" stroke="#b07a48" stroke-width="6" stroke-linejoin="round"/>
<polygon points="568.6,171.3 568.3,172.6 567.2,173.8 565.5,174.7 563.4,175.3 561.0,175.6 558.6,175.3 556.5,174.7 554.8,173.8 553.7,172.6 553.4,171.3 553.7,170.0 554.8,168.8 556.5,167.9 558.6,167.3 561.0,167.1 563.4,167.3 565.5,167.9 567.2,168.8 568.3,170.0" fill="#b07a48" stroke="#b07a48" stroke-width="6" stroke-linejoin="round"/>
<polygon points="549.3,184.6 565.1,181.2 583.3,184.6 582.1,191.3 562.5,193.1 550.6,191.3" fill="#b07a48" stroke="#b07a48" stroke-width="6" stroke-linejoin="round"/>
<polygon points="597.0,174.0 623.7,170.0 637.0,164.6 656.0,159.3 656.0,180.6 643.6,178.0 623.7,178.0 599.7,180.6" fill="#b07a48" stroke="#b07a48" stroke-width="6" stroke-linejoin="round"/>
<polygon points="542.8,216.5 542.5,217.9 541.5,219.2 540.0,220.3 538.1,220.9 536.0,221.2 533.9,220.9 532.0,220.3 530.5,219.2 529.5,217.9 529.2,216.5 529.5,215.1 530.5,213.8 532.0,212.7 533.9,212.1 536.0,211.8 538.1,212.1 540.0,212.7 541.5,213.8 542.5,215.1" fill="#b07a48" stroke="#b07a48" stroke-width="6" stroke-linejoin="round"/>
<polygon points="569.3,214.5 569.0,216.3 568.0,218.0 566.5,219.3 564.6,220.2 562.5,220.4 560.4,220.2 558.5,219.3 557.0,218.0 556.0,216.3 555.7,214.5 556.0,212.7 557.0,211.0 558.5,209.7 560.4,208.8 562.5,208.6 564.6,208.8 566.5,209.7 568.0,211.0 569.0,212.7" fill="#b07a48" stroke="#b07a48" stroke-width="6" stroke-linejoin="round"/>
<polygon points="563.8,255.0 578.5,228.5 597.0,212.5 605.0,216.5 637.0,233.8 643.6,244.4 630.3,255.0 630.3,268.0 621.0,257.7 597.0,247.0 573.0,259.0" fill="#b07a48" stroke="#b07a48" stroke-width="6" stroke-linejoin="round"/>
<polygon points="549.2,238.0 549.0,239.1 548.4,240.0 547.5,240.8 546.3,241.2 545.0,241.4 543.7,241.2 542.5,240.8 541.6,240.0 541.0,239.1 540.8,238.0 541.0,236.9 541.6,236.0 542.5,235.2 543.7,234.8 545.0,234.6 546.3,234.8 547.5,235.2 548.4,236.0 549.0,236.9" fill="#b07a48" stroke="#b07a48" stroke-width="6" stroke-linejoin="round"/>
<polygon points="358.3,309.7 360.6,302.3 369.6,299.5 367.4,305.7" fill="#b07a48" stroke="#b07a48" stroke-width="6" stroke-linejoin="round"/>
<polygon points="399.2,272.5 399.0,273.4 398.4,274.2 397.5,274.9 396.3,275.3 395.0,275.5 393.7,275.3 392.5,274.9 391.6,274.2 391.0,273.4 390.8,272.5 391.0,271.6 391.6,270.8 392.5,270.1 393.7,269.7 395.0,269.5 396.3,269.7 397.5,270.1 398.4,270.8 399.0,271.6" fill="#b07a48" stroke="#b07a48" stroke-width="6" stroke-linejoin="round"/>
<polygon points="421.5,270.7 421.3,271.8 420.4,272.9 418.9,273.9 416.9,274.8 414.6,275.3 412.2,275.6 410.0,275.5 408.3,275.0 407.0,274.3 406.5,273.3 406.7,272.2 407.6,271.1 409.1,270.1 411.1,269.2 413.4,268.7 415.8,268.4 418.0,268.5 419.7,269.0 421.0,269.7" fill="#b07a48" stroke="#b07a48" stroke-width="6" stroke-linejoin="round"/>
<polygon points="450.9,282.3 450.4,283.9 448.9,285.4 446.3,286.8 443.1,287.8 439.4,288.4 435.8,288.5 432.4,288.0 429.7,287.1 427.9,285.9 427.1,284.3 427.6,282.7 429.1,281.2 431.7,279.8 434.9,278.8 438.6,278.2 442.2,278.1 445.6,278.6 448.3,279.5 450.1,280.7" fill="#b07a48" stroke="#b07a48" stroke-width="6" stroke-linejoin="round"/>
<polygon points="431.4,298.5 431.2,299.2 430.8,299.7 430.0,300.2 429.1,300.5 428.0,300.6 426.9,300.5 426.0,300.2 425.2,299.7 424.8,299.2 424.6,298.5 424.8,297.8 425.2,297.3 426.0,296.8 426.9,296.5 428.0,296.4 429.1,296.5 430.0,296.8 430.8,297.3 431.2,297.8" fill="#b07a48" stroke="#b07a48" stroke-width="6" stroke-linejoin="round"/>
<polygon points="390.6,323.9 402.5,310.6 418.5,313.2 437.0,308.0 461.0,308.0 469.0,318.5 465.0,330.5 445.0,342.5 426.5,353.0 418.5,350.4 407.8,337.0 392.0,331.8" fill="#b07a48" stroke="#b07a48" stroke-width="6" stroke-linejoin="round"/>
<polygon points="394.4,346.5 394.2,349.9 393.3,353.0 392.0,355.4 390.3,357.0 388.5,357.6 386.7,357.0 385.0,355.4 383.7,353.0 382.8,349.9 382.6,346.5 382.8,343.1 383.7,340.0 385.0,337.6 386.7,336.0 388.5,335.4 390.3,336.0 392.0,337.6 393.3,340.0 394.2,343.1" fill="#b07a48" stroke="#b07a48" stroke-width="6" stroke-linejoin="round"/>
<polygon points="361.8,350.4 361.6,353.2 361.1,355.6 360.2,357.6 359.2,358.9 358.0,359.3 356.8,358.9 355.8,357.6 354.9,355.6 354.4,353.2 354.2,350.4 354.4,347.6 354.9,345.2 355.8,343.2 356.8,341.9 358.0,341.5 359.2,341.9 360.2,343.2 361.1,345.2 361.6,347.6" fill="#b07a48" stroke="#b07a48" stroke-width="6" stroke-linejoin="round"/>
<polygon points="491.8,341.7 491.5,343.9 490.9,345.9 490.0,347.5 488.8,348.6 487.5,348.9 486.2,348.6 485.0,347.5 484.1,345.9 483.5,343.9 483.2,341.7 483.5,339.5 484.1,337.5 485.0,335.9 486.2,334.8 487.5,334.5 488.8,334.8 490.0,335.9 490.9,337.5 491.5,339.5" fill="#b07a48" stroke="#b07a48" stroke-width="6" stroke-linejoin="round"/>
<polygon points="502.1,356.0 501.9,357.8 501.1,359.5 500.0,360.8 498.6,361.7 497.0,361.9 495.4,361.7 494.0,360.8 492.9,359.5 492.1,357.8 491.9,356.0 492.1,354.2 492.9,352.5 494.0,351.2 495.4,350.3 497.0,350.1 498.6,350.3 500.0,351.2 501.1,352.5 501.9,354.2" fill="#b07a48" stroke="#b07a48" stroke-width="6" stroke-linejoin="round"/>
<polygon points="503.4,293.0 503.2,296.2 502.8,299.0 502.0,301.3 501.1,302.7 500.0,303.2 498.9,302.7 498.0,301.3 497.2,299.0 496.8,296.2 496.6,293.0 496.8,289.8 497.2,287.0 498.0,284.7 498.9,283.3 500.0,282.8 501.1,283.3 502.0,284.7 502.8,287.0 503.2,289.8" fill="#b07a48" stroke="#b07a48" stroke-width="6" stroke-linejoin="round"/>
<polygon points="507.6,285.7 520.1,281.4 538.1,283.1 535.4,295.0 515.9,297.2 507.6,295.0" fill="#b07a48" stroke="#b07a48" stroke-width="6" stroke-linejoin="round"/>
<polygon points="547.6,305.1 564.5,297.2 577.0,284.7 584.9,287.0 583.7,294.9 570.2,301.7 551.0,306.2" fill="#b07a48" stroke="#b07a48" stroke-width="6" stroke-linejoin="round"/>
<polygon points="620.1,289.3 619.9,290.7 619.1,291.9 618.0,292.9 616.6,293.6 615.0,293.8 613.4,293.6 612.0,292.9 610.9,291.9 610.1,290.7 609.9,289.3 610.1,287.9 610.9,286.7 612.0,285.7 613.4,285.0 615.0,284.8 616.6,285.0 618.0,285.7 619.1,286.7 619.9,287.9" fill="#b07a48" stroke="#b07a48" stroke-width="6" stroke-linejoin="round"/>
<polygon points="581.9,320.5 581.7,321.4 581.3,322.2 580.5,322.9 579.6,323.3 578.5,323.5 577.4,323.3 576.5,322.9 575.7,322.2 575.3,321.4 575.1,320.5 575.3,319.6 575.7,318.8 576.5,318.1 577.4,317.7 578.5,317.5 579.6,317.7 580.5,318.1 581.3,318.8 581.7,319.6" fill="#b07a48" stroke="#b07a48" stroke-width="6" stroke-linejoin="round"/>
<polygon points="504.0,331.8 530.6,325.2 563.8,327.8 574.5,334.5 570.5,342.5 557.2,338.5 543.9,331.8 530.6,342.5 512.0,347.8 504.0,346.5" fill="#b07a48" stroke="#b07a48" stroke-width="6" stroke-linejoin="round"/>
<polygon points="514.6,382.0 530.6,363.7 570.5,359.8 589.0,353.0 602.4,361.0 631.7,369.0 656.0,373.0 656.0,382.0" fill="#b07a48" stroke="#b07a48" stroke-width="6" stroke-linejoin="round"/>
<polygon points="626.5,340.5 625.9,344.4 624.3,348.0 621.7,350.8 618.5,352.6 615.0,353.2 611.5,352.6 608.3,350.8 605.7,348.0 604.1,344.4 603.5,340.5 604.1,336.6 605.7,333.0 608.3,330.2 611.5,328.4 615.0,327.8 618.5,328.4 621.7,330.2 624.3,333.0 625.9,336.6" fill="#b07a48" stroke="#b07a48" stroke-width="6" stroke-linejoin="round"/>
<polygon points="658.0,318.5 657.6,322.2 656.5,325.6 654.7,328.2 652.5,329.9 650.0,330.5 647.5,329.9 645.3,328.2 643.5,325.6 642.4,322.2 642.0,318.5 642.4,314.8 643.5,311.4 645.3,308.8 647.5,307.1 650.0,306.5 652.5,307.1 654.7,308.8 656.5,311.4 657.6,314.8" fill="#b07a48" stroke="#b07a48" stroke-width="6" stroke-linejoin="round"/>
<polygon points="658.0,354.5 657.6,356.5 656.5,358.3 654.7,359.8 652.5,360.7 650.0,361.0 647.5,360.7 645.3,359.8 643.5,358.3 642.4,356.5 642.0,354.5 642.4,352.5 643.5,350.7 645.3,349.2 647.5,348.3 650.0,348.0 652.5,348.3 654.7,349.2 656.5,350.7 657.6,352.5" fill="#b07a48" stroke="#b07a48" stroke-width="6" stroke-linejoin="round"/>
<polygon points="657.0,274.0 656.6,276.2 655.3,278.1 653.3,279.7 650.8,280.7 648.0,281.0 645.2,280.7 642.7,279.7 640.7,278.1 639.4,276.2 639.0,274.0 639.4,271.8 640.7,269.9 642.7,268.3 645.2,267.3 648.0,267.0 650.8,267.3 653.3,268.3 655.3,269.9 656.6,271.8" fill="#b07a48" stroke="#b07a48" stroke-width="6" stroke-linejoin="round"/>
<polygon points="652.4,286.0 652.2,286.9 651.8,287.7 651.0,288.4 650.1,288.8 649.0,289.0 647.9,288.8 647.0,288.4 646.2,287.7 645.8,286.9 645.6,286.0 645.8,285.1 646.2,284.3 647.0,283.6 647.9,283.2 649.0,283.0 650.1,283.2 651.0,283.6 651.8,284.3 652.2,285.1" fill="#b07a48" stroke="#b07a48" stroke-width="6" stroke-linejoin="round"/>
<polygon points="482.8,276.0 482.5,277.8 481.5,279.5 480.0,280.8 478.1,281.7 476.0,281.9 473.9,281.7 472.0,280.8 470.5,279.5 469.5,277.8 469.2,276.0 469.5,274.2 470.5,272.5 472.0,271.2 473.9,270.3 476.0,270.1 478.1,270.3 480.0,271.2 481.5,272.5 482.5,274.2" fill="#b07a48" stroke="#b07a48" stroke-width="6" stroke-linejoin="round"/>
<polygon points="432.6,173.7 434.8,176.8 422.0,194.7 411.0,203.2 408.4,200.6 417.8,186.2 428.8,174.3" fill="#e6e2c0" stroke="#ddd8b4" stroke-width="1.5" stroke-linejoin="round"/>
<polygon points="444.0,216.5 443.8,217.4 443.4,218.2 442.7,218.9 441.9,219.3 441.0,219.5 440.1,219.3 439.3,218.9 438.6,218.2 438.2,217.4 438.0,216.5 438.2,215.6 438.6,214.8 439.3,214.1 440.1,213.7 441.0,213.5 441.9,213.7 442.7,214.1 443.4,214.8 443.8,215.6" fill="#e6e2c0" stroke="#ddd8b4" stroke-width="1.5" stroke-linejoin="round"/>
<polygon points="420.2,234.0 420.0,235.1 419.4,236.0 418.5,236.8 417.3,237.2 416.0,237.4 414.7,237.2 413.5,236.8 412.6,236.0 412.0,235.1 411.8,234.0 412.0,232.9 412.6,232.0 413.5,231.2 414.7,230.8 416.0,230.6 417.3,230.8 418.5,231.2 419.4,232.0 420.0,232.9" fill="#e6e2c0" stroke="#ddd8b4" stroke-width="1.5" stroke-linejoin="round"/>
<polygon points="410.4,242.1 419.8,236.1 426.6,238.7 423.2,246.3 413.0,249.7" fill="#e6e2c0" stroke="#ddd8b4" stroke-width="1.5" stroke-linejoin="round"/>
<polygon points="474.0,226.0 468.0,240.0 471.7,259.0 450.0,258.0 429.0,254.0 440.0,242.0 458.0,232.0" fill="#e6e2c0" stroke="#ddd8b4" stroke-width="1.5" stroke-linejoin="round"/>
<polygon points="467.1,218.0 467.0,218.7 466.7,219.2 466.2,219.7 465.7,220.0 465.0,220.1 464.3,220.0 463.8,219.7 463.3,219.2 463.0,218.7 462.9,218.0 463.0,217.3 463.3,216.8 463.8,216.3 464.3,216.0 465.0,215.9 465.7,216.0 466.2,216.3 466.7,216.8 467.0,217.3" fill="#e6e2c0" stroke="#ddd8b4" stroke-width="1.5" stroke-linejoin="round"/>
<polygon points="517.6,200.0 517.4,201.8 517.0,203.5 516.3,204.8 515.5,205.7 514.6,205.9 513.7,205.7 512.9,204.8 512.2,203.5 511.8,201.8 511.6,200.0 511.8,198.2 512.2,196.5 512.9,195.2 513.7,194.3 514.6,194.1 515.5,194.3 516.3,195.2 517.0,196.5 517.4,198.2" fill="#e6e2c0" stroke="#ddd8b4" stroke-width="1.5" stroke-linejoin="round"/>
<polygon points="516.2,171.0 516.0,172.3 515.4,173.5 514.5,174.4 513.3,175.0 512.0,175.2 510.7,175.0 509.5,174.4 508.6,173.5 508.0,172.3 507.8,171.0 508.0,169.7 508.6,168.5 509.5,167.6 510.7,167.0 512.0,166.8 513.3,167.0 514.5,167.6 515.4,168.5 516.0,169.7" fill="#e6e2c0" stroke="#ddd8b4" stroke-width="1.5" stroke-linejoin="round"/>
<polygon points="568.6,171.3 568.3,172.6 567.2,173.8 565.5,174.7 563.4,175.3 561.0,175.6 558.6,175.3 556.5,174.7 554.8,173.8 553.7,172.6 553.4,171.3 553.7,170.0 554.8,168.8 556.5,167.9 558.6,167.3 561.0,167.1 563.4,167.3 565.5,167.9 567.2,168.8 568.3,170.0" fill="#e6e2c0" stroke="#ddd8b4" stroke-width="1.5" stroke-linejoin="round"/>
<polygon points="549.3,184.6 565.1,181.2 583.3,184.6 582.1,191.3 562.5,193.1 550.6,191.3" fill="#e6e2c0" stroke="#ddd8b4" stroke-width="1.5" stroke-linejoin="round"/>
<polygon points="597.0,174.0 623.7,170.0 637.0,164.6 656.0,159.3 656.0,180.6 643.6,178.0 623.7,178.0 599.7,180.6" fill="#e6e2c0" stroke="#ddd8b4" stroke-width="1.5" stroke-linejoin="round"/>
<polygon points="542.8,216.5 542.5,217.9 541.5,219.2 540.0,220.3 538.1,220.9 536.0,221.2 533.9,220.9 532.0,220.3 530.5,219.2 529.5,217.9 529.2,216.5 529.5,215.1 530.5,213.8 532.0,212.7 533.9,212.1 536.0,211.8 538.1,212.1 540.0,212.7 541.5,213.8 542.5,215.1" fill="#e6e2c0" stroke="#ddd8b4" stroke-width="1.5" stroke-linejoin="round"/>
<polygon points="569.3,214.5 569.0,216.3 568.0,218.0 566.5,219.3 564.6,220.2 562.5,220.4 560.4,220.2 558.5,219.3 557.0,218.0 556.0,216.3 555.7,214.5 556.0,212.7 557.0,211.0 558.5,209.7 560.4,208.8 562.5,208.6 564.6,208.8 566.5,209.7 568.0,211.0 569.0,212.7" fill="#e6e2c0" stroke="#ddd8b4" stroke-width="1.5" stroke-linejoin="round"/>
<polygon points="563.8,255.0 578.5,228.5 597.0,212.5 605.0,216.5 637.0,233.8 643.6,244.4 630.3,255.0 630.3,268.0 621.0,257.7 597.0,247.0 573.0,259.0" fill="#e6e2c0" stroke="#ddd8b4" stroke-width="1.5" stroke-linejoin="round"/>
<polygon points="549.2,238.0 549.0,239.1 548.4,240.0 547.5,240.8 546.3,241.2 545.0,241.4 543.7,241.2 542.5,240.8 541.6,240.0 541.0,239.1 540.8,238.0 541.0,236.9 541.6,236.0 542.5,235.2 543.7,234.8 545.0,234.6 546.3,234.8 547.5,235.2 548.4,236.0 549.0,236.9" fill="#e6e2c0" stroke="#ddd8b4" stroke-width="1.5" stroke-linejoin="round"/>
<polygon points="358.3,309.7 360.6,302.3 369.6,299.5 367.4,305.7" fill="#e6e2c0" stroke="#ddd8b4" stroke-width="1.5" stroke-linejoin="round"/>
<polygon points="399.2,272.5 399.0,273.4 398.4,274.2 397.5,274.9 396.3,275.3 395.0,275.5 393.7,275.3 392.5,274.9 391.6,274.2 391.0,273.4 390.8,272.5 391.0,271.6 391.6,270.8 392.5,270.1 393.7,269.7 395.0,269.5 396.3,269.7 397.5,270.1 398.4,270.8 399.0,271.6" fill="#e6e2c0" stroke="#ddd8b4" stroke-width="1.5" stroke-linejoin="round"/>
<polygon points="421.5,270.7 421.3,271.8 420.4,272.9 418.9,273.9 416.9,274.8 414.6,275.3 412.2,275.6 410.0,275.5 408.3,275.0 407.0,274.3 406.5,273.3 406.7,272.2 407.6,271.1 409.1,270.1 411.1,269.2 413.4,268.7 415.8,268.4 418.0,268.5 419.7,269.0 421.0,269.7" fill="#e6e2c0" stroke="#ddd8b4" stroke-width="1.5" stroke-linejoin="round"/>
<polygon points="450.9,282.3 450.4,283.9 448.9,285.4 446.3,286.8 443.1,287.8 439.4,288.4 435.8,288.5 432.4,288.0 429.7,287.1 427.9,285.9 427.1,284.3 427.6,282.7 429.1,281.2 431.7,279.8 434.9,278.8 438.6,278.2 442.2,278.1 445.6,278.6 448.3,279.5 450.1,280.7" fill="#e6e2c0" stroke="#ddd8b4" stroke-width="1.5" stroke-linejoin="round"/>
<polygon points="431.4,298.5 431.2,299.2 430.8,299.7 430.0,300.2 429.1,300.5 428.0,300.6 426.9,300.5 426.0,300.2 425.2,299.7 424.8,299.2 424.6,298.5 424.8,297.8 425.2,297.3 426.0,296.8 426.9,296.5 428.0,296.4 429.1,296.5 430.0,296.8 430.8,297.3 431.2,297.8" fill="#e6e2c0" stroke="#ddd8b4" stroke-width="1.5" stroke-linejoin="round"/>
<polygon points="390.6,323.9 402.5,310.6 418.5,313.2 437.0,308.0 461.0,308.0 469.0,318.5 465.0,330.5 445.0,342.5 426.5,353.0 418.5,350.4 407.8,337.0 392.0,331.8" fill="#e6e2c0" stroke="#ddd8b4" stroke-width="1.5" stroke-linejoin="round"/>
<polygon points="394.4,346.5 394.2,349.9 393.3,353.0 392.0,355.4 390.3,357.0 388.5,357.6 386.7,357.0 385.0,355.4 383.7,353.0 382.8,349.9 382.6,346.5 382.8,343.1 383.7,340.0 385.0,337.6 386.7,336.0 388.5,335.4 390.3,336.0 392.0,337.6 393.3,340.0 394.2,343.1" fill="#e6e2c0" stroke="#ddd8b4" stroke-width="1.5" stroke-linejoin="round"/>
<polygon points="361.8,350.4 361.6,353.2 361.1,355.6 360.2,357.6 359.2,358.9 358.0,359.3 356.8,358.9 355.8,357.6 354.9,355.6 354.4,353.2 354.2,350.4 354.4,347.6 354.9,345.2 355.8,343.2 356.8,341.9 358.0,341.5 359.2,341.9 360.2,343.2 361.1,345.2 361.6,347.6" fill="#e6e2c0" stroke="#ddd8b4" stroke-width="1.5" stroke-linejoin="round"/>
<polygon points="491.8,341.7 491.5,343.9 490.9,345.9 490.0,347.5 488.8,348.6 487.5,348.9 486.2,348.6 485.0,347.5 484.1,345.9 483.5,343.9 483.2,341.7 483.5,339.5 484.1,337.5 485.0,335.9 486.2,334.8 487.5,334.5 488.8,334.8 490.0,335.9 490.9,337.5 491.5,339.5" fill="#e6e2c0" stroke="#ddd8b4" stroke-width="1.5" stroke-linejoin="round"/>
<polygon points="502.1,356.0 501.9,357.8 501.1,359.5 500.0,360.8 498.6,361.7 497.0,361.9 495.4,361.7 494.0,360.8 492.9,359.5 492.1,357.8 491.9,356.0 492.1,354.2 492.9,352.5 494.0,351.2 495.4,350.3 497.0,350.1 498.6,350.3 500.0,351.2 501.1,352.5 501.9,354.2" fill="#e6e2c0" stroke="#ddd8b4" stroke-width="1.5" stroke-linejoin="round"/>
<polygon points="503.4,293.0 503.2,296.2 502.8,299.0 502.0,301.3 501.1,302.7 500.0,303.2 498.9,302.7 498.0,301.3 497.2,299.0 496.8,296.2 496.6,293.0 496.8,289.8 497.2,287.0 498.0,284.7 498.9,283.3 500.0,282.8 501.1,283.3 502.0,284.7 502.8,287.0 503.2,289.8" fill="#e6e2c0" stroke="#ddd8b4" stroke-width="1.5" stroke-linejoin="round"/>
<polygon points="507.6,285.7 520.1,281.4 538.1,283.1 535.4,295.0 515.9,297.2 507.6,295.0" fill="#e6e2c0" stroke="#ddd8b4" stroke-width="1.5" stroke-linejoin="round"/>
<polygon points="547.6,305.1 564.5,297.2 577.0,284.7 584.9,287.0 583.7,294.9 570.2,301.7 551.0,306.2" fill="#e6e2c0" stroke="#ddd8b4" stroke-width="1.5" stroke-linejoin="round"/>
<polygon points="620.1,289.3 619.9,290.7 619.1,291.9 618.0,292.9 616.6,293.6 615.0,293.8 613.4,293.6 612.0,292.9 610.9,291.9 610.1,290.7 609.9,289.3 610.1,287.9 610.9,286.7 612.0,285.7 613.4,285.0 615.0,284.8 616.6,285.0 618.0,285.7 619.1,286.7 619.9,287.9" fill="#e6e2c0" stroke="#ddd8b4" stroke-width="1.5" stroke-linejoin="round"/>
<polygon points="581.9,320.5 581.7,321.4 581.3,322.2 580.5,322.9 579.6,323.3 578.5,323.5 577.4,323.3 576.5,322.9 575.7,322.2 575.3,321.4 575.1,320.5 575.3,319.6 575.7,318.8 576.5,318.1 577.4,317.7 578.5,317.5 579.6,317.7 580.5,318.1 581.3,318.8 581.7,319.6" fill="#e6e2c0" stroke="#ddd8b4" stroke-width="1.5" stroke-linejoin="round"/>
<polygon points="504.0,331.8 530.6,325.2 563.8,327.8 574.5,334.5 570.5,342.5 557.2,338.5 543.9,331.8 530.6,342.5 512.0,347.8 504.0,346.5" fill="#e6e2c0" stroke="#ddd8b4" stroke-width="1.5" stroke-linejoin="round"/>
<polygon points="514.6,382.0 530.6,363.7 570.5,359.8 589.0,353.0 602.4,361.0 631.7,369.0 656.0,373.0 656.0,382.0" fill="#e6e2c0" stroke="#ddd8b4" stroke-width="1.5" stroke-linejoin="round"/>
<polygon points="626.5,340.5 625.9,344.4 624.3,348.0 621.7,350.8 618.5,352.6 615.0,353.2 611.5,352.6 608.3,350.8 605.7,348.0 604.1,344.4 603.5,340.5 604.1,336.6 605.7,333.0 608.3,330.2 611.5,328.4 615.0,327.8 618.5,328.4 621.7,330.2 624.3,333.0 625.9,336.6" fill="#e6e2c0" stroke="#ddd8b4" stroke-width="1.5" stroke-linejoin="round"/>
<polygon points="658.0,318.5 657.6,322.2 656.5,325.6 654.7,328.2 652.5,329.9 650.0,330.5 647.5,329.9 645.3,328.2 643.5,325.6 642.4,322.2 642.0,318.5 642.4,314.8 643.5,311.4 645.3,308.8 647.5,307.1 650.0,306.5 652.5,307.1 654.7,308.8 656.5,311.4 657.6,314.8" fill="#e6e2c0" stroke="#ddd8b4" stroke-width="1.5" stroke-linejoin="round"/>
<polygon points="658.0,354.5 657.6,356.5 656.5,358.3 654.7,359.8 652.5,360.7 650.0,361.0 647.5,360.7 645.3,359.8 643.5,358.3 642.4,356.5 642.0,354.5 642.4,352.5 643.5,350.7 645.3,349.2 647.5,348.3 650.0,348.0 652.5,348.3 654.7,349.2 656.5,350.7 657.6,352.5" fill="#e6e2c0" stroke="#ddd8b4" stroke-width="1.5" stroke-linejoin="round"/>
<polygon points="657.0,274.0 656.6,276.2 655.3,278.1 653.3,279.7 650.8,280.7 648.0,281.0 645.2,280.7 642.7,279.7 640.7,278.1 639.4,276.2 639.0,274.0 639.4,271.8 640.7,269.9 642.7,268.3 645.2,267.3 648.0,267.0 650.8,267.3 653.3,268.3 655.3,269.9 656.6,271.8" fill="#e6e2c0" stroke="#ddd8b4" stroke-width="1.5" stroke-linejoin="round"/>
<polygon points="652.4,286.0 652.2,286.9 651.8,287.7 651.0,288.4 650.1,288.8 649.0,289.0 647.9,288.8 647.0,288.4 646.2,287.7 645.8,286.9 645.6,286.0 645.8,285.1 646.2,284.3 647.0,283.6 647.9,283.2 649.0,283.0 650.1,283.2 651.0,283.6 651.8,284.3 652.2,285.1" fill="#e6e2c0" stroke="#ddd8b4" stroke-width="1.5" stroke-linejoin="round"/>
<polygon points="482.8,276.0 482.5,277.8 481.5,279.5 480.0,280.8 478.1,281.7 476.0,281.9 473.9,281.7 472.0,280.8 470.5,279.5 469.5,277.8 469.2,276.0 469.5,274.2 470.5,272.5 472.0,271.2 473.9,270.3 476.0,270.1 478.1,270.3 480.0,271.2 481.5,272.5 482.5,274.2" fill="#e6e2c0" stroke="#ddd8b4" stroke-width="1.5" stroke-linejoin="round"/>
<path d="M615.1 351.0h0M619.7 333.1h0M609.9 350.2h0M620.9 344.9h0M603.2 234.7h0M619.5 246.9h0M623.4 233.6h0M602.7 246.2h0M626.2 242.2h0M603.8 246.6h0M572.4 369.1h0M571.3 370.0h0M579.6 374.8h0M547.8 368.2h0" stroke="#34408a" stroke-width="3.0" stroke-linecap="round" fill="none" stroke-opacity="0.85"/>
<path d="M610.8 347.4h0M606.4 344.9h0M596.3 238.3h0M597.6 231.0h0M435.2 325.9h0M452.2 329.9h0M435.6 323.5h0M590.8 371.2h0M566.1 366.0h0" stroke="#34408a" stroke-width="3.5" stroke-linecap="round" fill="none" stroke-opacity="0.85"/>
<path d="M608.3 341.3h0M455.9 330.2h0M449.3 332.9h0M584.8 369.1h0" stroke="#34408a" stroke-width="2.5" stroke-linecap="round" fill="none" stroke-opacity="0.85"/>
<path d="M617.8 335.3h0M598.8 246.2h0M598.1 244.9h0M614.9 240.4h0M445.4 330.3h0M581.8 374.3h0M568.0 368.7h0" stroke="#34408a" stroke-width="4.5" stroke-linecap="round" fill="none" stroke-opacity="0.85"/>
<path d="M621.1 340.7h0M623.3 347.4h0M618.1 244.3h0M607.1 232.7h0M624.6 236.5h0M593.2 372.8h0" stroke="#34408a" stroke-width="4.0" stroke-linecap="round" fill="none" stroke-opacity="0.85"/>
</g></g>
<rect x="202.30" y="721.00" width="8.20" height="51.50" fill="#fff" stroke="#000" stroke-width="2.8" stroke-linejoin="round"/>
<rect x="219.26" y="694.55" width="8.20" height="77.95" fill="#fff" stroke="#000" stroke-width="2.8" stroke-linejoin="round"/>
<rect x="224.96" y="719.60" width="9.3" height="52.90" fill="#000" rx="0.8"/>
<rect x="236.22" y="694.55" width="8.20" height="77.95" fill="#fff" stroke="#000" stroke-width="2.8" stroke-linejoin="round"/>
<rect x="270.14" y="721.00" width="8.20" height="51.50" fill="#fff" stroke="#000" stroke-width="2.8" stroke-linejoin="round"/>
<rect x="275.84" y="719.60" width="9.3" height="52.90" fill="#000" rx="0.8"/>
<rect x="287.10" y="694.55" width="8.20" height="77.95" fill="#fff" stroke="#000" stroke-width="2.8" stroke-linejoin="round"/>
<rect x="292.80" y="693.15" width="9.3" height="79.35" fill="#000" rx="0.8"/>
<rect x="304.06" y="694.55" width="8.20" height="77.95" fill="#fff" stroke="#000" stroke-width="2.8" stroke-linejoin="round"/>
<rect x="309.76" y="693.15" width="9.3" height="79.35" fill="#000" rx="0.8"/>
<rect x="321.02" y="694.55" width="8.20" height="77.95" fill="#fff" stroke="#000" stroke-width="2.8" stroke-linejoin="round"/>
<rect x="326.72" y="693.15" width="9.3" height="79.35" fill="#000" rx="0.8"/>
<rect x="337.98" y="694.55" width="8.20" height="77.95" fill="#fff" stroke="#000" stroke-width="2.8" stroke-linejoin="round"/>
<rect x="343.68" y="693.15" width="9.3" height="79.35" fill="#000" rx="0.8"/>
<rect x="354.94" y="694.55" width="8.20" height="77.95" fill="#fff" stroke="#000" stroke-width="2.8" stroke-linejoin="round"/>
<rect x="360.64" y="693.15" width="9.3" height="79.35" fill="#000" rx="0.8"/>
<rect x="371.90" y="694.55" width="8.20" height="77.95" fill="#fff" stroke="#000" stroke-width="2.8" stroke-linejoin="round"/>
<rect x="377.60" y="693.15" width="9.3" height="79.35" fill="#000" rx="0.8"/>
<rect x="388.86" y="668.10" width="8.20" height="104.40" fill="#fff" stroke="#000" stroke-width="2.8" stroke-linejoin="round"/>
<rect x="394.56" y="666.70" width="9.3" height="105.80" fill="#000" rx="0.8"/>
<rect x="405.82" y="615.20" width="8.20" height="157.30" fill="#fff" stroke="#000" stroke-width="2.8" stroke-linejoin="round"/>
<rect x="411.52" y="613.80" width="9.3" height="158.70" fill="#000" rx="0.8"/>
<rect x="422.78" y="615.20" width="8.20" height="157.30" fill="#fff" stroke="#000" stroke-width="2.8" stroke-linejoin="round"/>
<rect x="428.48" y="613.80" width="9.3" height="158.70" fill="#000" rx="0.8"/>
<rect x="439.74" y="615.20" width="8.20" height="157.30" fill="#fff" stroke="#000" stroke-width="2.8" stroke-linejoin="round"/>
<rect x="445.44" y="613.80" width="9.3" height="158.70" fill="#000" rx="0.8"/>
<rect x="456.70" y="615.20" width="8.20" height="157.30" fill="#fff" stroke="#000" stroke-width="2.8" stroke-linejoin="round"/>
<rect x="462.40" y="613.80" width="9.3" height="158.70" fill="#000" rx="0.8"/>
<rect x="473.66" y="615.20" width="8.20" height="157.30" fill="#fff" stroke="#000" stroke-width="2.8" stroke-linejoin="round"/>
<rect x="479.36" y="613.80" width="9.3" height="158.70" fill="#000" rx="0.8"/>
<rect x="490.62" y="615.20" width="8.20" height="157.30" fill="#fff" stroke="#000" stroke-width="2.8" stroke-linejoin="round"/>
<rect x="496.32" y="613.80" width="9.3" height="158.70" fill="#000" rx="0.8"/>
<rect x="507.58" y="747.45" width="8.20" height="25.05" fill="#fff" stroke="#000" stroke-width="2.8" stroke-linejoin="round"/>
<rect x="513.28" y="719.60" width="9.3" height="52.90" fill="#000" rx="0.8"/>
<rect x="524.54" y="721.00" width="8.20" height="51.50" fill="#fff" stroke="#000" stroke-width="2.8" stroke-linejoin="round"/>
<rect x="530.24" y="613.80" width="9.3" height="158.70" fill="#000" rx="0.8"/>
<rect x="541.50" y="721.00" width="8.20" height="51.50" fill="#fff" stroke="#000" stroke-width="2.8" stroke-linejoin="round"/>
<rect x="547.20" y="693.15" width="9.3" height="79.35" fill="#000" rx="0.8"/>
<rect x="558.46" y="694.55" width="8.20" height="77.95" fill="#fff" stroke="#000" stroke-width="2.8" stroke-linejoin="round"/>
<rect x="564.16" y="613.80" width="9.3" height="158.70" fill="#000" rx="0.8"/>
<rect x="575.42" y="694.55" width="8.20" height="77.95" fill="#fff" stroke="#000" stroke-width="2.8" stroke-linejoin="round"/>
<rect x="581.12" y="613.80" width="9.3" height="158.70" fill="#000" rx="0.8"/>
<rect x="592.38" y="694.55" width="8.20" height="77.95" fill="#fff" stroke="#000" stroke-width="2.8" stroke-linejoin="round"/>
<rect x="598.08" y="613.80" width="9.3" height="158.70" fill="#000" rx="0.8"/>
<rect x="609.34" y="694.55" width="8.20" height="77.95" fill="#fff" stroke="#000" stroke-width="2.8" stroke-linejoin="round"/>
<rect x="615.04" y="613.80" width="9.3" height="158.70" fill="#000" rx="0.8"/>
<rect x="626.30" y="694.55" width="8.20" height="77.95" fill="#fff" stroke="#000" stroke-width="2.8" stroke-linejoin="round"/>
<rect x="632.00" y="534.45" width="9.3" height="238.05" fill="#000" rx="0.8"/>
<rect x="643.26" y="694.55" width="8.20" height="77.95" fill="#fff" stroke="#000" stroke-width="2.8" stroke-linejoin="round"/>
<rect x="648.96" y="534.45" width="9.3" height="238.05" fill="#000" rx="0.8"/>
<rect x="660.22" y="694.55" width="8.20" height="77.95" fill="#fff" stroke="#000" stroke-width="2.8" stroke-linejoin="round"/>
<rect x="665.92" y="534.45" width="9.3" height="238.05" fill="#000" rx="0.8"/>
<rect x="677.18" y="694.55" width="8.20" height="77.95" fill="#fff" stroke="#000" stroke-width="2.8" stroke-linejoin="round"/>
<rect x="682.88" y="613.80" width="9.3" height="158.70" fill="#000" rx="0.8"/>
<rect x="694.14" y="694.55" width="8.20" height="77.95" fill="#fff" stroke="#000" stroke-width="2.8" stroke-linejoin="round"/>
<rect x="699.84" y="534.45" width="9.3" height="238.05" fill="#000" rx="0.8"/>
<rect x="711.10" y="694.55" width="8.20" height="77.95" fill="#fff" stroke="#000" stroke-width="2.8" stroke-linejoin="round"/>
<rect x="716.80" y="534.45" width="9.3" height="238.05" fill="#000" rx="0.8"/>
<rect x="728.06" y="615.20" width="8.20" height="157.30" fill="#fff" stroke="#000" stroke-width="2.8" stroke-linejoin="round"/>
<rect x="733.76" y="534.45" width="9.3" height="238.05" fill="#000" rx="0.8"/>
<rect x="745.02" y="615.20" width="8.20" height="157.30" fill="#fff" stroke="#000" stroke-width="2.8" stroke-linejoin="round"/>
<rect x="750.72" y="534.45" width="9.3" height="238.05" fill="#000" rx="0.8"/>
<rect x="761.98" y="615.20" width="8.20" height="157.30" fill="#fff" stroke="#000" stroke-width="2.8" stroke-linejoin="round"/>
<rect x="767.68" y="534.45" width="9.3" height="238.05" fill="#000" rx="0.8"/>
<rect x="778.94" y="615.20" width="8.20" height="157.30" fill="#fff" stroke="#000" stroke-width="2.8" stroke-linejoin="round"/>
<rect x="784.64" y="534.45" width="9.3" height="238.05" fill="#000" rx="0.8"/>
<rect x="795.90" y="615.20" width="8.20" height="157.30" fill="#fff" stroke="#000" stroke-width="2.8" stroke-linejoin="round"/>
<rect x="801.60" y="534.45" width="9.3" height="238.05" fill="#000" rx="0.8"/>
<rect x="812.86" y="615.20" width="8.20" height="157.30" fill="#fff" stroke="#000" stroke-width="2.8" stroke-linejoin="round"/>
<rect x="818.56" y="534.45" width="9.3" height="238.05" fill="#000" rx="0.8"/>
<rect x="829.82" y="615.20" width="8.20" height="157.30" fill="#fff" stroke="#000" stroke-width="2.8" stroke-linejoin="round"/>
<rect x="835.52" y="534.45" width="9.3" height="238.05" fill="#000" rx="0.8"/>
<rect x="846.78" y="615.20" width="8.20" height="157.30" fill="#fff" stroke="#000" stroke-width="2.8" stroke-linejoin="round"/>
<rect x="852.48" y="534.45" width="9.3" height="238.05" fill="#000" rx="0.8"/>
<rect x="863.74" y="615.20" width="8.20" height="157.30" fill="#fff" stroke="#000" stroke-width="2.8" stroke-linejoin="round"/>
<rect x="869.44" y="534.45" width="9.3" height="238.05" fill="#000" rx="0.8"/>
<rect x="880.70" y="694.55" width="8.20" height="77.95" fill="#fff" stroke="#000" stroke-width="2.8" stroke-linejoin="round"/>
<rect x="886.40" y="534.45" width="9.3" height="238.05" fill="#000" rx="0.8"/>
<rect x="897.66" y="668.10" width="8.20" height="104.40" fill="#fff" stroke="#000" stroke-width="2.8" stroke-linejoin="round"/>
<rect x="903.36" y="534.45" width="9.3" height="238.05" fill="#000" rx="0.8"/>
<rect x="914.62" y="694.55" width="8.20" height="77.95" fill="#fff" stroke="#000" stroke-width="2.8" stroke-linejoin="round"/>
<rect x="920.32" y="534.45" width="9.3" height="238.05" fill="#000" rx="0.8"/>
<rect x="937.28" y="746.05" width="9.3" height="26.45" fill="#000" rx="0.8"/>
<rect x="954.24" y="719.60" width="9.3" height="52.90" fill="#000" rx="0.8"/>
<rect x="971.20" y="613.80" width="9.3" height="158.70" fill="#000" rx="0.8"/>
<rect x="988.16" y="666.70" width="9.3" height="105.80" fill="#000" rx="0.8"/>
<rect x="1005.12" y="613.80" width="9.3" height="158.70" fill="#000" rx="0.8"/>
<rect x="1022.08" y="693.15" width="9.3" height="79.35" fill="#000" rx="0.8"/>
<rect x="1039.04" y="666.70" width="9.3" height="105.80" fill="#000" rx="0.8"/>
<rect x="1056.00" y="693.15" width="9.3" height="79.35" fill="#000" rx="0.8"/>
<rect x="1072.96" y="693.15" width="9.3" height="79.35" fill="#000" rx="0.8"/>
<rect x="1089.92" y="719.60" width="9.3" height="52.90" fill="#000" rx="0.8"/>
<rect x="1106.88" y="613.80" width="9.3" height="158.70" fill="#000" rx="0.8"/>
<rect x="1123.84" y="613.80" width="9.3" height="158.70" fill="#000" rx="0.8"/>
<rect x="1140.80" y="613.80" width="9.3" height="158.70" fill="#000" rx="0.8"/>
<rect x="1157.76" y="534.45" width="9.3" height="238.05" fill="#000" rx="0.8"/>
<rect x="199.3" y="506" width="3.7" height="268" fill="#000"/>
<rect x="193" y="771" width="976" height="3.5" fill="#000"/>
<rect x="192.5" y="506.00" width="8" height="3.6" fill="#000"/>
<text x="177.30" y="517.20" font-size="27"  text-anchor="end" fill="#000">10</text>
<rect x="192.5" y="558.90" width="8" height="3.6" fill="#000"/>
<text x="177.30" y="570.10" font-size="27"  text-anchor="end" fill="#000">8</text>
<rect x="192.5" y="611.80" width="8" height="3.6" fill="#000"/>
<text x="177.30" y="623.00" font-size="27"  text-anchor="end" fill="#000">6</text>
<rect x="192.5" y="664.70" width="8" height="3.6" fill="#000"/>
<text x="177.30" y="675.90" font-size="27"  text-anchor="end" fill="#000">4</text>
<rect x="192.5" y="717.60" width="8" height="3.6" fill="#000"/>
<text x="177.30" y="728.80" font-size="27"  text-anchor="end" fill="#000">2</text>
<rect x="192.5" y="770.50" width="8" height="3.6" fill="#000"/>
<text x="177.30" y="781.70" font-size="27"  text-anchor="end" fill="#000">0</text>
<rect x="199.10" y="773" width="3.5" height="4" fill="#000"/>
<rect x="216.06" y="773" width="3.5" height="4" fill="#000"/>
<rect x="233.02" y="773" width="3.5" height="4" fill="#000"/>
<rect x="249.98" y="773" width="3.5" height="4" fill="#000"/>
<rect x="266.94" y="773" width="3.5" height="4" fill="#000"/>
<rect x="283.90" y="773" width="3.5" height="4" fill="#000"/>
<rect x="300.86" y="773" width="3.5" height="4" fill="#000"/>
<rect x="317.82" y="773" width="3.5" height="4" fill="#000"/>
<rect x="334.78" y="773" width="3.5" height="4" fill="#000"/>
<rect x="351.74" y="773" width="3.5" height="4" fill="#000"/>
<rect x="368.70" y="773" width="3.5" height="4" fill="#000"/>
<rect x="385.66" y="773" width="3.5" height="4" fill="#000"/>
<rect x="402.62" y="773" width="3.5" height="4" fill="#000"/>
<rect x="419.58" y="773" width="3.5" height="4" fill="#000"/>
<rect x="436.54" y="773" width="3.5" height="4" fill="#000"/>
<rect x="453.50" y="773" width="3.5" height="4" fill="#000"/>
<rect x="470.46" y="773" width="3.5" height="4" fill="#000"/>
<rect x="487.42" y="773" width="3.5" height="4" fill="#000"/>
<rect x="504.38" y="773" width="3.5" height="4" fill="#000"/>
<rect x="521.34" y="773" width="3.5" height="4" fill="#000"/>
<rect x="538.30" y="773" width="3.5" height="4" fill="#000"/>
<rect x="555.26" y="773" width="3.5" height="4" fill="#000"/>
<rect x="572.22" y="773" width="3.5" height="4" fill="#000"/>
<rect x="589.18" y="773" width="3.5" height="4" fill="#000"/>
<rect x="606.14" y="773" width="3.5" height="4" fill="#000"/>
<rect x="623.10" y="773" width="3.5" height="4" fill="#000"/>
<rect x="640.06" y="773" width="3.5" height="4" fill="#000"/>
<rect x="657.02" y="773" width="3.5" height="4" fill="#000"/>
<rect x="673.98" y="773" width="3.5" height="4" fill="#000"/>
<rect x="690.94" y="773" width="3.5" height="4" fill="#000"/>
<rect x="707.90" y="773" width="3.5" height="4" fill="#000"/>
<rect x="724.86" y="773" width="3.5" height="4" fill="#000"/>
<rect x="741.82" y="773" width="3.5" height="4" fill="#000"/>
<rect x="758.78" y="773" width="3.5" height="4" fill="#000"/>
<rect x="775.74" y="773" width="3.5" height="4" fill="#000"/>
<rect x="792.70" y="773" width="3.5" height="4" fill="#000"/>
<rect x="809.66" y="773" width="3.5" height="4" fill="#000"/>
<rect x="826.62" y="773" width="3.5" height="4" fill="#000"/>
<rect x="843.58" y="773" width="3.5" height="4" fill="#000"/>
<rect x="860.54" y="773" width="3.5" height="4" fill="#000"/>
<rect x="877.50" y="773" width="3.5" height="4" fill="#000"/>
<rect x="894.46" y="773" width="3.5" height="4" fill="#000"/>
<rect x="911.42" y="773" width="3.5" height="4" fill="#000"/>
<rect x="928.38" y="773" width="3.5" height="4" fill="#000"/>
<rect x="945.34" y="773" width="3.5" height="4" fill="#000"/>
<rect x="962.30" y="773" width="3.5" height="4" fill="#000"/>
<rect x="979.26" y="773" width="3.5" height="4" fill="#000"/>
<rect x="996.22" y="773" width="3.5" height="4" fill="#000"/>
<rect x="1013.18" y="773" width="3.5" height="4" fill="#000"/>
<rect x="1030.14" y="773" width="3.5" height="4" fill="#000"/>
<rect x="1047.10" y="773" width="3.5" height="4" fill="#000"/>
<rect x="1064.06" y="773" width="3.5" height="4" fill="#000"/>
<rect x="1081.02" y="773" width="3.5" height="4" fill="#000"/>
<rect x="1097.98" y="773" width="3.5" height="4" fill="#000"/>
<rect x="1114.94" y="773" width="3.5" height="4" fill="#000"/>
<rect x="1131.90" y="773" width="3.5" height="4" fill="#000"/>
<rect x="1148.86" y="773" width="3.5" height="4" fill="#000"/>
<rect x="1165.82" y="773" width="3.5" height="4" fill="#000"/>
<text transform="translate(214.88,789.5) rotate(-90)" font-size="14"  text-anchor="end" fill="#000">1</text>
<text transform="translate(248.80,789.5) rotate(-90)" font-size="14"  text-anchor="end" fill="#000">3</text>
<text transform="translate(282.72,789.5) rotate(-90)" font-size="14"  text-anchor="end" fill="#000">5</text>
<text transform="translate(316.64,789.5) rotate(-90)" font-size="14"  text-anchor="end" fill="#000">7</text>
<text transform="translate(350.56,789.5) rotate(-90)" font-size="14"  text-anchor="end" fill="#000">9</text>
<text transform="translate(384.48,789.5) rotate(-90)" font-size="14"  text-anchor="end" fill="#000">11</text>
<text transform="translate(418.40,789.5) rotate(-90)" font-size="14"  text-anchor="end" fill="#000">13</text>
<text transform="translate(452.32,789.5) rotate(-90)" font-size="14"  text-anchor="end" fill="#000">15</text>
<text transform="translate(486.24,789.5) rotate(-90)" font-size="14"  text-anchor="end" fill="#000">17</text>
<text transform="translate(520.16,789.5) rotate(-90)" font-size="14"  text-anchor="end" fill="#000">19</text>
<text transform="translate(554.08,789.5) rotate(-90)" font-size="14"  text-anchor="end" fill="#000">21</text>
<text transform="translate(588.00,789.5) rotate(-90)" font-size="14"  text-anchor="end" fill="#000">23</text>
<text transform="translate(621.92,789.5) rotate(-90)" font-size="14"  text-anchor="end" fill="#000">25</text>
<text transform="translate(655.84,789.5) rotate(-90)" font-size="14"  text-anchor="end" fill="#000">27</text>
<text transform="translate(689.76,789.5) rotate(-90)" font-size="14"  text-anchor="end" fill="#000">29</text>
<text transform="translate(723.68,789.5) rotate(-90)" font-size="14"  text-anchor="end" fill="#000">31</text>
<text transform="translate(757.60,789.5) rotate(-90)" font-size="14"  text-anchor="end" fill="#000">33</text>
<text transform="translate(791.52,789.5) rotate(-90)" font-size="14"  text-anchor="end" fill="#000">35</text>
<text transform="translate(825.44,789.5) rotate(-90)" font-size="14"  text-anchor="end" fill="#000">37</text>
<text transform="translate(859.36,789.5) rotate(-90)" font-size="14"  text-anchor="end" fill="#000">39</text>
<text transform="translate(893.28,789.5) rotate(-90)" font-size="14"  text-anchor="end" fill="#000">41</text>
<text transform="translate(927.20,789.5) rotate(-90)" font-size="14"  text-anchor="end" fill="#000">43</text>
<text transform="translate(961.12,789.5) rotate(-90)" font-size="14"  text-anchor="end" fill="#000">45</text>
<text transform="translate(995.04,789.5) rotate(-90)" font-size="14"  text-anchor="end" fill="#000">47</text>
<text transform="translate(1028.96,789.5) rotate(-90)" font-size="14"  text-anchor="end" fill="#000">49</text>
<text transform="translate(1062.88,789.5) rotate(-90)" font-size="14"  text-anchor="end" fill="#000">51</text>
<text transform="translate(1096.80,789.5) rotate(-90)" font-size="14"  text-anchor="end" fill="#000">53</text>
<text transform="translate(1130.72,789.5) rotate(-90)" font-size="14"  text-anchor="end" fill="#000">55</text>
<text transform="translate(1164.64,789.5) rotate(-90)" font-size="14"  text-anchor="end" fill="#000">57</text>
<rect x="232.4" y="518.2" width="20" height="20.5" fill="#fff" stroke="#000" stroke-width="2.8"/>
<rect x="231" y="569.3" width="22.8" height="23.3" fill="#000" rx="1"/>
<text x="273.40" y="537.30" font-size="27.65" font-weight="bold" text-anchor="start" fill="#000">Normal bile duct</text>
<text x="274.20" y="590.50" font-size="27.9" font-weight="bold" text-anchor="start" fill="#000">CCA</text>
<text transform="translate(103.8,678.6) rotate(-90)" font-size="27.7" font-weight="bold" text-anchor="start" fill="#000">CypA</text>
<text transform="translate(137,769.7) rotate(-90)" font-size="27.6" font-weight="bold" text-anchor="start" fill="#000">Immunoreact. Index</text>
<text x="584.50" y="841.80" font-size="27.7" font-weight="bold" text-anchor="start" fill="#000">Patient Number</text>
<text x="45.40" y="492.10" font-size="35" font-weight="bold" text-anchor="start" fill="#000">B.</text>
<text transform="translate(710,436.4) rotate(-90)" font-size="27.4" font-weight="bold" text-anchor="start" fill="#000">CypA Immunoreactivity Index</text>
<text x="664.60" y="39.40" font-size="34.5" font-weight="bold" text-anchor="start" fill="#000">C.</text>
<rect x="829.7" y="228.50" width="127.1" height="194.10" fill="#fff" stroke="#000" stroke-width="3"/>
<rect x="829.7" y="323.55" width="127.1" height="4" fill="#000"/>
<rect x="1025.7" y="131.45" width="126.9" height="194.10" fill="#666" stroke="#000" stroke-width="3"/>
<rect x="1025.7" y="226.40" width="126.9" height="4.2" fill="#000"/>
<rect x="1087.5" y="325.55" width="3" height="97.05" fill="#000"/>
<rect x="772.1" y="82.3" width="3" height="342" fill="#000"/>
<rect x="760" y="421.2" width="410" height="3.1" fill="#000"/>
<rect x="1026" y="421.0" width="126" height="3.4" fill="#000"/>
<rect x="759" y="98.10" width="14" height="2" fill="#000"/>
<text x="752.50" y="108.90" font-size="27.5"  text-anchor="end" fill="#000">10</text>
<rect x="759" y="162.80" width="14" height="2" fill="#000"/>
<text x="749.50" y="173.60" font-size="27.5"  text-anchor="end" fill="#000">8</text>
<rect x="759" y="227.50" width="14" height="2" fill="#000"/>
<text x="749.50" y="238.30" font-size="27.5"  text-anchor="end" fill="#000">6</text>
<rect x="759" y="292.20" width="14" height="2" fill="#000"/>
<text x="749.50" y="303.00" font-size="27.5"  text-anchor="end" fill="#000">4</text>
<rect x="759" y="356.90" width="14" height="2" fill="#000"/>
<text x="749.50" y="367.70" font-size="27.5"  text-anchor="end" fill="#000">2</text>
<rect x="759" y="421.60" width="14" height="2" fill="#000"/>
<text x="749.50" y="432.40" font-size="27.5"  text-anchor="end" fill="#000">0</text>
<rect x="892.5" y="424" width="1.9" height="10" fill="#000"/>
<rect x="1088" y="424" width="1.7" height="10" fill="#000"/>
<text x="1073.50" y="126.40" font-size="31" font-weight="bold" text-anchor="start" fill="#000">**</text>
<text x="791.70" y="464.60" font-size="27.65" font-weight="bold" text-anchor="start" fill="#000">Normal bile duct</text>
<text x="858.60" y="497.50" font-size="28" font-weight="bold" text-anchor="start" fill="#000">(n=57)</text>
<text x="1056.90" y="464.60" font-size="27.9" font-weight="bold" text-anchor="start" fill="#000">CCA</text>
<text x="1045.80" y="497.50" font-size="28" font-weight="bold" text-anchor="start" fill="#000">(n=57)</text>
</svg>
</body></html>
